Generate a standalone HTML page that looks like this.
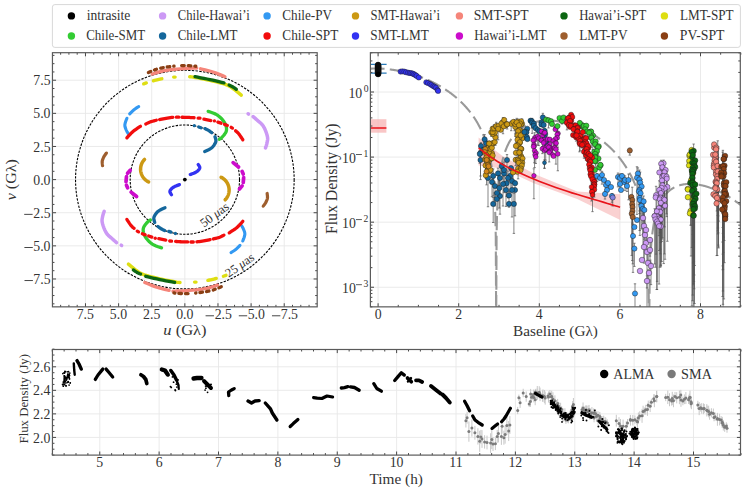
<!DOCTYPE html><html><head><meta charset="utf-8"><style>html,body{margin:0;padding:0;background:#fff;width:746px;height:492px;overflow:hidden}svg{display:block}text{font-family:"Liberation Serif",serif}</style></head><body><svg width="746" height="492" viewBox="0 0 746 492" font-family='"Liberation Serif", serif' fill="#333"><rect width="746" height="492" fill="#fff"/><path d="M284.23 52.7V306.85M251.1 52.7V306.85M217.97 52.7V306.85M184.85 52.7V306.85M151.72 52.7V306.85M118.6 52.7V306.85M85.47 52.7V306.85M52.45 278.98H317.2M52.45 245.85H317.2M52.45 212.72H317.2M52.45 179.6H317.2M52.45 146.47H317.2M52.45 113.35H317.2M52.45 80.22H317.2" stroke="#e8e8e8" stroke-width="0.9" fill="none"/><path d="M378.1 52.7V306.85M458.7 52.7V306.85M539.3 52.7V306.85M619.9 52.7V306.85M700.5 52.7V306.85M370.4 287.24H740.3M370.4 222.16H740.3M370.4 157.08H740.3M370.4 92H740.3" stroke="#e8e8e8" stroke-width="0.9" fill="none"/><path d="M99.75 349.5V455.1M159.12 349.5V455.1M218.5 349.5V455.1M277.88 349.5V455.1M337.25 349.5V455.1M396.62 349.5V455.1M456 349.5V455.1M515.38 349.5V455.1M574.75 349.5V455.1M634.12 349.5V455.1M693.5 349.5V455.1M52.45 437.42H740.5M52.45 413.88H740.5M52.45 390.34H740.5M52.45 366.8H740.5" stroke="#e8e8e8" stroke-width="0.9" fill="none"/><defs><clipPath id="clipL"><rect x="52.45" y="52.7" width="264.75" height="254.15"/></clipPath></defs><g clip-path="url(#clipL)"><circle cx="184.85" cy="179.6" r="109.31" fill="none" stroke="#000" stroke-width="1.1" stroke-dasharray="2.4 1.3"/><circle cx="184.85" cy="179.6" r="54.66" fill="none" stroke="#000" stroke-width="1.1" stroke-dasharray="2.4 1.3"/><circle cx="184.85" cy="179.6" r="1.9" fill="#000"/><polyline points="208.16,111.34 209.53,111.79 211.54,112.46 213.66,113.25 215.68,114.13 217.4,115.1 218.88,116.2 220.3,117.44 221.62,118.78 222.81,120.17 223.85,121.56 224.7,122.9 225.38,124.21 225.91,125.54 226.29,126.87 226.5,128.18 226.54,129.46 226.4,130.7 226,131.93 225.34,133.17 224.51,134.38 223.6,135.51 222.7,136.53 221.9,137.4 221.15,138.1 220.35,138.67 219.57,139.12 219.28,139.26" fill="none" stroke="#33cc33" stroke-width="3.3" stroke-linecap="round" stroke-linejoin="round"/><polyline points="161.54,247.86 160.17,247.41 158.16,246.74 156.04,245.95 154.02,245.07 152.3,244.1 150.82,243 149.4,241.76 148.08,240.42 146.89,239.03 145.85,237.64 145,236.3 144.32,234.99 143.79,233.66 143.41,232.33 143.2,231.02 143.16,229.74 143.3,228.5 143.7,227.27 144.36,226.03 145.19,224.82 146.1,223.69 147,222.67 147.8,221.8 148.55,221.1 149.35,220.53 150.13,220.08 150.42,219.94" fill="none" stroke="#33cc33" stroke-width="3.3" stroke-linecap="round" stroke-linejoin="round"/><polyline points="248.07,113.75 248.53,114.05" fill="none" stroke="#cc99f5" stroke-width="3.5" stroke-linecap="round" stroke-linejoin="round"/><polyline points="121.63,245.45 121.17,245.15" fill="none" stroke="#cc99f5" stroke-width="3.5" stroke-linecap="round" stroke-linejoin="round"/><polyline points="253.14,116.63 254,117.36 254.99,118.2 256,119.09 257,120 258.02,120.9 259.13,121.82 260.27,122.79 261.4,123.84 262.46,125 263.4,126.3 264.26,127.82 265.07,129.55 265.82,131.39 266.48,133.23 267.02,134.97 267.4,136.5 267.61,137.8 267.66,138.94 267.58,139.98 267.42,140.96 267.22,141.95 267,143 266.72,144.17 266.35,145.44 265.93,146.71 265.51,147.89 265.48,147.95" fill="none" stroke="#cc99f5" stroke-width="3.5" stroke-linecap="round" stroke-linejoin="round"/><polyline points="116.56,242.57 115.7,241.84 114.71,241 113.7,240.11 112.7,239.2 111.67,238.3 110.57,237.38 109.42,236.41 108.3,235.36 107.24,234.2 106.3,232.9 105.44,231.38 104.63,229.65 103.88,227.81 103.22,225.97 102.68,224.23 102.3,222.7 102.09,221.4 102.04,220.26 102.12,219.22 102.28,218.24 102.48,217.25 102.7,216.2 102.98,215.03 103.35,213.76 103.77,212.49 104.19,211.31 104.22,211.25" fill="none" stroke="#cc99f5" stroke-width="3.5" stroke-linecap="round" stroke-linejoin="round"/><circle cx="194.3" cy="125.7" r="1.65" fill="#14679c"/><circle cx="175.4" cy="233.5" r="1.65" fill="#14679c"/><polyline points="198.76,127.03 200.94,127.77" fill="none" stroke="#14679c" stroke-width="3.3" stroke-linecap="round" stroke-linejoin="round"/><polyline points="170.94,232.17 168.76,231.43" fill="none" stroke="#14679c" stroke-width="3.3" stroke-linecap="round" stroke-linejoin="round"/><polyline points="204.99,128.6 205.72,128.94 206.69,129.41 207.64,129.9 208.5,130.4 209.33,130.95 210.2,131.59 211.06,132.26 211.71,132.77" fill="none" stroke="#14679c" stroke-width="3.3" stroke-linecap="round" stroke-linejoin="round"/><polyline points="164.71,230.6 163.98,230.26 163.01,229.79 162.06,229.3 161.2,228.8 160.37,228.25 159.5,227.61 158.64,226.94 157.99,226.43" fill="none" stroke="#14679c" stroke-width="3.3" stroke-linecap="round" stroke-linejoin="round"/><polyline points="214.95,136.75 215.33,137.81 215.67,138.95 215.89,140.08 215.9,141.1 215.68,142.06 215.3,143.03 214.79,143.98 214.21,144.9 213.6,145.74 213,146.5 212.42,147.14 211.81,147.69 211.18,148.17 210.51,148.61 209.78,149.05 209,149.5 208.07,150 206.99,150.52 205.85,151.04 204.77,151.51 204.71,151.54" fill="none" stroke="#14679c" stroke-width="3.3" stroke-linecap="round" stroke-linejoin="round"/><polyline points="154.75,222.45 154.37,221.39 154.03,220.25 153.81,219.12 153.8,218.1 154.02,217.14 154.4,216.17 154.91,215.22 155.49,214.3 156.1,213.46 156.7,212.7 157.28,212.06 157.89,211.51 158.52,211.03 159.19,210.59 159.92,210.15 160.7,209.7 161.63,209.2 162.71,208.68 163.85,208.16 164.93,207.69 164.99,207.66" fill="none" stroke="#14679c" stroke-width="3.3" stroke-linecap="round" stroke-linejoin="round"/><polyline points="138.68,106.61 138.42,106.76 137.34,107.42 136.18,108.15 135.03,108.92 134,109.7 133,110.56 131.96,111.56 130.93,112.59 129.98,113.57 129.68,113.89" fill="none" stroke="#3399f2" stroke-width="3.1" stroke-linecap="round" stroke-linejoin="round"/><polyline points="231.02,252.59 231.28,252.44 232.36,251.78 233.52,251.05 234.67,250.28 235.7,249.5 236.7,248.64 237.74,247.64 238.77,246.61 239.72,245.63 240.02,245.31" fill="none" stroke="#3399f2" stroke-width="3.1" stroke-linecap="round" stroke-linejoin="round"/><polyline points="126.94,118.24 126.69,118.86 126.13,120.28 125.59,121.77 125.15,123.19 124.9,124.4 124.85,125.39 124.93,126.29 125.12,127.11 125.38,127.89 125.68,128.68 126,129.5 126.39,130.41 126.88,131.39 127.42,132.37 127.93,133.26" fill="none" stroke="#3399f2" stroke-width="3.1" stroke-linecap="round" stroke-linejoin="round"/><polyline points="242.76,240.96 243.01,240.34 243.57,238.92 244.11,237.43 244.55,236.01 244.8,234.8 244.85,233.81 244.77,232.91 244.58,232.09 244.32,231.31 244.02,230.52 243.7,229.7 243.31,228.79 242.82,227.81 242.28,226.83 241.77,225.94" fill="none" stroke="#3399f2" stroke-width="3.1" stroke-linecap="round" stroke-linejoin="round"/><polyline points="126.88,137.86 126.92,137.81 127.91,136.71 129.08,135.41 130.37,134.03 131.7,132.68 133,131.5 134.39,130.4 135.96,129.29 137.57,128.21 139.09,127.23 140.38,126.4 140.46,126.35" fill="none" stroke="#f20d0d" stroke-width="3.3" stroke-linecap="round" stroke-linejoin="round"/><polyline points="242.82,221.34 242.78,221.39 241.79,222.49 240.62,223.79 239.33,225.17 238,226.52 236.7,227.7 235.31,228.8 233.74,229.91 232.12,230.99 230.61,231.97 229.32,232.8 229.24,232.85" fill="none" stroke="#f20d0d" stroke-width="3.3" stroke-linecap="round" stroke-linejoin="round"/><polyline points="145.78,124.03 146.14,123.83 146.99,123.38 147.95,122.89 148.96,122.42 150,122 151.17,121.61 152.54,121.22 153.97,120.84 155.33,120.5 156.33,120.25" fill="none" stroke="#f20d0d" stroke-width="3.3" stroke-linecap="round" stroke-linejoin="round"/><polyline points="223.92,235.17 223.56,235.37 222.71,235.82 221.75,236.31 220.74,236.78 219.7,237.2 218.53,237.59 217.16,237.98 215.73,238.36 214.37,238.7 213.37,238.95" fill="none" stroke="#f20d0d" stroke-width="3.3" stroke-linecap="round" stroke-linejoin="round"/><polyline points="159.58,119.51 160.5,119.33 161.81,119.07 163.23,118.8 164.66,118.53 166,118.3 167.37,118.09 168.86,117.87 170.36,117.66 171.76,117.47 172.81,117.33" fill="none" stroke="#f20d0d" stroke-width="3.3" stroke-linecap="round" stroke-linejoin="round"/><polyline points="210.12,239.69 209.2,239.87 207.89,240.13 206.47,240.4 205.04,240.67 203.7,240.9 202.33,241.11 200.84,241.33 199.34,241.54 197.94,241.73 196.89,241.87" fill="none" stroke="#f20d0d" stroke-width="3.3" stroke-linecap="round" stroke-linejoin="round"/><polyline points="176.4,117.2 178.8,117.2" fill="none" stroke="#f20d0d" stroke-width="3.3" stroke-linecap="round" stroke-linejoin="round"/><polyline points="193.3,242 190.9,242" fill="none" stroke="#f20d0d" stroke-width="3.3" stroke-linecap="round" stroke-linejoin="round"/><polyline points="182,117.23 182.81,117.24 184.06,117.28 185.4,117.31 186.75,117.35 188,117.4 189.26,117.46 190.62,117.53 191.99,117.61 193.26,117.69 194.1,117.74" fill="none" stroke="#f20d0d" stroke-width="3.3" stroke-linecap="round" stroke-linejoin="round"/><polyline points="187.7,241.97 186.89,241.96 185.64,241.92 184.3,241.89 182.95,241.85 181.7,241.8 180.44,241.74 179.08,241.67 177.71,241.59 176.44,241.51 175.6,241.46" fill="none" stroke="#f20d0d" stroke-width="3.3" stroke-linecap="round" stroke-linejoin="round"/><polyline points="198.1,118.08 200,118.22" fill="none" stroke="#f20d0d" stroke-width="3.3" stroke-linecap="round" stroke-linejoin="round"/><polyline points="171.6,241.12 169.7,240.98" fill="none" stroke="#f20d0d" stroke-width="3.3" stroke-linecap="round" stroke-linejoin="round"/><polyline points="203.88,119.19 210.92,120.51" fill="none" stroke="#f20d0d" stroke-width="3.3" stroke-linecap="round" stroke-linejoin="round"/><polyline points="165.82,240.01 158.78,238.69" fill="none" stroke="#f20d0d" stroke-width="3.3" stroke-linecap="round" stroke-linejoin="round"/><circle cx="214.45" cy="120.95" r="1.65" fill="#f20d0d"/><circle cx="155.25" cy="238.25" r="1.65" fill="#f20d0d"/><polyline points="217.85,122.12 221.05,123.18" fill="none" stroke="#f20d0d" stroke-width="3.3" stroke-linecap="round" stroke-linejoin="round"/><polyline points="151.85,237.08 148.65,236.02" fill="none" stroke="#f20d0d" stroke-width="3.3" stroke-linecap="round" stroke-linejoin="round"/><polyline points="224.53,124.36 227.37,125.44" fill="none" stroke="#f20d0d" stroke-width="3.3" stroke-linecap="round" stroke-linejoin="round"/><polyline points="145.17,234.84 142.33,233.76" fill="none" stroke="#f20d0d" stroke-width="3.3" stroke-linecap="round" stroke-linejoin="round"/><polyline points="231.16,127.31 232.44,128.09" fill="none" stroke="#f20d0d" stroke-width="3.3" stroke-linecap="round" stroke-linejoin="round"/><polyline points="138.54,231.89 137.26,231.11" fill="none" stroke="#f20d0d" stroke-width="3.3" stroke-linecap="round" stroke-linejoin="round"/><polyline points="235.59,130.82 235.71,130.91 236.34,131.41 237.04,132 237.77,132.69 238.5,133.5 239.3,134.55 240.23,135.85 241.18,137.26 242.09,138.62 242.84,139.77" fill="none" stroke="#f20d0d" stroke-width="3.3" stroke-linecap="round" stroke-linejoin="round"/><polyline points="134.11,228.38 133.99,228.29 133.36,227.79 132.66,227.2 131.93,226.51 131.2,225.7 130.4,224.65 129.47,223.35 128.52,221.94 127.61,220.58 126.86,219.43" fill="none" stroke="#f20d0d" stroke-width="3.3" stroke-linecap="round" stroke-linejoin="round"/><polyline points="144.53,159.4 144.3,159.63 144,159.96 143.74,160.28 143.48,160.61 143.23,160.95 142.99,161.29 142.76,161.64 142.55,162 142.34,162.36 142.14,162.73 141.96,163.11 141.78,163.49 141.62,163.88 141.47,164.27 141.33,164.66 141.21,165.06 141.09,165.47 140.99,165.87 140.89,166.28 140.81,166.69 140.75,167.1 140.69,167.52 140.65,167.94 140.62,168.36 140.6,168.78 140.59,169.19 140.6,169.61 140.62,170.03 140.65,170.45 140.7,170.87 140.75,171.28 140.82,171.69 140.9,172.1 140.99,172.51 141.1,172.92 141.21,173.32 141.34,173.72 141.48,174.12 141.63,174.51 141.8,174.89 141.97,175.27 142.16,175.65 142.36,176.02 142.56,176.38 142.78,176.74 143.01,177.09 143.25,177.44 143.5,177.77 143.76,178.1 144.02,178.43 144.3,178.74 144.59,179.04 144.89,179.34 145.19,179.63 145.5,179.91 145.82,180.18 146.15,180.44 146.49,180.68 146.83,180.93 147.18,181.16 147.54,181.37 147.9,181.58 148.3,181.79 148.59,181.92" fill="none" stroke="#cc9914" stroke-width="3.5" stroke-linecap="round" stroke-linejoin="round"/><polyline points="225.17,199.8 225.4,199.57 225.7,199.24 225.96,198.92 226.22,198.59 226.47,198.25 226.71,197.91 226.94,197.56 227.15,197.2 227.36,196.84 227.56,196.47 227.74,196.09 227.92,195.71 228.08,195.32 228.23,194.93 228.37,194.54 228.49,194.14 228.61,193.73 228.71,193.33 228.81,192.92 228.89,192.51 228.95,192.1 229.01,191.68 229.05,191.26 229.08,190.84 229.1,190.42 229.11,190.01 229.1,189.59 229.08,189.17 229.05,188.75 229,188.33 228.95,187.92 228.88,187.51 228.8,187.1 228.71,186.69 228.6,186.28 228.49,185.88 228.36,185.48 228.22,185.08 228.07,184.69 227.9,184.31 227.73,183.93 227.54,183.55 227.34,183.18 227.14,182.82 226.92,182.46 226.69,182.11 226.45,181.76 226.2,181.43 225.94,181.1 225.68,180.77 225.4,180.46 225.11,180.16 224.81,179.86 224.51,179.57 224.2,179.29 223.88,179.02 223.55,178.76 223.21,178.52 222.87,178.27 222.52,178.04 222.16,177.83 221.8,177.62 221.4,177.41 221.11,177.28" fill="none" stroke="#cc9914" stroke-width="3.5" stroke-linecap="round" stroke-linejoin="round"/><polyline points="198.19,164.52 198.72,165.24 199.3,166.13 199.7,167 199.8,167.8 199.6,168.54 199.2,169.27 198.63,169.99 197.92,170.7 197.1,171.37 196.2,172 195.09,172.62 193.71,173.23 192.22,173.81 190.79,174.34 190.25,174.53" fill="none" stroke="#3333f2" stroke-width="3.3" stroke-linecap="round" stroke-linejoin="round"/><polyline points="171.51,194.68 170.97,193.96 170.4,193.07 170,192.2 169.9,191.4 170.1,190.66 170.5,189.93 171.07,189.21 171.78,188.5 172.6,187.83 173.5,187.2 174.61,186.58 175.99,185.97 177.47,185.39 178.91,184.86 179.45,184.67" fill="none" stroke="#3333f2" stroke-width="3.3" stroke-linecap="round" stroke-linejoin="round"/><polyline points="152.18,74.11 154.2,73.46 156.67,72.67 159.4,71.86 162.22,71.1 165,70.5 167.82,70.04 170.83,69.66 173.94,69.33 177.06,69.06 180.11,68.82 183,68.6 185.9,68.42 188.9,68.28 191.82,68.18 194.5,68.11 196.75,68.05" fill="none" stroke="#f5857a" stroke-width="3.3" stroke-linecap="round" stroke-linejoin="round"/><polyline points="217.52,285.09 215.5,285.74 213.03,286.53 210.3,287.34 207.47,288.1 204.7,288.7 201.88,289.16 198.87,289.54 195.76,289.87 192.64,290.14 189.59,290.38 186.7,290.6 183.8,290.78 180.8,290.92 177.87,291.02 175.2,291.09 172.95,291.15" fill="none" stroke="#f5857a" stroke-width="3.3" stroke-linecap="round" stroke-linejoin="round"/><polyline points="200.6,68.79 202.65,69.27 205.16,69.87 207.85,70.54 210.53,71.26 213,72 215.44,72.85 218.04,73.84 220.62,74.88 223.02,75.86 224.97,76.68" fill="none" stroke="#f5857a" stroke-width="3.3" stroke-linecap="round" stroke-linejoin="round"/><polyline points="169.1,290.41 167.05,289.93 164.54,289.33 161.85,288.66 159.17,287.94 156.7,287.2 154.26,286.35 151.66,285.36 149.07,284.32 146.68,283.34 144.73,282.52" fill="none" stroke="#f5857a" stroke-width="3.3" stroke-linecap="round" stroke-linejoin="round"/><polyline points="130.24,170.2 127.56,173.3" fill="none" stroke="#cc0ccc" stroke-width="3.7" stroke-linecap="round" stroke-linejoin="round"/><polyline points="239.46,189 242.14,185.9" fill="none" stroke="#cc0ccc" stroke-width="3.7" stroke-linecap="round" stroke-linejoin="round"/><polyline points="126.47,176.7 126.03,181.6" fill="none" stroke="#cc0ccc" stroke-width="3.7" stroke-linecap="round" stroke-linejoin="round"/><polyline points="243.23,182.5 243.67,177.6" fill="none" stroke="#cc0ccc" stroke-width="3.7" stroke-linecap="round" stroke-linejoin="round"/><polyline points="126.46,185.17 127.64,187.83" fill="none" stroke="#cc0ccc" stroke-width="3.7" stroke-linecap="round" stroke-linejoin="round"/><polyline points="243.24,174.03 242.06,171.37" fill="none" stroke="#cc0ccc" stroke-width="3.7" stroke-linecap="round" stroke-linejoin="round"/><polyline points="131.11,192.15 136.59,196.55" fill="none" stroke="#cc0ccc" stroke-width="3.7" stroke-linecap="round" stroke-linejoin="round"/><polyline points="238.59,167.05 233.11,162.65" fill="none" stroke="#cc0ccc" stroke-width="3.7" stroke-linecap="round" stroke-linejoin="round"/><polyline points="143.71,83.85 146.29,82.95" fill="none" stroke="#dede12" stroke-width="3.4" stroke-linecap="round" stroke-linejoin="round"/><polyline points="225.99,275.35 223.41,276.25" fill="none" stroke="#dede12" stroke-width="3.4" stroke-linecap="round" stroke-linejoin="round"/><polyline points="153.44,80.76 154.56,80.47 155.76,80.16 156.94,79.86 158,79.6 159.02,79.38 160.09,79.16 161.14,78.95 161.83,78.82" fill="none" stroke="#dede12" stroke-width="3.4" stroke-linecap="round" stroke-linejoin="round"/><polyline points="216.26,278.44 215.14,278.73 213.94,279.04 212.76,279.34 211.7,279.6 210.68,279.83 209.61,280.04 208.56,280.25 207.87,280.38" fill="none" stroke="#dede12" stroke-width="3.4" stroke-linecap="round" stroke-linejoin="round"/><polyline points="173.7,77.1 175.1,77.1" fill="none" stroke="#dede12" stroke-width="3.4" stroke-linecap="round" stroke-linejoin="round"/><polyline points="196,282.1 194.6,282.1" fill="none" stroke="#dede12" stroke-width="3.4" stroke-linecap="round" stroke-linejoin="round"/><polyline points="189.7,76.75 190.34,76.77 191.51,76.87 193.1,77.1 195.25,77.47 197.91,77.95 200.91,78.52 204.04,79.14 207.13,79.77 210,80.4 212.74,81.03 215.53,81.68 218.28,82.35 220.9,83.03 223.3,83.72 225.4,84.4 227.09,85.04 228.44,85.63 229.56,86.22 230.61,86.86 231.71,87.61 233,88.5 234.6,89.66 236.41,91.09 238.28,92.61 240.04,94.07 241.29,95.12" fill="none" stroke="#dede12" stroke-width="3.4" stroke-linecap="round" stroke-linejoin="round"/><polyline points="180,282.45 179.36,282.43 178.19,282.33 176.6,282.1 174.45,281.73 171.79,281.25 168.79,280.68 165.66,280.06 162.57,279.43 159.7,278.8 156.96,278.17 154.17,277.52 151.42,276.85 148.8,276.17 146.4,275.48 144.3,274.8 142.61,274.16 141.26,273.57 140.14,272.98 139.09,272.34 137.99,271.59 136.7,270.7 135.1,269.54 133.29,268.11 131.42,266.59 129.66,265.13 128.41,264.08" fill="none" stroke="#dede12" stroke-width="3.4" stroke-linecap="round" stroke-linejoin="round"/><polyline points="195.02,76.71 195.22,76.74 197.74,77.21 200.73,77.77 203.93,78.38 207.1,79 210,79.6 212.84,80.23 215.85,80.93 218.84,81.65 221.59,82.32 223.91,82.89 224,82.91" fill="none" stroke="#0c6612" stroke-width="3.3" stroke-linecap="round" stroke-linejoin="round"/><polyline points="174.68,282.49 174.48,282.46 171.96,281.99 168.97,281.43 165.77,280.82 162.6,280.2 159.7,279.6 156.86,278.97 153.85,278.27 150.86,277.55 148.11,276.88 145.79,276.31 145.7,276.29" fill="none" stroke="#0c6612" stroke-width="3.3" stroke-linecap="round" stroke-linejoin="round"/><polyline points="229.1,85.08 230.01,85.49 231.05,85.99 232.08,86.5 233,87 233.88,87.55 234.79,88.17 235.69,88.81 236.37,89.32" fill="none" stroke="#0c6612" stroke-width="3.3" stroke-linecap="round" stroke-linejoin="round"/><polyline points="140.6,274.12 139.69,273.71 138.65,273.21 137.62,272.7 136.7,272.2 135.82,271.65 134.91,271.03 134.01,270.39 133.33,269.88" fill="none" stroke="#0c6612" stroke-width="3.3" stroke-linecap="round" stroke-linejoin="round"/><polyline points="106.44,153.08 106.08,153.55 105.53,154.3 105.01,155 104.6,155.6 104.29,156.07 104.05,156.46 103.84,156.81 103.66,157.16 103.49,157.54 103.3,158 103.09,158.52 102.86,159.07 102.63,159.65 102.43,160.28 102.28,160.96 102.2,161.7 102.21,162.59 102.3,163.63 102.43,164.73 102.57,165.72" fill="none" stroke="#9e5e2e" stroke-width="3.2" stroke-linecap="round" stroke-linejoin="round"/><polyline points="263.26,206.12 263.62,205.65 264.17,204.9 264.69,204.2 265.1,203.6 265.41,203.13 265.65,202.74 265.86,202.39 266.04,202.04 266.21,201.66 266.4,201.2 266.61,200.68 266.84,200.13 267.07,199.55 267.27,198.92 267.42,198.24 267.5,197.5 267.49,196.61 267.4,195.57 267.27,194.47 267.13,193.48" fill="none" stroke="#9e5e2e" stroke-width="3.2" stroke-linecap="round" stroke-linejoin="round"/><polyline points="148.4,72.5 149.08,72.19 150.04,71.74 151.04,71.3 152,70.9 153.02,70.5 154.16,70.08 155.32,69.66 156.41,69.27 156.45,69.25" fill="none" stroke="#8a3f14" stroke-width="3.3" stroke-linecap="round" stroke-linejoin="round" stroke-dasharray="2.6 4.0"/><polyline points="221.3,286.7 220.62,287.01 219.66,287.46 218.66,287.9 217.7,288.3 216.68,288.7 215.54,289.12 214.38,289.54 213.29,289.93 213.25,289.95" fill="none" stroke="#8a3f14" stroke-width="3.3" stroke-linecap="round" stroke-linejoin="round" stroke-dasharray="2.6 4.0"/><polyline points="160.72,68.17 161.12,68.09 162.51,67.81 164.01,67.52 165.55,67.24 167,67 168.5,66.79 170.16,66.59 171.84,66.41 173.41,66.24 174.06,66.17" fill="none" stroke="#8a3f14" stroke-width="3.3" stroke-linecap="round" stroke-linejoin="round" stroke-dasharray="2.6 4.0"/><polyline points="208.98,291.03 208.58,291.11 207.19,291.39 205.69,291.68 204.15,291.96 202.7,292.2 201.2,292.41 199.54,292.61 197.86,292.79 196.29,292.96 195.64,293.03" fill="none" stroke="#8a3f14" stroke-width="3.3" stroke-linecap="round" stroke-linejoin="round" stroke-dasharray="2.6 4.0"/><polyline points="181.65,65.6 182.36,65.6 183.97,65.61 185.71,65.62 187.43,65.65 189,65.7 190.53,65.79 192.16,65.91 193.76,66.06 195.24,66.2 195.76,66.25" fill="none" stroke="#8a3f14" stroke-width="3.3" stroke-linecap="round" stroke-linejoin="round" stroke-dasharray="2.6 4.0"/><polyline points="188.05,293.6 187.34,293.6 185.72,293.59 183.99,293.58 182.27,293.55 180.7,293.5 179.17,293.41 177.54,293.29 175.94,293.14 174.46,293 173.94,292.95" fill="none" stroke="#8a3f14" stroke-width="3.3" stroke-linecap="round" stroke-linejoin="round" stroke-dasharray="2.6 4.0"/></g><text transform="translate(217 218) rotate(-37)" font-size="12.5" text-anchor="middle">50 <tspan font-style="italic">μ</tspan>as</text><text transform="translate(242 268.5) rotate(-35)" font-size="12.5" text-anchor="middle">25 <tspan font-style="italic">μ</tspan>as</text><defs><clipPath id="clipR"><rect x="370.4" y="52.7" width="369.9" height="254.15"/></clipPath></defs><g clip-path="url(#clipR)"><rect x="370.4" y="119.2" width="16" height="13.5" fill="#f7b3b3" opacity="0.75"/><line x1="370.4" y1="128" x2="386.4" y2="128" stroke="#e8141b" stroke-width="1.6"/><polygon points="478.6,137.5 502.2,155.7 534.3,174 577.2,191.5 620.3,194.3 620.3,220.1 577.2,199 534.3,183.6 502.2,168.6 478.6,165.4" fill="#f7b3b3" opacity="0.6"/><polyline points="370.04,68.69 370.44,68.66 370.85,68.64 371.25,68.62 371.65,68.6 372.06,68.58 372.46,68.56 372.86,68.55 373.26,68.53 373.67,68.52 374.07,68.51 374.47,68.5 374.88,68.49 375.28,68.48 375.68,68.47 376.09,68.46 376.49,68.46 376.89,68.45 377.29,68.45 377.7,68.45 378.1,68.45 378.5,68.46 378.91,68.48 379.31,68.5 379.71,68.52 380.12,68.54 380.52,68.56 380.92,68.58 381.32,68.61 381.73,68.63 382.13,68.66 382.53,68.69 382.94,68.72 383.34,68.75 383.74,68.78 384.15,68.81 384.55,68.85 384.95,68.88 385.35,68.92 385.76,68.96 386.16,68.99 386.56,69.03 386.97,69.08 387.37,69.12 387.77,69.16 388.18,69.21 388.58,69.25 388.98,69.3 389.38,69.35 389.79,69.4 390.19,69.45 390.59,69.5 391,69.56 391.4,69.61 391.8,69.67 392.21,69.72 392.61,69.78 393.01,69.84 393.41,69.9 393.82,69.96 394.22,70.03 394.62,70.09 395.03,70.16 395.43,70.22 395.83,70.29 396.24,70.36 396.64,70.43 397.04,70.5 397.44,70.58 397.85,70.65 398.25,70.73 398.65,70.8 399.06,70.88 399.46,70.96 399.86,71.04 400.27,71.12 400.67,71.21 401.07,71.29 401.47,71.38 401.88,71.46 402.28,71.55 402.68,71.64 403.09,71.73 403.49,71.82 403.89,71.92 404.3,72.01 404.7,72.11 405.1,72.2 405.5,72.3 405.91,72.4 406.31,72.5 406.71,72.61 407.12,72.71 407.52,72.81 407.92,72.92 408.33,73.03 408.73,73.14 409.13,73.25 409.53,73.36 409.94,73.47 410.34,73.59 410.74,73.7 411.15,73.82 411.55,73.94 411.95,74.06 412.36,74.18 412.76,74.3 413.16,74.42 413.56,74.55 413.97,74.68 414.37,74.8 414.77,74.93 415.18,75.06 415.58,75.2 415.98,75.33 416.39,75.46 416.79,75.6 417.19,75.74 417.59,75.88 418,76.02 418.4,76.16 418.8,76.3 419.21,76.45 419.61,76.6 420.01,76.74 420.42,76.89 420.82,77.04 421.22,77.2 421.62,77.35 422.03,77.51 422.43,77.66 422.83,77.82 423.24,77.98 423.64,78.14 424.04,78.31 424.45,78.47 424.85,78.64 425.25,78.81 425.65,78.98 426.06,79.15 426.46,79.32 426.86,79.49 427.27,79.67 427.67,79.85 428.07,80.03 428.48,80.21 428.88,80.39 429.28,80.57 429.68,80.76 430.09,80.95 430.49,81.14 430.89,81.33 431.3,81.52 431.7,81.72 432.1,81.91 432.51,82.11 432.91,82.31 433.31,82.51 433.71,82.72 434.12,82.92 434.52,83.13 434.92,83.34 435.33,83.55 435.73,83.76 436.13,83.98 436.54,84.19 436.94,84.41 437.34,84.63 437.74,84.86 438.15,85.08 438.55,85.31 438.95,85.54 439.36,85.77 439.76,86 440.16,86.23 440.57,86.47 440.97,86.71 441.37,86.95 441.77,87.2 442.18,87.44 442.58,87.69 442.98,87.94 443.39,88.19 443.79,88.45 444.19,88.7 444.6,88.96 445,89.22 445.4,89.49 445.8,89.76 446.21,90.02 446.61,90.3 447.01,90.57 447.42,90.85 447.82,91.13 448.22,91.41 448.63,91.69 449.03,91.98 449.43,92.27 449.83,92.56 450.24,92.86 450.64,93.15 451.04,93.45 451.45,93.76 451.85,94.06 452.25,94.37 452.66,94.69 453.06,95 453.46,95.32 453.86,95.64 454.27,95.97 454.67,96.3 455.07,96.63 455.48,96.96 455.88,97.3 456.28,97.64 456.69,97.99 457.09,98.34 457.49,98.69 457.89,99.05 458.3,99.41 458.7,99.77 459.1,100.14 459.51,100.51 459.91,100.89 460.31,101.27 460.72,101.65 461.12,102.04 461.52,102.43 461.92,102.83 462.33,103.23 462.73,103.64 463.13,104.05 463.54,104.46 463.94,104.88 464.34,105.31 464.74,105.74 465.15,106.18 465.55,106.62 465.95,107.07 466.36,107.52 466.76,107.98 467.16,108.44 467.57,108.91 467.97,109.39 468.37,109.87 468.77,110.36 469.18,110.86 469.58,111.36 469.98,111.87 470.39,112.39 470.79,112.92 471.19,113.45 471.6,113.99 472,114.54 472.4,115.1 472.8,115.67 473.21,116.24 473.61,116.83 474.01,117.42 474.42,118.03 474.82,118.64 475.22,119.27 475.63,119.9 476.03,120.55 476.43,121.21 476.83,121.88 477.24,122.57 477.64,123.27 478.04,123.98 478.45,124.71 478.85,125.45 479.25,126.21 479.66,126.99 480.06,127.78 480.46,128.59 480.86,129.42 481.27,130.27 481.67,131.14 482.07,132.04 482.48,132.96 482.88,133.9 483.28,134.87 483.69,135.87 484.09,136.89 484.49,137.95 484.89,139.05 485.3,140.18 485.7,141.35 486.1,142.56 486.51,143.82 486.91,145.13 487.31,146.5 487.72,147.92 488.12,149.41 488.52,150.96 488.92,152.6 489.33,154.33 489.73,156.15 490.13,158.09 490.54,160.15 490.94,162.36 491.34,164.74 491.75,167.32 492.15,170.13 492.55,173.23 492.95,176.68 493.36,180.58 493.76,185.06 494.16,190.35 494.57,196.8 494.97,205.1 495.37,216.77 495.78,236.78 496.18,330 496.58,235.82 496.98,216.66 497.39,205.42 497.79,197.47 498.19,191.32 498.6,186.31 499,182.1 499.4,178.46 499.81,175.27 500.21,172.42 500.61,169.87 501.01,167.54 501.42,165.41 501.82,163.45 502.22,161.64 502.63,159.95 503.03,158.37 503.43,156.89 503.84,155.49 504.24,154.18 504.64,152.94 505.04,151.76 505.45,150.64 505.85,149.58 506.25,148.56 506.66,147.59 507.06,146.66 507.46,145.78 507.87,144.93 508.27,144.11 508.67,143.33 509.07,142.57 509.48,141.84 509.88,141.14 510.28,140.47 510.69,139.82 511.09,139.19 511.49,138.58 511.9,138 512.3,137.43 512.7,136.88 513.1,136.35 513.51,135.83 513.91,135.34 514.31,134.85 514.72,134.38 515.12,133.93 515.52,133.49 515.93,133.06 516.33,132.64 516.73,132.24 517.13,131.85 517.54,131.46 517.94,131.09 518.34,130.73 518.75,130.38 519.15,130.04 519.55,129.71 519.96,129.39 520.36,129.08 520.76,128.77 521.16,128.48 521.57,128.19 521.97,127.91 522.37,127.64 522.78,127.37 523.18,127.12 523.58,126.86 523.99,126.62 524.39,126.38 524.79,126.15 525.19,125.93 525.6,125.71 526,125.5 526.4,125.29 526.81,125.09 527.21,124.9 527.61,124.71 528.02,124.52 528.42,124.35 528.82,124.17 529.22,124 529.63,123.84 530.03,123.68 530.43,123.53 530.84,123.38 531.24,123.24 531.64,123.1 532.05,122.96 532.45,122.83 532.85,122.7 533.25,122.58 533.66,122.46 534.06,122.35 534.46,122.24 534.87,122.13 535.27,122.03 535.67,121.93 536.08,121.84 536.48,121.75 536.88,121.66 537.28,121.57 537.69,121.49 538.09,121.42 538.49,121.34 538.9,121.27 539.3,121.21 539.7,121.14 540.11,121.09 540.51,121.03 540.91,120.97 541.31,120.92 541.72,120.88 542.12,120.83 542.52,120.79 542.93,120.75 543.33,120.72 543.73,120.69 544.14,120.66 544.54,120.63 544.94,120.61 545.34,120.59 545.75,120.57 546.15,120.55 546.55,120.54 546.96,120.53 547.36,120.53 547.76,120.52 548.17,120.52 548.57,120.52 548.97,120.52 549.37,120.53 549.78,120.54 550.18,120.55 550.58,120.56 550.99,120.58 551.39,120.6 551.79,120.62 552.2,120.64 552.6,120.67 553,120.7 553.4,120.73 553.81,120.76 554.21,120.8 554.61,120.84 555.02,120.88 555.42,120.92 555.82,120.97 556.23,121.01 556.63,121.06 557.03,121.12 557.43,121.17 557.84,121.23 558.24,121.28 558.64,121.35 559.05,121.41 559.45,121.47 559.85,121.54 560.26,121.61 560.66,121.68 561.06,121.76 561.46,121.83 561.87,121.91 562.27,121.99 562.67,122.08 563.08,122.16 563.48,122.25 563.88,122.34 564.29,122.43 564.69,122.52 565.09,122.62 565.49,122.72 565.9,122.82 566.3,122.92 566.7,123.02 567.11,123.13 567.51,123.24 567.91,123.35 568.32,123.46 568.72,123.58 569.12,123.69 569.52,123.81 569.93,123.93 570.33,124.06 570.73,124.18 571.14,124.31 571.54,124.44 571.94,124.57 572.35,124.7 572.75,124.84 573.15,124.98 573.55,125.12 573.96,125.26 574.36,125.4 574.76,125.55 575.17,125.7 575.57,125.85 575.97,126 576.38,126.15 576.78,126.31 577.18,126.47 577.58,126.63 577.99,126.79 578.39,126.96 578.79,127.12 579.2,127.29 579.6,127.46 580,127.64 580.41,127.81 580.81,127.99 581.21,128.17 581.61,128.35 582.02,128.54 582.42,128.72 582.82,128.91 583.23,129.1 583.63,129.3 584.03,129.49 584.44,129.69 584.84,129.89 585.24,130.09 585.64,130.29 586.05,130.5 586.45,130.71 586.85,130.92 587.26,131.13 587.66,131.35 588.06,131.57 588.47,131.79 588.87,132.01 589.27,132.23 589.67,132.46 590.08,132.69 590.48,132.92 590.88,133.16 591.29,133.39 591.69,133.63 592.09,133.87 592.5,134.12 592.9,134.36 593.3,134.61 593.7,134.86 594.11,135.12 594.51,135.37 594.91,135.63 595.32,135.89 595.72,136.16 596.12,136.43 596.53,136.7 596.93,136.97 597.33,137.24 597.73,137.52 598.14,137.8 598.54,138.08 598.94,138.37 599.35,138.66 599.75,138.95 600.15,139.25 600.56,139.54 600.96,139.84 601.36,140.15 601.76,140.45 602.17,140.76 602.57,141.08 602.97,141.39 603.38,141.71 603.78,142.03 604.18,142.36 604.59,142.69 604.99,143.02 605.39,143.35 605.79,143.69 606.2,144.03 606.6,144.38 607,144.73 607.41,145.08 607.81,145.43 608.21,145.79 608.62,146.16 609.02,146.52 609.42,146.89 609.82,147.27 610.23,147.65 610.63,148.03 611.03,148.42 611.44,148.81 611.84,149.2 612.24,149.62 612.65,150.03 613.05,150.46 613.45,150.89 613.85,151.32 614.26,151.75 614.66,152.19 615.06,152.64 615.47,153.09 615.87,153.55 616.27,154.01 616.68,154.48 617.08,154.95 617.48,155.42 617.88,155.91 618.29,156.39 618.69,156.89 619.09,157.39 619.5,157.89 619.9,158.4 620.3,158.92 620.71,159.45 621.11,159.98 621.51,160.51 621.91,161.06 622.32,161.61 622.72,162.17 623.12,162.74 623.53,163.31 623.93,163.89 624.33,164.48 624.74,165.08 625.14,165.69 625.54,166.3 625.94,166.93 626.35,167.56 626.75,168.21 627.15,168.86 627.56,169.53 627.96,170.2 628.36,170.89 628.77,171.59 629.17,172.3 629.57,173.02 629.97,173.75 630.38,174.5 630.78,175.27 631.18,176.04 631.59,176.83 631.99,177.64 632.39,178.47 632.8,179.31 633.2,180.17 633.6,181.05 634,181.95 634.41,182.87 634.81,183.81 635.21,184.77 635.62,185.76 636.02,186.78 636.42,187.82 636.83,188.9 637.23,190 637.63,191.14 638.03,192.31 638.44,193.52 638.84,194.77 639.24,196.07 639.65,197.41 640.05,198.81 640.45,200.26 640.86,201.78 641.26,203.36 641.66,205.02 642.06,206.76 642.47,208.6 642.87,210.54 643.27,212.6 643.68,214.79 644.08,217.14 644.48,219.67 644.89,222.42 645.29,225.42 645.69,228.74 646.09,232.46 646.5,236.68 646.9,241.57 647.3,247.41 647.71,254.68 648.11,264.35 648.51,278.9 648.92,309.81 649.32,310.96 649.72,279.79 650.12,265.48 650.53,256.14 650.93,249.21 651.33,243.73 651.74,239.2 652.14,235.34 652.54,232 652.95,229.05 653.35,226.42 653.75,224.04 654.15,221.88 654.56,219.91 654.96,218.09 655.36,216.4 655.77,214.84 656.17,213.38 656.57,212.01 656.98,210.73 657.38,209.52 657.78,208.38 658.18,207.3 658.59,206.28 658.99,205.31 659.39,204.39 659.8,203.51 660.2,202.68 660.6,201.88 661.01,201.12 661.41,200.39 661.81,199.69 662.21,199.03 662.62,198.39 663.02,197.77 663.42,197.18 663.83,196.62 664.23,196.07 664.63,195.55 665.04,195.05 665.44,194.57 665.84,194.1 666.24,193.65 666.65,193.22 667.05,192.8 667.45,192.4 667.86,192.02 668.26,191.64 668.66,191.29 669.07,190.94 669.47,190.61 669.87,190.28 670.27,189.97 670.68,189.67 671.08,189.39 671.48,189.11 671.89,188.84 672.29,188.58 672.69,188.33 673.1,188.09 673.5,187.86 673.9,187.64 674.3,187.43 674.71,187.22 675.11,187.03 675.51,186.84 675.92,186.65 676.32,186.48 676.72,186.31 677.13,186.15 677.53,186 677.93,185.85 678.33,185.71 678.74,185.57 679.14,185.44 679.54,185.32 679.95,185.2 680.35,185.09 680.75,184.99 681.16,184.89 681.56,184.79 681.96,184.7 682.36,184.62 682.77,184.54 683.17,184.46 683.57,184.4 683.98,184.33 684.38,184.27 684.78,184.22 685.19,184.17 685.59,184.12 685.99,184.08 686.39,184.04 686.8,184.01 687.2,183.98 687.6,183.95 688.01,183.93 688.41,183.92 688.81,183.9 689.22,183.89 689.62,183.89 690.02,183.89 690.42,183.89 690.83,183.89 691.23,183.9 691.63,183.92 692.04,183.93 692.44,183.95 692.84,183.98 693.25,184 693.65,184.03 694.05,184.07 694.45,184.1 694.86,184.14 695.26,184.19 695.66,184.23 696.07,184.28 696.47,184.34 696.87,184.39 697.28,184.45 697.68,184.51 698.08,184.58 698.48,184.64 698.89,184.71 699.29,184.79 699.69,184.86 700.1,184.94 700.5,185.02 700.9,185.11 701.31,185.19 701.71,185.28 702.11,185.38 702.51,185.47 702.92,185.57 703.32,185.67 703.72,185.77 704.13,185.88 704.53,185.99 704.93,186.1 705.34,186.21 705.74,186.33 706.14,186.45 706.54,186.57 706.95,186.69 707.35,186.82 707.75,186.95 708.16,187.08 708.56,187.21 708.96,187.35 709.37,187.48 709.77,187.62 710.17,187.77 710.57,187.91 710.98,188.06 711.38,188.21 711.78,188.36 712.19,188.52 712.59,188.67 712.99,188.83 713.4,188.99 713.8,189.16 714.2,189.32 714.6,189.49 715.01,189.66 715.41,189.83 715.81,190.01 716.22,190.19 716.62,190.37 717.02,190.55 717.43,190.73 717.83,190.92 718.23,191.11 718.63,191.3 719.04,191.49 719.44,191.68 719.84,191.88 720.25,192.08 720.65,192.28 721.05,192.48 721.46,192.69 721.86,192.9 722.26,193.11 722.66,193.32 723.07,193.53 723.47,193.75 723.87,193.97 724.28,194.19 724.68,194.41 725.08,194.64 725.49,194.86 725.89,195.09 726.29,195.32 726.69,195.56 727.1,195.79 727.5,196.03 727.9,196.27 728.31,196.51 728.71,196.76 729.11,197 729.52,197.25 729.92,197.5 730.32,197.76 730.72,198.01 731.13,198.27 731.53,198.53 731.93,198.79 732.34,199.05 732.74,199.32 733.14,199.59 733.55,199.86 733.95,200.13 734.35,200.4 734.75,200.68 735.16,200.96 735.56,201.24 735.96,201.52 736.37,201.81 736.77,202.1 737.17,202.39 737.58,202.68 737.98,202.97 738.38,203.27 738.78,203.57 739.19,203.87 739.59,204.17 739.99,204.48 740.4,204.79 740.8,205.1 741.2,205.41 741.61,205.73 742.01,206.05 742.41,206.37 742.81,206.69" fill="none" stroke="#999" stroke-width="2.1" stroke-dasharray="14.5 5.3"/><line x1="370.4" y1="64.4" x2="386.6" y2="64.4" stroke="#2b7bb9" stroke-width="1.3"/><line x1="370.4" y1="73.2" x2="386.6" y2="73.2" stroke="#2b7bb9" stroke-width="1.3"/><path d="M481 142.63V155.62M479.8 142.63h2.4M479.8 155.62h2.4M486 140.29V150.74M484.8 140.29h2.4M484.8 150.74h2.4M492 176.83V196.78M490.8 176.83h2.4M490.8 196.78h2.4M500 189.64V214.18M498.8 189.64h2.4M498.8 214.18h2.4M506 184.26V206.41M504.8 184.26h2.4M504.8 206.41h2.4M512 178.14V189.18M510.8 178.14h2.4M510.8 189.18h2.4M515 180.95V215.84M513.8 180.95h2.4M513.8 215.84h2.4M495 182.02V197.36M493.8 182.02h2.4M493.8 197.36h2.4M488 167.94V206.75M486.8 167.94h2.4M486.8 206.75h2.4M507 154.57V175.52M505.8 154.57h2.4M505.8 175.52h2.4M480.5 143.69V179.6M479.3 143.69h2.4M479.3 179.6h2.4M479.8 150.59V163.36M478.6 150.59h2.4M478.6 163.36h2.4M484.6 134.61V152.7M483.4 134.61h2.4M483.4 152.7h2.4M493.2 168.91V195.86M492 168.91h2.4M492 195.86h2.4M498 168.17V188.34M496.8 168.17h2.4M496.8 188.34h2.4M501.7 163.47V173.61M500.5 163.47h2.4M500.5 173.61h2.4M504.1 169.57V184.34M502.9 169.57h2.4M502.9 184.34h2.4M510.2 170.21V192.16M509 170.21h2.4M509 192.16h2.4M499.3 180.98V208.05M498.1 180.98h2.4M498.1 208.05h2.4M506.6 178.58V196.39M505.4 178.58h2.4M505.4 196.39h2.4M509 191.25V207.26M507.8 191.25h2.4M507.8 207.26h2.4M493.2 197.39V222.5M492 197.39h2.4M492 222.5h2.4M513.9 193.57V233.42M512.7 193.57h2.4M512.7 233.42h2.4M480.5 154.39V176.03M479.3 154.39h2.4M479.3 176.03h2.4M500 171.79V195.74M498.8 171.79h2.4M498.8 195.74h2.4M503 176.29V206.04M501.8 176.29h2.4M501.8 206.04h2.4M512 180.55V217.01M510.8 180.55h2.4M510.8 217.01h2.4M504 162.06V192.69M502.8 162.06h2.4M502.8 192.69h2.4M508 171.03V197.92M506.8 171.03h2.4M506.8 197.92h2.4M485.69 173.99V178.24M484.49 173.99h2.4M484.49 178.24h2.4M487.61 164.1V174.27M486.41 164.1h2.4M486.41 174.27h2.4M485.52 162.4V173.13M484.32 162.4h2.4M484.32 173.13h2.4M485.07 156.04V167.3M483.87 156.04h2.4M483.87 167.3h2.4M490.01 156.28V163.97M488.81 156.28h2.4M488.81 163.97h2.4M495.32 134.15V145.4M494.12 134.15h2.4M494.12 145.4h2.4M491.28 130.67V136.4M490.08 130.67h2.4M490.08 136.4h2.4M492.64 126.56V133.79M491.44 126.56h2.4M491.44 133.79h2.4M494.08 124.66V137.29M492.88 124.66h2.4M492.88 137.29h2.4M496.25 122.31V135.53M495.05 122.31h2.4M495.05 135.53h2.4M498.09 124.47V139.79M496.89 124.47h2.4M496.89 139.79h2.4M503.03 117.54V133.74M501.83 117.54h2.4M501.83 133.74h2.4M501.45 120.47V130.81M500.25 120.47h2.4M500.25 130.81h2.4M511.2 121.07V130.71M510 121.07h2.4M510 130.71h2.4M507.13 122.34V129.01M505.93 122.34h2.4M505.93 129.01h2.4M515.27 123.08V136.37M514.07 123.08h2.4M514.07 136.37h2.4M514.53 119.56V130.74M513.33 119.56h2.4M513.33 130.74h2.4M517.33 121.36V129.73M516.13 121.36h2.4M516.13 129.73h2.4M522.04 118.98V135.59M520.84 118.98h2.4M520.84 135.59h2.4M519.91 121.28V128.83M518.71 121.28h2.4M518.71 128.83h2.4M516.75 118.34V132.35M515.55 118.34h2.4M515.55 132.35h2.4M518.91 123.6V129.43M517.71 123.6h2.4M517.71 129.43h2.4M519.48 128.29V134.37M518.28 128.29h2.4M518.28 134.37h2.4M518.82 136.76V141.68M517.62 136.76h2.4M517.62 141.68h2.4M519.89 138.06V154.08M518.69 138.06h2.4M518.69 154.08h2.4M520.06 143.83V158.82M518.86 143.83h2.4M518.86 158.82h2.4M517.27 141V156.07M516.07 141h2.4M516.07 156.07h2.4M515.91 142.75V153.92M514.71 142.75h2.4M514.71 153.92h2.4M520.74 147.02V152.85M519.54 147.02h2.4M519.54 152.85h2.4M519.93 151.17V156.75M518.73 151.17h2.4M518.73 156.75h2.4M519.3 151.11V155.94M518.1 151.11h2.4M518.1 155.94h2.4M515.61 157.51V165.64M514.41 157.51h2.4M514.41 165.64h2.4M520.35 154V167.77M519.15 154h2.4M519.15 167.77h2.4M522.55 155.57V166.07M521.35 155.57h2.4M521.35 166.07h2.4M522.27 160.25V168.82M521.07 160.25h2.4M521.07 168.82h2.4M517.67 157.76V165.12M516.47 157.76h2.4M516.47 165.12h2.4M518.42 157.24V170.68M517.22 157.24h2.4M517.22 170.68h2.4M518.75 159.88V170.06M517.55 159.88h2.4M517.55 170.06h2.4M518.1 164.34V178.86M516.9 164.34h2.4M516.9 178.86h2.4M513.07 169.33V179.92M511.87 169.33h2.4M511.87 179.92h2.4M484.8 146.43V166.32M483.6 146.43h2.4M483.6 166.32h2.4M486.4 149.16V169.38M485.2 149.16h2.4M485.2 169.38h2.4M486.44 152.78V168.83M485.24 152.78h2.4M485.24 168.83h2.4M486.67 154.39V173.7M485.47 154.39h2.4M485.47 173.7h2.4M486.52 166.13V184.86M485.32 166.13h2.4M485.32 184.86h2.4M530.54 119.01V124.96M529.34 119.01h2.4M529.34 124.96h2.4M531.8 118.44V128.08M530.6 118.44h2.4M530.6 128.08h2.4M532.19 118.4V133.36M530.99 118.4h2.4M530.99 133.36h2.4M542.87 113.3V127.83M541.67 113.3h2.4M541.67 127.83h2.4M544.21 129.36V143.22M543.01 129.36h2.4M543.01 143.22h2.4M545.21 132.29V138.72M544.01 132.29h2.4M544.01 138.72h2.4M544.75 134.41V148.18M543.55 134.41h2.4M543.55 148.18h2.4M546.44 138.37V152.25M545.24 138.37h2.4M545.24 152.25h2.4M524.5 128.87V139.83M523.3 128.87h2.4M523.3 139.83h2.4M534.69 132.68V151.14M533.49 132.68h2.4M533.49 151.14h2.4M534.67 135.04V151.56M533.47 135.04h2.4M533.47 151.56h2.4M533.91 141.97V150.74M532.71 141.97h2.4M532.71 150.74h2.4M534.27 139.44V162.8M533.07 139.44h2.4M533.07 162.8h2.4M534.56 144.18V167.54M533.36 144.18h2.4M533.36 167.54h2.4M535.79 154.11V163.49M534.59 154.11h2.4M534.59 163.49h2.4M537.66 132.89V145.19M536.46 132.89h2.4M536.46 145.19h2.4M538.69 135.19V145.48M537.49 135.19h2.4M537.49 145.48h2.4M542.61 130.46V147.23M541.41 130.46h2.4M541.41 147.23h2.4M542.39 146.82V153.64M541.19 146.82h2.4M541.19 153.64h2.4M544.44 143.5V168.07M543.24 143.5h2.4M543.24 168.07h2.4M545.7 144.67V160.14M544.5 144.67h2.4M544.5 160.14h2.4M544.1 129.98V140.9M542.9 129.98h2.4M542.9 140.9h2.4M544.78 128.83V142.27M543.58 128.83h2.4M543.58 142.27h2.4M550.16 145.99V152.23M548.96 145.99h2.4M548.96 152.23h2.4M549.21 148.69V161.96M548.01 148.69h2.4M548.01 161.96h2.4M558.06 131.33V139.06M556.86 131.33h2.4M556.86 139.06h2.4M557.17 130V145.84M555.97 130h2.4M555.97 145.84h2.4M555.91 143.21V164.14M554.71 143.21h2.4M554.71 164.14h2.4M557.8 147.15V170.78M556.6 147.15h2.4M556.6 170.78h2.4M533.9 168.79V198.74M532.7 168.79h2.4M532.7 198.74h2.4M544.5 159.82V168.46M543.3 159.82h2.4M543.3 168.46h2.4M548.5 118V127.95M547.3 118h2.4M547.3 127.95h2.4M562 120.09V124.02M560.8 120.09h2.4M560.8 124.02h2.4M563.5 115.86V122.96M562.3 115.86h2.4M562.3 122.96h2.4M582.46 122.78V135.45M581.26 122.78h2.4M581.26 135.45h2.4M579.81 121.3V128.45M578.61 121.3h2.4M578.61 128.45h2.4M585.21 127.47V135.68M584.01 127.47h2.4M584.01 135.68h2.4M587.27 129.87V137.09M586.07 129.87h2.4M586.07 137.09h2.4M589.15 130.95V138.59M587.95 130.95h2.4M587.95 138.59h2.4M593.74 140.96V145.17M592.54 140.96h2.4M592.54 145.17h2.4M591.35 135.02V147.29M590.15 135.02h2.4M590.15 147.29h2.4M592.82 138.96V149.66M591.62 138.96h2.4M591.62 149.66h2.4M595.14 141.39V154M593.94 141.39h2.4M593.94 154h2.4M598.11 144.83V155.25M596.91 144.83h2.4M596.91 155.25h2.4M595.19 153.43V157.36M593.99 153.43h2.4M593.99 157.36h2.4M595.63 160.19V166.22M594.43 160.19h2.4M594.43 166.22h2.4M600.38 163.04V170.85M599.18 163.04h2.4M599.18 170.85h2.4M571.13 119.3V125.44M569.93 119.3h2.4M569.93 125.44h2.4M572.24 114.92V123.94M571.04 114.92h2.4M571.04 123.94h2.4M568.4 115.45V126.98M567.2 115.45h2.4M567.2 126.98h2.4M566.92 120.5V129.86M565.72 120.5h2.4M565.72 129.86h2.4M577.7 125.41V134.94M576.5 125.41h2.4M576.5 134.94h2.4M577.53 125.72V136.57M576.33 125.72h2.4M576.33 136.57h2.4M577.34 129.34V137.55M576.14 129.34h2.4M576.14 137.55h2.4M576.12 136.06V141.13M574.92 136.06h2.4M574.92 141.13h2.4M580.66 134.02V141.94M579.46 134.02h2.4M579.46 141.94h2.4M578.49 136.27V145.96M577.29 136.27h2.4M577.29 145.96h2.4M582.2 137.49V148.07M581 137.49h2.4M581 148.07h2.4M584.64 137.32V145.81M583.44 137.32h2.4M583.44 145.81h2.4M579.47 140.13V151.83M578.27 140.13h2.4M578.27 151.83h2.4M580.07 137.94V150.77M578.87 137.94h2.4M578.87 150.77h2.4M586.56 140.86V151.93M585.36 140.86h2.4M585.36 151.93h2.4M588.32 146.08V153.17M587.12 146.08h2.4M587.12 153.17h2.4M585.43 146.35V158.41M584.23 146.35h2.4M584.23 158.41h2.4M587.97 143.55V154.88M586.77 143.55h2.4M586.77 154.88h2.4M584.04 149.75V158.22M582.84 149.75h2.4M582.84 158.22h2.4M586.04 153.72V160.01M584.84 153.72h2.4M584.84 160.01h2.4M592.1 156.34V161.9M590.9 156.34h2.4M590.9 161.9h2.4M588.66 151.03V163.45M587.46 151.03h2.4M587.46 163.45h2.4M589.75 158.05V169.09M588.55 158.05h2.4M588.55 169.09h2.4M589.98 160.38V169.11M588.78 160.38h2.4M588.78 169.11h2.4M591.84 170.89V183.83M590.64 170.89h2.4M590.64 183.83h2.4M594.01 177.56V190.48M592.81 177.56h2.4M592.81 190.48h2.4M594.03 183.98V194.64M592.83 183.98h2.4M592.83 194.64h2.4M592.66 187.33V198.69M591.46 187.33h2.4M591.46 198.69h2.4M594.19 187.35V197.07M592.99 187.35h2.4M592.99 197.07h2.4M592.5 190V211.65M591.3 190h2.4M591.3 211.65h2.4M591.5 182.8V201.01M590.3 182.8h2.4M590.3 201.01h2.4M597 173.8V181.49M595.8 173.8h2.4M595.8 181.49h2.4M602 171.35V184.13M600.8 171.35h2.4M600.8 184.13h2.4M606 182.49V191.27M604.8 182.49h2.4M604.8 191.27h2.4M608 181.39V187.03M606.8 181.39h2.4M606.8 187.03h2.4M605 191.97V199.06M603.8 191.97h2.4M603.8 199.06h2.4M612 193.5V202.24M610.8 193.5h2.4M610.8 202.24h2.4M618 173.04V186.89M616.8 173.04h2.4M616.8 186.89h2.4M620 173.9V188.24M618.8 173.9h2.4M618.8 188.24h2.4M622 173.86V181.35M620.8 173.86h2.4M620.8 181.35h2.4M627 183.8V191.49M625.8 183.8h2.4M625.8 191.49h2.4M625 175.85V190.38M623.8 175.85h2.4M623.8 190.38h2.4M637.88 167.86V192.57M636.68 167.86h2.4M636.68 192.57h2.4M636.95 166.74V214.43M635.75 166.74h2.4M635.75 214.43h2.4M639.4 170.06V210.97M638.2 170.06h2.4M638.2 210.97h2.4M640.17 172.06V217.99M638.97 172.06h2.4M638.97 217.99h2.4M641.64 179.33V210.48M640.44 179.33h2.4M640.44 210.48h2.4M639.45 182.9V213.55M638.25 182.9h2.4M638.25 213.55h2.4M638.99 187.53V204.64M637.79 187.53h2.4M637.79 204.64h2.4M640.58 189.91V204.43M639.38 189.91h2.4M639.38 204.43h2.4M639.69 188.3V230.53M638.49 188.3h2.4M638.49 230.53h2.4M639.91 189.44V235.41M638.71 189.44h2.4M638.71 235.41h2.4M643.64 196.02V219.39M642.44 196.02h2.4M642.44 219.39h2.4M641.35 198.99V229M640.15 198.99h2.4M640.15 229h2.4M642.85 201.16V234.56M641.65 201.16h2.4M641.65 234.56h2.4M644.34 201.24V239.27M643.14 201.24h2.4M643.14 239.27h2.4M633 225.08V272.4M631.8 225.08h2.4M631.8 272.4h2.4M634.4 243.26V266.41M633.2 243.26h2.4M633.2 266.41h2.4M635 283.81V325.82M633.8 283.81h2.4M633.8 325.82h2.4M628.5 174.06V199.81M627.3 174.06h2.4M627.3 199.81h2.4M612.7 194.96V205.98M611.5 194.96h2.4M611.5 205.98h2.4M629.8 148.18V155.13M628.6 148.18h2.4M628.6 155.13h2.4M632.32 196.6V211.35M631.12 196.6h2.4M631.12 211.35h2.4M632.22 187.21V260.59M631.02 187.21h2.4M631.02 260.59h2.4M632.53 201.97V224.19M631.33 201.97h2.4M631.33 224.19h2.4M632.47 207.38V223.09M631.27 207.38h2.4M631.27 223.09h2.4M631.74 201.22V255.43M630.54 201.22h2.4M630.54 255.43h2.4M632.76 202.94V263.83M631.56 202.94h2.4M631.56 263.83h2.4M643 213.84V245.71M641.8 213.84h2.4M641.8 245.71h2.4M644 220.82V260.53M642.8 220.82h2.4M642.8 260.53h2.4M647 246.59V288.03M645.8 246.59h2.4M645.8 288.03h2.4M650 237.57V256.17M648.8 237.57h2.4M648.8 256.17h2.4M646 228.35V241.03M644.8 228.35h2.4M644.8 241.03h2.4M647 275.79V315.75M645.8 275.79h2.4M645.8 315.75h2.4M651 263.21V284.62M649.8 263.21h2.4M649.8 284.62h2.4M650 248.06V262.94M648.8 248.06h2.4M648.8 262.94h2.4M644 244.58V263.15M642.8 244.58h2.4M642.8 263.15h2.4M663.59 160.09V184.55M662.39 160.09h2.4M662.39 184.55h2.4M661.16 160.27V187.01M659.96 160.27h2.4M659.96 187.01h2.4M662.35 164.69V184.38M661.15 164.69h2.4M661.15 184.38h2.4M664.42 166.71V209.14M663.22 166.71h2.4M663.22 209.14h2.4M662.39 167.14V237.67M661.19 167.14h2.4M661.19 237.67h2.4M662.3 173.9V201.19M661.1 173.9h2.4M661.1 201.19h2.4M664 173.27V193.37M662.8 173.27h2.4M662.8 193.37h2.4M666.55 171.06V213.83M665.35 171.06h2.4M665.35 213.83h2.4M666.76 173.02V216.64M665.56 173.02h2.4M665.56 216.64h2.4M662 171.68V239M660.8 171.68h2.4M660.8 239h2.4M667.35 178.84V241.25M666.15 178.84h2.4M666.15 241.25h2.4M662.51 182.34V205.26M661.31 182.34h2.4M661.31 205.26h2.4M664.62 182.81V226.89M663.42 182.81h2.4M663.42 226.89h2.4M661.64 176.86V261.46M660.44 176.86h2.4M660.44 261.46h2.4M661.66 183.8V241.5M660.46 183.8h2.4M660.46 241.5h2.4M660.09 187.39V232.79M658.89 187.39h2.4M658.89 232.79h2.4M659.22 180.83V250.47M658.02 180.83h2.4M658.02 250.47h2.4M656.08 186.31V254.16M654.88 186.31h2.4M654.88 254.16h2.4M660.31 190.69V253.83M659.11 190.69h2.4M659.11 253.83h2.4M660.59 192.83V229.53M659.39 192.83h2.4M659.39 229.53h2.4M659.87 196.8V216.18M658.67 196.8h2.4M658.67 216.18h2.4M663.73 189.09V263.57M662.53 189.09h2.4M662.53 263.57h2.4M664.44 191.76V253.95M663.24 191.76h2.4M663.24 253.95h2.4M660.8 196.9V242.5M659.6 196.9h2.4M659.6 242.5h2.4M665.04 197.73V259.27M663.84 197.73h2.4M663.84 259.27h2.4M660.77 200.95V266.81M659.57 200.95h2.4M659.57 266.81h2.4M659.88 203.01V267.19M658.68 203.01h2.4M658.68 267.19h2.4M660.36 206.44V249.23M659.16 206.44h2.4M659.16 249.23h2.4M656.84 199.57V289.53M655.64 199.57h2.4M655.64 289.53h2.4M654.67 208.74V263.98M653.47 208.74h2.4M653.47 263.98h2.4M657.07 206.93V281.37M655.87 206.93h2.4M655.87 281.37h2.4M658.95 216.08V235.71M657.75 216.08h2.4M657.75 235.71h2.4M655.39 212.22V267.28M654.19 212.22h2.4M654.19 267.28h2.4M660.84 212.61V265.34M659.64 212.61h2.4M659.64 265.34h2.4M656.98 211.21V289.44M655.78 211.21h2.4M655.78 289.44h2.4M660.84 220.59V265.13M659.64 220.59h2.4M659.64 265.13h2.4M659.09 217.44V284.04M657.89 217.44h2.4M657.89 284.04h2.4M691.64 149.9V201.04M690.44 149.9h2.4M690.44 201.04h2.4M691.06 151.48V256.02M689.86 151.48h2.4M689.86 256.02h2.4M690.76 166.05V225.28M689.56 166.05h2.4M689.56 225.28h2.4M690.01 169.49V209.89M688.81 169.49h2.4M688.81 209.89h2.4M690.91 178.87V225.12M689.71 178.87h2.4M689.71 225.12h2.4M691.91 183.02V247.44M690.71 183.02h2.4M690.71 247.44h2.4M692.56 186.81V300.75M691.36 186.81h2.4M691.36 300.75h2.4M692.72 191.11V295.07M691.52 191.11h2.4M691.52 295.07h2.4M691.9 201.58V305.88M690.7 201.58h2.4M690.7 305.88h2.4M692.86 211.29V234.43M691.66 211.29h2.4M691.66 234.43h2.4M693.64 144.04V219.43M692.44 144.04h2.4M692.44 219.43h2.4M694.69 149.99V265.53M693.49 149.99h2.4M693.49 265.53h2.4M693.11 156.9V230.64M691.91 156.9h2.4M691.91 230.64h2.4M694.2 153.58V288.8M693 153.58h2.4M693 288.8h2.4M693.92 171.47V281.5M692.72 171.47h2.4M692.72 281.5h2.4M693.17 177.16V239.11M691.97 177.16h2.4M691.97 239.11h2.4M694.52 178.08V303.52M693.32 178.08h2.4M693.32 303.52h2.4M693.86 187.66V261.56M692.66 187.66h2.4M692.66 261.56h2.4M694.26 188.36V275M693.06 188.36h2.4M693.06 275h2.4M693.17 184.58V284.77M691.97 184.58h2.4M691.97 284.77h2.4M694.14 187.53V311.75M692.94 187.53h2.4M692.94 311.75h2.4M693.8 196.96V242.36M692.6 196.96h2.4M692.6 242.36h2.4M693.28 198.62V283.45M692.08 198.62h2.4M692.08 283.45h2.4M693.13 204.01V263.03M691.93 204.01h2.4M691.93 263.03h2.4M693.32 205.02V316.71M692.12 205.02h2.4M692.12 316.71h2.4M717.74 140.8V215.53M716.54 140.8h2.4M716.54 215.53h2.4M716.93 147.32V169.45M715.73 147.32h2.4M715.73 169.45h2.4M718.26 148.69V215.86M717.06 148.69h2.4M717.06 215.86h2.4M718.25 146.71V232.87M717.05 146.71h2.4M717.05 232.87h2.4M718.24 157.63V245.17M717.04 157.63h2.4M717.04 245.17h2.4M717.63 163.36V191.91M716.43 163.36h2.4M716.43 191.91h2.4M718.54 167.18V246.95M717.34 167.18h2.4M717.34 246.95h2.4M717.93 165.27V234.01M716.73 165.27h2.4M716.73 234.01h2.4M716.91 173.08V210.98M715.71 173.08h2.4M715.71 210.98h2.4M718.24 180.1V208.85M717.04 180.1h2.4M717.04 208.85h2.4M718.45 181.35V247.97M717.25 181.35h2.4M717.25 247.97h2.4M716.75 188.18V255.56M715.55 188.18h2.4M715.55 255.56h2.4M717.98 192.1V228.01M716.78 192.1h2.4M716.78 228.01h2.4M717.27 190.01V255.48M716.07 190.01h2.4M716.07 255.48h2.4M718.69 195.74V221.17M717.49 195.74h2.4M717.49 221.17h2.4M717.82 200.72V230.89M716.62 200.72h2.4M716.62 230.89h2.4M722.92 150.32V211.82M721.72 150.32h2.4M721.72 211.82h2.4M722.7 152.13V227.49M721.5 152.13h2.4M721.5 227.49h2.4M723.93 154.83V200.43M722.73 154.83h2.4M722.73 200.43h2.4M722.77 158V254.11M721.57 158h2.4M721.57 254.11h2.4M722.83 155.23V269.86M721.63 155.23h2.4M721.63 269.86h2.4M722.53 169.7V242.06M721.33 169.7h2.4M721.33 242.06h2.4M724.28 177.59V240.49M723.08 177.59h2.4M723.08 240.49h2.4M722.64 177.63V265.91M721.44 177.63h2.4M721.44 265.91h2.4M724.01 178.79V216.78M722.81 178.79h2.4M722.81 216.78h2.4M722.94 181.42V291.04M721.74 181.42h2.4M721.74 291.04h2.4M722.95 186.67V233.37M721.75 186.67h2.4M721.75 233.37h2.4M723.48 189.37V237.14M722.28 189.37h2.4M722.28 237.14h2.4M722.57 184V296.48M721.37 184h2.4M721.37 296.48h2.4M723.9 187.17V298.93M722.7 187.17h2.4M722.7 298.93h2.4M722.99 194.3V269.32M721.79 194.3h2.4M721.79 269.32h2.4M723.17 201.74V252.48M721.97 201.74h2.4M721.97 252.48h2.4M724.45 204.19V262.66M723.25 204.19h2.4M723.25 262.66h2.4M723 207.4V304.33M721.8 207.4h2.4M721.8 304.33h2.4M723.12 209.53V313.54M721.92 209.53h2.4M721.92 313.54h2.4" stroke="#555" stroke-width="0.7" fill="none"/><circle cx="378.1" cy="65" r="2.9" fill="#000" stroke="#1a1a1a" stroke-width="0.45"/><circle cx="378.1" cy="65.5" r="2.9" fill="#000" stroke="#1a1a1a" stroke-width="0.45"/><circle cx="378.1" cy="66" r="2.9" fill="#000" stroke="#1a1a1a" stroke-width="0.45"/><circle cx="378.1" cy="66.5" r="2.9" fill="#000" stroke="#1a1a1a" stroke-width="0.45"/><circle cx="378.1" cy="67" r="2.9" fill="#000" stroke="#1a1a1a" stroke-width="0.45"/><circle cx="378.1" cy="67.5" r="2.9" fill="#000" stroke="#1a1a1a" stroke-width="0.45"/><circle cx="378.1" cy="68" r="2.9" fill="#000" stroke="#1a1a1a" stroke-width="0.45"/><circle cx="378.1" cy="68.5" r="2.9" fill="#000" stroke="#1a1a1a" stroke-width="0.45"/><circle cx="378.1" cy="69" r="2.9" fill="#000" stroke="#1a1a1a" stroke-width="0.45"/><circle cx="378.1" cy="69.5" r="2.9" fill="#000" stroke="#1a1a1a" stroke-width="0.45"/><circle cx="378.1" cy="70" r="2.9" fill="#000" stroke="#1a1a1a" stroke-width="0.45"/><circle cx="378.1" cy="70.5" r="2.9" fill="#000" stroke="#1a1a1a" stroke-width="0.45"/><circle cx="378.1" cy="71" r="2.9" fill="#000" stroke="#1a1a1a" stroke-width="0.45"/><circle cx="378.1" cy="71.5" r="2.9" fill="#000" stroke="#1a1a1a" stroke-width="0.45"/><circle cx="378.1" cy="72" r="2.9" fill="#000" stroke="#1a1a1a" stroke-width="0.45"/><circle cx="378.1" cy="72.5" r="2.9" fill="#000" stroke="#1a1a1a" stroke-width="0.45"/><circle cx="378.1" cy="73" r="2.9" fill="#000" stroke="#1a1a1a" stroke-width="0.45"/><circle cx="378.1" cy="73.5" r="2.9" fill="#000" stroke="#1a1a1a" stroke-width="0.45"/><circle cx="378.1" cy="74" r="2.9" fill="#000" stroke="#1a1a1a" stroke-width="0.45"/><circle cx="400.6" cy="71.6" r="2.61" fill="#3333f2" stroke="#1a1a1a" stroke-width="0.45"/><circle cx="402.4" cy="71.4" r="2.61" fill="#3333f2" stroke="#1a1a1a" stroke-width="0.45"/><circle cx="404.3" cy="71.6" r="2.61" fill="#3333f2" stroke="#1a1a1a" stroke-width="0.45"/><circle cx="406" cy="72.2" r="2.61" fill="#3333f2" stroke="#1a1a1a" stroke-width="0.45"/><circle cx="408.1" cy="72.7" r="2.61" fill="#3333f2" stroke="#1a1a1a" stroke-width="0.45"/><circle cx="409.8" cy="73" r="2.61" fill="#3333f2" stroke="#1a1a1a" stroke-width="0.45"/><circle cx="411.3" cy="73.2" r="2.61" fill="#3333f2" stroke="#1a1a1a" stroke-width="0.45"/><circle cx="412.8" cy="73.6" r="2.61" fill="#3333f2" stroke="#1a1a1a" stroke-width="0.45"/><circle cx="414" cy="74.3" r="2.61" fill="#3333f2" stroke="#1a1a1a" stroke-width="0.45"/><circle cx="415.4" cy="75" r="2.61" fill="#3333f2" stroke="#1a1a1a" stroke-width="0.45"/><circle cx="416.6" cy="75.9" r="2.61" fill="#3333f2" stroke="#1a1a1a" stroke-width="0.45"/><circle cx="418.8" cy="77.5" r="2.61" fill="#3333f2" stroke="#1a1a1a" stroke-width="0.45"/><circle cx="426.3" cy="82.3" r="2.61" fill="#3333f2" stroke="#1a1a1a" stroke-width="0.45"/><circle cx="428" cy="83" r="2.61" fill="#3333f2" stroke="#1a1a1a" stroke-width="0.45"/><circle cx="430.1" cy="84" r="2.61" fill="#3333f2" stroke="#1a1a1a" stroke-width="0.45"/><circle cx="431.5" cy="85" r="2.61" fill="#3333f2" stroke="#1a1a1a" stroke-width="0.45"/><circle cx="433.3" cy="86.1" r="2.61" fill="#3333f2" stroke="#1a1a1a" stroke-width="0.45"/><circle cx="434.6" cy="86.8" r="2.61" fill="#3333f2" stroke="#1a1a1a" stroke-width="0.45"/><circle cx="436" cy="87.7" r="2.61" fill="#3333f2" stroke="#1a1a1a" stroke-width="0.45"/><circle cx="437.6" cy="89.9" r="2.61" fill="#3333f2" stroke="#1a1a1a" stroke-width="0.45"/><circle cx="438.1" cy="90.9" r="2.61" fill="#3333f2" stroke="#1a1a1a" stroke-width="0.45"/><circle cx="481" cy="146" r="2.61" fill="#14679c" stroke="#1a1a1a" stroke-width="0.45"/><circle cx="486" cy="143" r="2.61" fill="#14679c" stroke="#1a1a1a" stroke-width="0.45"/><circle cx="492" cy="182" r="2.61" fill="#14679c" stroke="#1a1a1a" stroke-width="0.45"/><circle cx="500" cy="196" r="2.61" fill="#14679c" stroke="#1a1a1a" stroke-width="0.45"/><circle cx="506" cy="190" r="2.61" fill="#14679c" stroke="#1a1a1a" stroke-width="0.45"/><circle cx="512" cy="181" r="2.61" fill="#14679c" stroke="#1a1a1a" stroke-width="0.45"/><circle cx="515" cy="190" r="2.61" fill="#14679c" stroke="#1a1a1a" stroke-width="0.45"/><circle cx="495" cy="186" r="2.61" fill="#14679c" stroke="#1a1a1a" stroke-width="0.45"/><circle cx="488" cy="178" r="2.61" fill="#14679c" stroke="#1a1a1a" stroke-width="0.45"/><circle cx="507" cy="160" r="2.61" fill="#14679c" stroke="#1a1a1a" stroke-width="0.45"/><circle cx="511" cy="168" r="2.61" fill="#14679c" stroke="#1a1a1a" stroke-width="0.45"/><circle cx="480.5" cy="153" r="2.61" fill="#14679c" stroke="#1a1a1a" stroke-width="0.45"/><circle cx="479.8" cy="153.9" r="2.61" fill="#14679c" stroke="#1a1a1a" stroke-width="0.45"/><circle cx="484.6" cy="139.3" r="2.61" fill="#14679c" stroke="#1a1a1a" stroke-width="0.45"/><circle cx="490.7" cy="158.8" r="2.61" fill="#14679c" stroke="#1a1a1a" stroke-width="0.45"/><circle cx="493.2" cy="175.9" r="2.61" fill="#14679c" stroke="#1a1a1a" stroke-width="0.45"/><circle cx="498" cy="173.4" r="2.61" fill="#14679c" stroke="#1a1a1a" stroke-width="0.45"/><circle cx="501.7" cy="166.1" r="2.61" fill="#14679c" stroke="#1a1a1a" stroke-width="0.45"/><circle cx="504.1" cy="173.4" r="2.61" fill="#14679c" stroke="#1a1a1a" stroke-width="0.45"/><circle cx="510.2" cy="175.9" r="2.61" fill="#14679c" stroke="#1a1a1a" stroke-width="0.45"/><circle cx="499.3" cy="188" r="2.61" fill="#14679c" stroke="#1a1a1a" stroke-width="0.45"/><circle cx="506.6" cy="183.2" r="2.61" fill="#14679c" stroke="#1a1a1a" stroke-width="0.45"/><circle cx="515.1" cy="183.2" r="2.61" fill="#14679c" stroke="#1a1a1a" stroke-width="0.45"/><circle cx="509" cy="195.4" r="2.61" fill="#14679c" stroke="#1a1a1a" stroke-width="0.45"/><circle cx="493.2" cy="203.9" r="2.61" fill="#14679c" stroke="#1a1a1a" stroke-width="0.45"/><circle cx="496.8" cy="199" r="2.61" fill="#14679c" stroke="#1a1a1a" stroke-width="0.45"/><circle cx="509" cy="203.9" r="2.61" fill="#14679c" stroke="#1a1a1a" stroke-width="0.45"/><circle cx="513.9" cy="203.9" r="2.61" fill="#14679c" stroke="#1a1a1a" stroke-width="0.45"/><circle cx="480.5" cy="160" r="2.61" fill="#14679c" stroke="#1a1a1a" stroke-width="0.45"/><circle cx="483" cy="150" r="2.61" fill="#14679c" stroke="#1a1a1a" stroke-width="0.45"/><circle cx="500" cy="178" r="2.61" fill="#14679c" stroke="#1a1a1a" stroke-width="0.45"/><circle cx="503" cy="184" r="2.61" fill="#14679c" stroke="#1a1a1a" stroke-width="0.45"/><circle cx="497" cy="193" r="2.61" fill="#14679c" stroke="#1a1a1a" stroke-width="0.45"/><circle cx="512" cy="190" r="2.61" fill="#14679c" stroke="#1a1a1a" stroke-width="0.45"/><circle cx="504" cy="170" r="2.61" fill="#14679c" stroke="#1a1a1a" stroke-width="0.45"/><circle cx="508" cy="178" r="2.61" fill="#14679c" stroke="#1a1a1a" stroke-width="0.45"/><circle cx="485.69" cy="175.2" r="2.61" fill="#cc9914" stroke="#1a1a1a" stroke-width="0.45"/><circle cx="489.42" cy="171.27" r="2.61" fill="#cc9914" stroke="#1a1a1a" stroke-width="0.45"/><circle cx="487.61" cy="167" r="2.61" fill="#cc9914" stroke="#1a1a1a" stroke-width="0.45"/><circle cx="488.09" cy="169.93" r="2.61" fill="#cc9914" stroke="#1a1a1a" stroke-width="0.45"/><circle cx="490.41" cy="169.9" r="2.61" fill="#cc9914" stroke="#1a1a1a" stroke-width="0.45"/><circle cx="485.52" cy="165.47" r="2.61" fill="#cc9914" stroke="#1a1a1a" stroke-width="0.45"/><circle cx="488.53" cy="161.56" r="2.61" fill="#cc9914" stroke="#1a1a1a" stroke-width="0.45"/><circle cx="487.29" cy="161.33" r="2.61" fill="#cc9914" stroke="#1a1a1a" stroke-width="0.45"/><circle cx="485.07" cy="159.25" r="2.61" fill="#cc9914" stroke="#1a1a1a" stroke-width="0.45"/><circle cx="490.01" cy="158.48" r="2.61" fill="#cc9914" stroke="#1a1a1a" stroke-width="0.45"/><circle cx="486.51" cy="159.07" r="2.61" fill="#cc9914" stroke="#1a1a1a" stroke-width="0.45"/><circle cx="491.26" cy="155.55" r="2.61" fill="#cc9914" stroke="#1a1a1a" stroke-width="0.45"/><circle cx="488.47" cy="157.64" r="2.61" fill="#cc9914" stroke="#1a1a1a" stroke-width="0.45"/><circle cx="491.85" cy="158.3" r="2.61" fill="#cc9914" stroke="#1a1a1a" stroke-width="0.45"/><circle cx="491.96" cy="153.12" r="2.61" fill="#cc9914" stroke="#1a1a1a" stroke-width="0.45"/><circle cx="488.99" cy="152.41" r="2.61" fill="#cc9914" stroke="#1a1a1a" stroke-width="0.45"/><circle cx="492.63" cy="155.44" r="2.61" fill="#cc9914" stroke="#1a1a1a" stroke-width="0.45"/><circle cx="487.61" cy="148.53" r="2.61" fill="#cc9914" stroke="#1a1a1a" stroke-width="0.45"/><circle cx="488.46" cy="147.66" r="2.61" fill="#cc9914" stroke="#1a1a1a" stroke-width="0.45"/><circle cx="490.54" cy="148.94" r="2.61" fill="#cc9914" stroke="#1a1a1a" stroke-width="0.45"/><circle cx="489.2" cy="143.44" r="2.61" fill="#cc9914" stroke="#1a1a1a" stroke-width="0.45"/><circle cx="490.59" cy="144.79" r="2.61" fill="#cc9914" stroke="#1a1a1a" stroke-width="0.45"/><circle cx="491.92" cy="147.71" r="2.61" fill="#cc9914" stroke="#1a1a1a" stroke-width="0.45"/><circle cx="493.07" cy="143.27" r="2.61" fill="#cc9914" stroke="#1a1a1a" stroke-width="0.45"/><circle cx="492.81" cy="143.14" r="2.61" fill="#cc9914" stroke="#1a1a1a" stroke-width="0.45"/><circle cx="489.14" cy="143.5" r="2.61" fill="#cc9914" stroke="#1a1a1a" stroke-width="0.45"/><circle cx="494.78" cy="142.08" r="2.61" fill="#cc9914" stroke="#1a1a1a" stroke-width="0.45"/><circle cx="495.32" cy="137.36" r="2.61" fill="#cc9914" stroke="#1a1a1a" stroke-width="0.45"/><circle cx="492.85" cy="134.04" r="2.61" fill="#cc9914" stroke="#1a1a1a" stroke-width="0.45"/><circle cx="494.96" cy="132.49" r="2.61" fill="#cc9914" stroke="#1a1a1a" stroke-width="0.45"/><circle cx="491.28" cy="132.3" r="2.61" fill="#cc9914" stroke="#1a1a1a" stroke-width="0.45"/><circle cx="492.7" cy="132.16" r="2.61" fill="#cc9914" stroke="#1a1a1a" stroke-width="0.45"/><circle cx="492.64" cy="128.63" r="2.61" fill="#cc9914" stroke="#1a1a1a" stroke-width="0.45"/><circle cx="494.08" cy="128.27" r="2.61" fill="#cc9914" stroke="#1a1a1a" stroke-width="0.45"/><circle cx="496.34" cy="126.63" r="2.61" fill="#cc9914" stroke="#1a1a1a" stroke-width="0.45"/><circle cx="500.75" cy="129.78" r="2.61" fill="#cc9914" stroke="#1a1a1a" stroke-width="0.45"/><circle cx="496.25" cy="126.09" r="2.61" fill="#cc9914" stroke="#1a1a1a" stroke-width="0.45"/><circle cx="498.54" cy="125.95" r="2.61" fill="#cc9914" stroke="#1a1a1a" stroke-width="0.45"/><circle cx="498.09" cy="128.85" r="2.61" fill="#cc9914" stroke="#1a1a1a" stroke-width="0.45"/><circle cx="505.53" cy="125.5" r="2.61" fill="#cc9914" stroke="#1a1a1a" stroke-width="0.45"/><circle cx="503.03" cy="122.17" r="2.61" fill="#cc9914" stroke="#1a1a1a" stroke-width="0.45"/><circle cx="501.45" cy="123.43" r="2.61" fill="#cc9914" stroke="#1a1a1a" stroke-width="0.45"/><circle cx="503.79" cy="126.33" r="2.61" fill="#cc9914" stroke="#1a1a1a" stroke-width="0.45"/><circle cx="504.22" cy="119.98" r="2.61" fill="#cc9914" stroke="#1a1a1a" stroke-width="0.45"/><circle cx="511.2" cy="123.83" r="2.61" fill="#cc9914" stroke="#1a1a1a" stroke-width="0.45"/><circle cx="506.7" cy="124.15" r="2.61" fill="#cc9914" stroke="#1a1a1a" stroke-width="0.45"/><circle cx="507.13" cy="124.25" r="2.61" fill="#cc9914" stroke="#1a1a1a" stroke-width="0.45"/><circle cx="515.27" cy="126.88" r="2.61" fill="#cc9914" stroke="#1a1a1a" stroke-width="0.45"/><circle cx="514.53" cy="122.75" r="2.61" fill="#cc9914" stroke="#1a1a1a" stroke-width="0.45"/><circle cx="513.36" cy="121.89" r="2.61" fill="#cc9914" stroke="#1a1a1a" stroke-width="0.45"/><circle cx="517.33" cy="123.75" r="2.61" fill="#cc9914" stroke="#1a1a1a" stroke-width="0.45"/><circle cx="518.44" cy="121.51" r="2.61" fill="#cc9914" stroke="#1a1a1a" stroke-width="0.45"/><circle cx="515.49" cy="124.21" r="2.61" fill="#cc9914" stroke="#1a1a1a" stroke-width="0.45"/><circle cx="522.04" cy="123.73" r="2.61" fill="#cc9914" stroke="#1a1a1a" stroke-width="0.45"/><circle cx="521.27" cy="124.25" r="2.61" fill="#cc9914" stroke="#1a1a1a" stroke-width="0.45"/><circle cx="521.15" cy="121.25" r="2.61" fill="#cc9914" stroke="#1a1a1a" stroke-width="0.45"/><circle cx="519.91" cy="123.44" r="2.61" fill="#cc9914" stroke="#1a1a1a" stroke-width="0.45"/><circle cx="516.75" cy="122.34" r="2.61" fill="#cc9914" stroke="#1a1a1a" stroke-width="0.45"/><circle cx="518.91" cy="125.27" r="2.61" fill="#cc9914" stroke="#1a1a1a" stroke-width="0.45"/><circle cx="522.24" cy="131.55" r="2.61" fill="#cc9914" stroke="#1a1a1a" stroke-width="0.45"/><circle cx="520.81" cy="132.67" r="2.61" fill="#cc9914" stroke="#1a1a1a" stroke-width="0.45"/><circle cx="524.34" cy="134.06" r="2.61" fill="#cc9914" stroke="#1a1a1a" stroke-width="0.45"/><circle cx="519.48" cy="130.02" r="2.61" fill="#cc9914" stroke="#1a1a1a" stroke-width="0.45"/><circle cx="518.11" cy="131.11" r="2.61" fill="#cc9914" stroke="#1a1a1a" stroke-width="0.45"/><circle cx="517.58" cy="135.44" r="2.61" fill="#cc9914" stroke="#1a1a1a" stroke-width="0.45"/><circle cx="522.22" cy="138.26" r="2.61" fill="#cc9914" stroke="#1a1a1a" stroke-width="0.45"/><circle cx="518.82" cy="138.17" r="2.61" fill="#cc9914" stroke="#1a1a1a" stroke-width="0.45"/><circle cx="520.75" cy="135.33" r="2.61" fill="#cc9914" stroke="#1a1a1a" stroke-width="0.45"/><circle cx="519.38" cy="142.53" r="2.61" fill="#cc9914" stroke="#1a1a1a" stroke-width="0.45"/><circle cx="519.89" cy="142.64" r="2.61" fill="#cc9914" stroke="#1a1a1a" stroke-width="0.45"/><circle cx="517.48" cy="139.79" r="2.61" fill="#cc9914" stroke="#1a1a1a" stroke-width="0.45"/><circle cx="519.85" cy="142.2" r="2.61" fill="#cc9914" stroke="#1a1a1a" stroke-width="0.45"/><circle cx="520.06" cy="148.11" r="2.61" fill="#cc9914" stroke="#1a1a1a" stroke-width="0.45"/><circle cx="517.27" cy="145.31" r="2.61" fill="#cc9914" stroke="#1a1a1a" stroke-width="0.45"/><circle cx="521.37" cy="148.94" r="2.61" fill="#cc9914" stroke="#1a1a1a" stroke-width="0.45"/><circle cx="515.91" cy="145.94" r="2.61" fill="#cc9914" stroke="#1a1a1a" stroke-width="0.45"/><circle cx="515.9" cy="152.85" r="2.61" fill="#cc9914" stroke="#1a1a1a" stroke-width="0.45"/><circle cx="520.74" cy="148.69" r="2.61" fill="#cc9914" stroke="#1a1a1a" stroke-width="0.45"/><circle cx="521.02" cy="156" r="2.61" fill="#cc9914" stroke="#1a1a1a" stroke-width="0.45"/><circle cx="519.93" cy="152.77" r="2.61" fill="#cc9914" stroke="#1a1a1a" stroke-width="0.45"/><circle cx="519.3" cy="152.49" r="2.61" fill="#cc9914" stroke="#1a1a1a" stroke-width="0.45"/><circle cx="515.61" cy="159.84" r="2.61" fill="#cc9914" stroke="#1a1a1a" stroke-width="0.45"/><circle cx="520.35" cy="157.94" r="2.61" fill="#cc9914" stroke="#1a1a1a" stroke-width="0.45"/><circle cx="522.55" cy="158.57" r="2.61" fill="#cc9914" stroke="#1a1a1a" stroke-width="0.45"/><circle cx="522.27" cy="162.7" r="2.61" fill="#cc9914" stroke="#1a1a1a" stroke-width="0.45"/><circle cx="517.67" cy="159.86" r="2.61" fill="#cc9914" stroke="#1a1a1a" stroke-width="0.45"/><circle cx="518.42" cy="161.08" r="2.61" fill="#cc9914" stroke="#1a1a1a" stroke-width="0.45"/><circle cx="520.43" cy="162.48" r="2.61" fill="#cc9914" stroke="#1a1a1a" stroke-width="0.45"/><circle cx="518.75" cy="162.79" r="2.61" fill="#cc9914" stroke="#1a1a1a" stroke-width="0.45"/><circle cx="521.82" cy="165.61" r="2.61" fill="#cc9914" stroke="#1a1a1a" stroke-width="0.45"/><circle cx="518.1" cy="168.49" r="2.61" fill="#cc9914" stroke="#1a1a1a" stroke-width="0.45"/><circle cx="520.85" cy="168.54" r="2.61" fill="#cc9914" stroke="#1a1a1a" stroke-width="0.45"/><circle cx="520.48" cy="170.35" r="2.61" fill="#cc9914" stroke="#1a1a1a" stroke-width="0.45"/><circle cx="517.23" cy="171.73" r="2.61" fill="#cc9914" stroke="#1a1a1a" stroke-width="0.45"/><circle cx="513.07" cy="172.36" r="2.61" fill="#cc9914" stroke="#1a1a1a" stroke-width="0.45"/><circle cx="485.32" cy="149.15" r="2.52" fill="#d2861a" stroke="#1a1a1a" stroke-width="0.45"/><circle cx="484.8" cy="152.11" r="2.52" fill="#d2861a" stroke="#1a1a1a" stroke-width="0.45"/><circle cx="486.4" cy="154.93" r="2.52" fill="#d2861a" stroke="#1a1a1a" stroke-width="0.45"/><circle cx="486.44" cy="157.36" r="2.52" fill="#d2861a" stroke="#1a1a1a" stroke-width="0.45"/><circle cx="486.67" cy="159.91" r="2.52" fill="#d2861a" stroke="#1a1a1a" stroke-width="0.45"/><circle cx="488" cy="164.95" r="2.52" fill="#d2861a" stroke="#1a1a1a" stroke-width="0.45"/><circle cx="488.58" cy="166.36" r="2.52" fill="#d2861a" stroke="#1a1a1a" stroke-width="0.45"/><circle cx="486.52" cy="171.48" r="2.52" fill="#d2861a" stroke="#1a1a1a" stroke-width="0.45"/><circle cx="527.23" cy="128.75" r="2.61" fill="#14679c" stroke="#1a1a1a" stroke-width="0.45"/><circle cx="526.41" cy="132.2" r="2.61" fill="#14679c" stroke="#1a1a1a" stroke-width="0.45"/><circle cx="526.86" cy="137.22" r="2.61" fill="#14679c" stroke="#1a1a1a" stroke-width="0.45"/><circle cx="530.54" cy="120.71" r="2.61" fill="#14679c" stroke="#1a1a1a" stroke-width="0.45"/><circle cx="531.8" cy="121.19" r="2.61" fill="#14679c" stroke="#1a1a1a" stroke-width="0.45"/><circle cx="532.19" cy="122.68" r="2.61" fill="#14679c" stroke="#1a1a1a" stroke-width="0.45"/><circle cx="533.93" cy="123.69" r="2.61" fill="#14679c" stroke="#1a1a1a" stroke-width="0.45"/><circle cx="533.79" cy="125.85" r="2.61" fill="#14679c" stroke="#1a1a1a" stroke-width="0.45"/><circle cx="535.72" cy="128.13" r="2.61" fill="#14679c" stroke="#1a1a1a" stroke-width="0.45"/><circle cx="537.95" cy="130" r="2.61" fill="#14679c" stroke="#1a1a1a" stroke-width="0.45"/><circle cx="539.58" cy="131.14" r="2.61" fill="#14679c" stroke="#1a1a1a" stroke-width="0.45"/><circle cx="542.87" cy="117.45" r="2.61" fill="#14679c" stroke="#1a1a1a" stroke-width="0.45"/><circle cx="541.48" cy="122.5" r="2.61" fill="#14679c" stroke="#1a1a1a" stroke-width="0.45"/><circle cx="541.46" cy="124.46" r="2.61" fill="#14679c" stroke="#1a1a1a" stroke-width="0.45"/><circle cx="543.67" cy="124.94" r="2.61" fill="#14679c" stroke="#1a1a1a" stroke-width="0.45"/><circle cx="544.66" cy="130.94" r="2.61" fill="#14679c" stroke="#1a1a1a" stroke-width="0.45"/><circle cx="544.21" cy="133.32" r="2.61" fill="#14679c" stroke="#1a1a1a" stroke-width="0.45"/><circle cx="545.21" cy="134.12" r="2.61" fill="#14679c" stroke="#1a1a1a" stroke-width="0.45"/><circle cx="544.75" cy="138.35" r="2.61" fill="#14679c" stroke="#1a1a1a" stroke-width="0.45"/><circle cx="546.44" cy="142.34" r="2.61" fill="#14679c" stroke="#1a1a1a" stroke-width="0.45"/><circle cx="546.99" cy="144.45" r="2.61" fill="#14679c" stroke="#1a1a1a" stroke-width="0.45"/><circle cx="527.4" cy="139.1" r="2.61" fill="#14679c" stroke="#1a1a1a" stroke-width="0.45"/><circle cx="524.5" cy="132" r="2.61" fill="#14679c" stroke="#1a1a1a" stroke-width="0.45"/><circle cx="534.69" cy="137.95" r="2.34" fill="#cc0ccc" stroke="#1a1a1a" stroke-width="0.45"/><circle cx="534.67" cy="139.76" r="2.34" fill="#cc0ccc" stroke="#1a1a1a" stroke-width="0.45"/><circle cx="533.15" cy="140.37" r="2.34" fill="#cc0ccc" stroke="#1a1a1a" stroke-width="0.45"/><circle cx="533.91" cy="144.48" r="2.34" fill="#cc0ccc" stroke="#1a1a1a" stroke-width="0.45"/><circle cx="534.27" cy="146.12" r="2.34" fill="#cc0ccc" stroke="#1a1a1a" stroke-width="0.45"/><circle cx="533.54" cy="146.69" r="2.34" fill="#cc0ccc" stroke="#1a1a1a" stroke-width="0.45"/><circle cx="534.56" cy="150.85" r="2.34" fill="#cc0ccc" stroke="#1a1a1a" stroke-width="0.45"/><circle cx="536.11" cy="153.06" r="2.34" fill="#cc0ccc" stroke="#1a1a1a" stroke-width="0.45"/><circle cx="535.03" cy="154.75" r="2.34" fill="#cc0ccc" stroke="#1a1a1a" stroke-width="0.45"/><circle cx="535.79" cy="156.79" r="2.34" fill="#cc0ccc" stroke="#1a1a1a" stroke-width="0.45"/><circle cx="537.66" cy="136.41" r="2.34" fill="#cc0ccc" stroke="#1a1a1a" stroke-width="0.45"/><circle cx="538.69" cy="138.13" r="2.34" fill="#cc0ccc" stroke="#1a1a1a" stroke-width="0.45"/><circle cx="542.61" cy="135.25" r="2.34" fill="#cc0ccc" stroke="#1a1a1a" stroke-width="0.45"/><circle cx="541.18" cy="140.13" r="2.34" fill="#cc0ccc" stroke="#1a1a1a" stroke-width="0.45"/><circle cx="544.08" cy="139.86" r="2.34" fill="#cc0ccc" stroke="#1a1a1a" stroke-width="0.45"/><circle cx="541.4" cy="140.26" r="2.34" fill="#cc0ccc" stroke="#1a1a1a" stroke-width="0.45"/><circle cx="544.78" cy="141.72" r="2.34" fill="#cc0ccc" stroke="#1a1a1a" stroke-width="0.45"/><circle cx="543.57" cy="142.87" r="2.34" fill="#cc0ccc" stroke="#1a1a1a" stroke-width="0.45"/><circle cx="543.72" cy="147.9" r="2.34" fill="#cc0ccc" stroke="#1a1a1a" stroke-width="0.45"/><circle cx="542.39" cy="148.77" r="2.34" fill="#cc0ccc" stroke="#1a1a1a" stroke-width="0.45"/><circle cx="544.44" cy="150.52" r="2.34" fill="#cc0ccc" stroke="#1a1a1a" stroke-width="0.45"/><circle cx="545.7" cy="149.09" r="2.34" fill="#cc0ccc" stroke="#1a1a1a" stroke-width="0.45"/><circle cx="542.82" cy="132.21" r="2.34" fill="#cc0ccc" stroke="#1a1a1a" stroke-width="0.45"/><circle cx="541.45" cy="131.26" r="2.34" fill="#cc0ccc" stroke="#1a1a1a" stroke-width="0.45"/><circle cx="544.1" cy="133.1" r="2.34" fill="#cc0ccc" stroke="#1a1a1a" stroke-width="0.45"/><circle cx="544.78" cy="132.67" r="2.34" fill="#cc0ccc" stroke="#1a1a1a" stroke-width="0.45"/><circle cx="547.52" cy="139.06" r="2.34" fill="#cc0ccc" stroke="#1a1a1a" stroke-width="0.45"/><circle cx="549.8" cy="139.4" r="2.34" fill="#cc0ccc" stroke="#1a1a1a" stroke-width="0.45"/><circle cx="549.73" cy="144.34" r="2.34" fill="#cc0ccc" stroke="#1a1a1a" stroke-width="0.45"/><circle cx="547.49" cy="146.28" r="2.34" fill="#cc0ccc" stroke="#1a1a1a" stroke-width="0.45"/><circle cx="550.16" cy="147.77" r="2.34" fill="#cc0ccc" stroke="#1a1a1a" stroke-width="0.45"/><circle cx="548.75" cy="147.25" r="2.34" fill="#cc0ccc" stroke="#1a1a1a" stroke-width="0.45"/><circle cx="549.45" cy="151.35" r="2.34" fill="#cc0ccc" stroke="#1a1a1a" stroke-width="0.45"/><circle cx="550.59" cy="150.38" r="2.34" fill="#cc0ccc" stroke="#1a1a1a" stroke-width="0.45"/><circle cx="550.34" cy="151.6" r="2.34" fill="#cc0ccc" stroke="#1a1a1a" stroke-width="0.45"/><circle cx="549.21" cy="152.48" r="2.34" fill="#cc0ccc" stroke="#1a1a1a" stroke-width="0.45"/><circle cx="552.75" cy="154.79" r="2.34" fill="#cc0ccc" stroke="#1a1a1a" stroke-width="0.45"/><circle cx="553.55" cy="156.21" r="2.34" fill="#cc0ccc" stroke="#1a1a1a" stroke-width="0.45"/><circle cx="555.91" cy="128.04" r="2.34" fill="#cc0ccc" stroke="#1a1a1a" stroke-width="0.45"/><circle cx="555.3" cy="129.49" r="2.34" fill="#cc0ccc" stroke="#1a1a1a" stroke-width="0.45"/><circle cx="558.06" cy="133.54" r="2.34" fill="#cc0ccc" stroke="#1a1a1a" stroke-width="0.45"/><circle cx="557.17" cy="134.52" r="2.34" fill="#cc0ccc" stroke="#1a1a1a" stroke-width="0.45"/><circle cx="557.27" cy="137.76" r="2.34" fill="#cc0ccc" stroke="#1a1a1a" stroke-width="0.45"/><circle cx="555.5" cy="138.88" r="2.34" fill="#cc0ccc" stroke="#1a1a1a" stroke-width="0.45"/><circle cx="553.2" cy="140.93" r="2.34" fill="#cc0ccc" stroke="#1a1a1a" stroke-width="0.45"/><circle cx="555.11" cy="143.01" r="2.34" fill="#cc0ccc" stroke="#1a1a1a" stroke-width="0.45"/><circle cx="556.19" cy="143.14" r="2.34" fill="#cc0ccc" stroke="#1a1a1a" stroke-width="0.45"/><circle cx="554.12" cy="147.71" r="2.34" fill="#cc0ccc" stroke="#1a1a1a" stroke-width="0.45"/><circle cx="554.74" cy="147.89" r="2.34" fill="#cc0ccc" stroke="#1a1a1a" stroke-width="0.45"/><circle cx="555.91" cy="149.19" r="2.34" fill="#cc0ccc" stroke="#1a1a1a" stroke-width="0.45"/><circle cx="557.8" cy="153.91" r="2.34" fill="#cc0ccc" stroke="#1a1a1a" stroke-width="0.45"/><circle cx="533.9" cy="175.7" r="2.25" fill="#cc0ccc" stroke="#1a1a1a" stroke-width="0.45"/><circle cx="544.5" cy="162.7" r="1.98" fill="#14679c" stroke="#1a1a1a" stroke-width="0.45"/><circle cx="546.1" cy="119.6" r="2.61" fill="#33cc33" stroke="#1a1a1a" stroke-width="0.45"/><circle cx="548.5" cy="120.3" r="2.61" fill="#33cc33" stroke="#1a1a1a" stroke-width="0.45"/><circle cx="551" cy="121.2" r="2.61" fill="#33cc33" stroke="#1a1a1a" stroke-width="0.45"/><circle cx="552" cy="124" r="2.61" fill="#33cc33" stroke="#1a1a1a" stroke-width="0.45"/><circle cx="559.5" cy="118" r="2.61" fill="#33cc33" stroke="#1a1a1a" stroke-width="0.45"/><circle cx="562" cy="121" r="2.61" fill="#33cc33" stroke="#1a1a1a" stroke-width="0.45"/><circle cx="563.5" cy="117.5" r="2.61" fill="#33cc33" stroke="#1a1a1a" stroke-width="0.45"/><circle cx="557.5" cy="126.1" r="2.61" fill="#33cc33" stroke="#1a1a1a" stroke-width="0.45"/><circle cx="582.46" cy="125.7" r="2.61" fill="#33cc33" stroke="#1a1a1a" stroke-width="0.45"/><circle cx="579.81" cy="122.95" r="2.61" fill="#33cc33" stroke="#1a1a1a" stroke-width="0.45"/><circle cx="583.72" cy="127.04" r="2.61" fill="#33cc33" stroke="#1a1a1a" stroke-width="0.45"/><circle cx="583.78" cy="125.91" r="2.61" fill="#33cc33" stroke="#1a1a1a" stroke-width="0.45"/><circle cx="586.29" cy="125.65" r="2.61" fill="#33cc33" stroke="#1a1a1a" stroke-width="0.45"/><circle cx="585.21" cy="129.37" r="2.61" fill="#33cc33" stroke="#1a1a1a" stroke-width="0.45"/><circle cx="590.83" cy="131.49" r="2.61" fill="#33cc33" stroke="#1a1a1a" stroke-width="0.45"/><circle cx="591.12" cy="131.64" r="2.61" fill="#33cc33" stroke="#1a1a1a" stroke-width="0.45"/><circle cx="587.27" cy="131.54" r="2.61" fill="#33cc33" stroke="#1a1a1a" stroke-width="0.45"/><circle cx="593.04" cy="135.55" r="2.61" fill="#33cc33" stroke="#1a1a1a" stroke-width="0.45"/><circle cx="589.15" cy="132.72" r="2.61" fill="#33cc33" stroke="#1a1a1a" stroke-width="0.45"/><circle cx="591.18" cy="137.9" r="2.61" fill="#33cc33" stroke="#1a1a1a" stroke-width="0.45"/><circle cx="591.32" cy="136.66" r="2.61" fill="#33cc33" stroke="#1a1a1a" stroke-width="0.45"/><circle cx="593.74" cy="141.93" r="2.61" fill="#33cc33" stroke="#1a1a1a" stroke-width="0.45"/><circle cx="591.35" cy="137.85" r="2.61" fill="#33cc33" stroke="#1a1a1a" stroke-width="0.45"/><circle cx="592.82" cy="141.43" r="2.61" fill="#33cc33" stroke="#1a1a1a" stroke-width="0.45"/><circle cx="595.63" cy="141.48" r="2.61" fill="#33cc33" stroke="#1a1a1a" stroke-width="0.45"/><circle cx="596.81" cy="146.11" r="2.61" fill="#33cc33" stroke="#1a1a1a" stroke-width="0.45"/><circle cx="595.14" cy="144.3" r="2.61" fill="#33cc33" stroke="#1a1a1a" stroke-width="0.45"/><circle cx="598.78" cy="146.33" r="2.61" fill="#33cc33" stroke="#1a1a1a" stroke-width="0.45"/><circle cx="598.11" cy="147.23" r="2.61" fill="#33cc33" stroke="#1a1a1a" stroke-width="0.45"/><circle cx="594.3" cy="151.8" r="2.61" fill="#33cc33" stroke="#1a1a1a" stroke-width="0.45"/><circle cx="595.19" cy="154.34" r="2.61" fill="#33cc33" stroke="#1a1a1a" stroke-width="0.45"/><circle cx="596.97" cy="151.14" r="2.61" fill="#33cc33" stroke="#1a1a1a" stroke-width="0.45"/><circle cx="595.22" cy="153.95" r="2.61" fill="#33cc33" stroke="#1a1a1a" stroke-width="0.45"/><circle cx="598.48" cy="158.57" r="2.61" fill="#33cc33" stroke="#1a1a1a" stroke-width="0.45"/><circle cx="595" cy="156.67" r="2.61" fill="#33cc33" stroke="#1a1a1a" stroke-width="0.45"/><circle cx="595.63" cy="161.59" r="2.61" fill="#33cc33" stroke="#1a1a1a" stroke-width="0.45"/><circle cx="595.29" cy="157.48" r="2.61" fill="#33cc33" stroke="#1a1a1a" stroke-width="0.45"/><circle cx="594.88" cy="160.96" r="2.61" fill="#33cc33" stroke="#1a1a1a" stroke-width="0.45"/><circle cx="600.62" cy="165.33" r="2.61" fill="#33cc33" stroke="#1a1a1a" stroke-width="0.45"/><circle cx="599.22" cy="167.43" r="2.61" fill="#33cc33" stroke="#1a1a1a" stroke-width="0.45"/><circle cx="600.38" cy="164.84" r="2.61" fill="#33cc33" stroke="#1a1a1a" stroke-width="0.45"/><circle cx="594.92" cy="169.9" r="2.61" fill="#33cc33" stroke="#1a1a1a" stroke-width="0.45"/><circle cx="571.1" cy="114.77" r="2.61" fill="#f20d0d" stroke="#1a1a1a" stroke-width="0.45"/><circle cx="570.46" cy="119.83" r="2.61" fill="#f20d0d" stroke="#1a1a1a" stroke-width="0.45"/><circle cx="571.13" cy="120.71" r="2.61" fill="#f20d0d" stroke="#1a1a1a" stroke-width="0.45"/><circle cx="569.68" cy="117.77" r="2.61" fill="#f20d0d" stroke="#1a1a1a" stroke-width="0.45"/><circle cx="567.58" cy="118.65" r="2.61" fill="#f20d0d" stroke="#1a1a1a" stroke-width="0.45"/><circle cx="572.24" cy="117" r="2.61" fill="#f20d0d" stroke="#1a1a1a" stroke-width="0.45"/><circle cx="567.46" cy="123.01" r="2.61" fill="#f20d0d" stroke="#1a1a1a" stroke-width="0.45"/><circle cx="568.4" cy="118.11" r="2.61" fill="#f20d0d" stroke="#1a1a1a" stroke-width="0.45"/><circle cx="566.92" cy="122.66" r="2.61" fill="#f20d0d" stroke="#1a1a1a" stroke-width="0.45"/><circle cx="569.9" cy="126.78" r="2.61" fill="#f20d0d" stroke="#1a1a1a" stroke-width="0.45"/><circle cx="575.27" cy="127.55" r="2.61" fill="#f20d0d" stroke="#1a1a1a" stroke-width="0.45"/><circle cx="570.06" cy="121.02" r="2.61" fill="#f20d0d" stroke="#1a1a1a" stroke-width="0.45"/><circle cx="568.89" cy="125.03" r="2.61" fill="#f20d0d" stroke="#1a1a1a" stroke-width="0.45"/><circle cx="574.76" cy="125.32" r="2.61" fill="#f20d0d" stroke="#1a1a1a" stroke-width="0.45"/><circle cx="570.83" cy="125.78" r="2.61" fill="#f20d0d" stroke="#1a1a1a" stroke-width="0.45"/><circle cx="574.66" cy="128.54" r="2.61" fill="#f20d0d" stroke="#1a1a1a" stroke-width="0.45"/><circle cx="576.16" cy="130.63" r="2.61" fill="#f20d0d" stroke="#1a1a1a" stroke-width="0.45"/><circle cx="575.76" cy="125.53" r="2.61" fill="#f20d0d" stroke="#1a1a1a" stroke-width="0.45"/><circle cx="577.7" cy="127.61" r="2.61" fill="#f20d0d" stroke="#1a1a1a" stroke-width="0.45"/><circle cx="575.58" cy="128.94" r="2.61" fill="#f20d0d" stroke="#1a1a1a" stroke-width="0.45"/><circle cx="577.53" cy="128.22" r="2.61" fill="#f20d0d" stroke="#1a1a1a" stroke-width="0.45"/><circle cx="573.53" cy="129.26" r="2.61" fill="#f20d0d" stroke="#1a1a1a" stroke-width="0.45"/><circle cx="573.1" cy="135.03" r="2.61" fill="#f20d0d" stroke="#1a1a1a" stroke-width="0.45"/><circle cx="577.34" cy="131.23" r="2.61" fill="#f20d0d" stroke="#1a1a1a" stroke-width="0.45"/><circle cx="576.12" cy="137.23" r="2.61" fill="#f20d0d" stroke="#1a1a1a" stroke-width="0.45"/><circle cx="577.54" cy="131.81" r="2.61" fill="#f20d0d" stroke="#1a1a1a" stroke-width="0.45"/><circle cx="580.66" cy="135.85" r="2.61" fill="#f20d0d" stroke="#1a1a1a" stroke-width="0.45"/><circle cx="582.72" cy="132.1" r="2.61" fill="#f20d0d" stroke="#1a1a1a" stroke-width="0.45"/><circle cx="578.49" cy="138.5" r="2.61" fill="#f20d0d" stroke="#1a1a1a" stroke-width="0.45"/><circle cx="582.2" cy="139.93" r="2.61" fill="#f20d0d" stroke="#1a1a1a" stroke-width="0.45"/><circle cx="575.41" cy="135.63" r="2.61" fill="#f20d0d" stroke="#1a1a1a" stroke-width="0.45"/><circle cx="576.54" cy="135.46" r="2.61" fill="#f20d0d" stroke="#1a1a1a" stroke-width="0.45"/><circle cx="584.64" cy="139.28" r="2.61" fill="#f20d0d" stroke="#1a1a1a" stroke-width="0.45"/><circle cx="584.67" cy="138.26" r="2.61" fill="#f20d0d" stroke="#1a1a1a" stroke-width="0.45"/><circle cx="584.51" cy="139.54" r="2.61" fill="#f20d0d" stroke="#1a1a1a" stroke-width="0.45"/><circle cx="579.47" cy="142.83" r="2.61" fill="#f20d0d" stroke="#1a1a1a" stroke-width="0.45"/><circle cx="586.06" cy="138.12" r="2.61" fill="#f20d0d" stroke="#1a1a1a" stroke-width="0.45"/><circle cx="583.33" cy="142.9" r="2.61" fill="#f20d0d" stroke="#1a1a1a" stroke-width="0.45"/><circle cx="580.34" cy="141.55" r="2.61" fill="#f20d0d" stroke="#1a1a1a" stroke-width="0.45"/><circle cx="580.07" cy="140.9" r="2.61" fill="#f20d0d" stroke="#1a1a1a" stroke-width="0.45"/><circle cx="581.5" cy="144.73" r="2.61" fill="#f20d0d" stroke="#1a1a1a" stroke-width="0.45"/><circle cx="585.49" cy="142.23" r="2.61" fill="#f20d0d" stroke="#1a1a1a" stroke-width="0.45"/><circle cx="580.14" cy="143.88" r="2.61" fill="#f20d0d" stroke="#1a1a1a" stroke-width="0.45"/><circle cx="586.56" cy="143.41" r="2.61" fill="#f20d0d" stroke="#1a1a1a" stroke-width="0.45"/><circle cx="583.62" cy="144.26" r="2.61" fill="#f20d0d" stroke="#1a1a1a" stroke-width="0.45"/><circle cx="588.32" cy="147.72" r="2.61" fill="#f20d0d" stroke="#1a1a1a" stroke-width="0.45"/><circle cx="582.09" cy="144.85" r="2.61" fill="#f20d0d" stroke="#1a1a1a" stroke-width="0.45"/><circle cx="585.43" cy="149.14" r="2.61" fill="#f20d0d" stroke="#1a1a1a" stroke-width="0.45"/><circle cx="587.97" cy="146.17" r="2.61" fill="#f20d0d" stroke="#1a1a1a" stroke-width="0.45"/><circle cx="584.04" cy="151.7" r="2.61" fill="#f20d0d" stroke="#1a1a1a" stroke-width="0.45"/><circle cx="586.61" cy="149.11" r="2.61" fill="#f20d0d" stroke="#1a1a1a" stroke-width="0.45"/><circle cx="586.04" cy="155.17" r="2.61" fill="#f20d0d" stroke="#1a1a1a" stroke-width="0.45"/><circle cx="586.43" cy="152.78" r="2.61" fill="#f20d0d" stroke="#1a1a1a" stroke-width="0.45"/><circle cx="587.19" cy="152.28" r="2.61" fill="#f20d0d" stroke="#1a1a1a" stroke-width="0.45"/><circle cx="592.1" cy="157.62" r="2.61" fill="#f20d0d" stroke="#1a1a1a" stroke-width="0.45"/><circle cx="588.66" cy="153.9" r="2.61" fill="#f20d0d" stroke="#1a1a1a" stroke-width="0.45"/><circle cx="590.26" cy="155.53" r="2.61" fill="#f20d0d" stroke="#1a1a1a" stroke-width="0.45"/><circle cx="587.95" cy="159.23" r="2.61" fill="#f20d0d" stroke="#1a1a1a" stroke-width="0.45"/><circle cx="589.75" cy="160.6" r="2.61" fill="#f20d0d" stroke="#1a1a1a" stroke-width="0.45"/><circle cx="589.98" cy="162.39" r="2.61" fill="#f20d0d" stroke="#1a1a1a" stroke-width="0.45"/><circle cx="590.47" cy="161.84" r="2.61" fill="#f20d0d" stroke="#1a1a1a" stroke-width="0.45"/><circle cx="589.16" cy="164.62" r="2.61" fill="#f20d0d" stroke="#1a1a1a" stroke-width="0.45"/><circle cx="591.62" cy="167.32" r="2.61" fill="#f20d0d" stroke="#1a1a1a" stroke-width="0.45"/><circle cx="589.79" cy="168.08" r="2.61" fill="#f20d0d" stroke="#1a1a1a" stroke-width="0.45"/><circle cx="590.97" cy="169.36" r="2.61" fill="#f20d0d" stroke="#1a1a1a" stroke-width="0.45"/><circle cx="590.32" cy="170.32" r="2.61" fill="#f20d0d" stroke="#1a1a1a" stroke-width="0.45"/><circle cx="591.84" cy="173.88" r="2.61" fill="#f20d0d" stroke="#1a1a1a" stroke-width="0.45"/><circle cx="590.51" cy="174.2" r="2.61" fill="#f20d0d" stroke="#1a1a1a" stroke-width="0.45"/><circle cx="593.18" cy="177.26" r="2.61" fill="#f20d0d" stroke="#1a1a1a" stroke-width="0.45"/><circle cx="591.16" cy="176.37" r="2.61" fill="#f20d0d" stroke="#1a1a1a" stroke-width="0.45"/><circle cx="594.01" cy="180.54" r="2.61" fill="#f20d0d" stroke="#1a1a1a" stroke-width="0.45"/><circle cx="592.51" cy="179.41" r="2.61" fill="#f20d0d" stroke="#1a1a1a" stroke-width="0.45"/><circle cx="594.27" cy="182.04" r="2.61" fill="#f20d0d" stroke="#1a1a1a" stroke-width="0.45"/><circle cx="594.36" cy="184.36" r="2.61" fill="#f20d0d" stroke="#1a1a1a" stroke-width="0.45"/><circle cx="594.17" cy="184.62" r="2.61" fill="#f20d0d" stroke="#1a1a1a" stroke-width="0.45"/><circle cx="594.03" cy="186.44" r="2.61" fill="#f20d0d" stroke="#1a1a1a" stroke-width="0.45"/><circle cx="592.66" cy="189.95" r="2.61" fill="#f20d0d" stroke="#1a1a1a" stroke-width="0.45"/><circle cx="594.19" cy="189.59" r="2.61" fill="#f20d0d" stroke="#1a1a1a" stroke-width="0.45"/><circle cx="591.99" cy="191.88" r="2.61" fill="#f20d0d" stroke="#1a1a1a" stroke-width="0.45"/><circle cx="592.5" cy="195" r="2.34" fill="#f20d0d" stroke="#1a1a1a" stroke-width="0.45"/><circle cx="591.5" cy="187" r="2.34" fill="#f20d0d" stroke="#1a1a1a" stroke-width="0.45"/><circle cx="597" cy="176" r="2.61" fill="#3399f2" stroke="#1a1a1a" stroke-width="0.45"/><circle cx="600" cy="178" r="2.61" fill="#3399f2" stroke="#1a1a1a" stroke-width="0.45"/><circle cx="602" cy="175" r="2.61" fill="#3399f2" stroke="#1a1a1a" stroke-width="0.45"/><circle cx="604" cy="180" r="2.61" fill="#3399f2" stroke="#1a1a1a" stroke-width="0.45"/><circle cx="606" cy="185" r="2.61" fill="#3399f2" stroke="#1a1a1a" stroke-width="0.45"/><circle cx="607" cy="190" r="2.61" fill="#3399f2" stroke="#1a1a1a" stroke-width="0.45"/><circle cx="608" cy="183" r="2.61" fill="#3399f2" stroke="#1a1a1a" stroke-width="0.45"/><circle cx="605" cy="194" r="2.61" fill="#3399f2" stroke="#1a1a1a" stroke-width="0.45"/><circle cx="612" cy="196" r="2.61" fill="#3399f2" stroke="#1a1a1a" stroke-width="0.45"/><circle cx="618" cy="177" r="2.61" fill="#3399f2" stroke="#1a1a1a" stroke-width="0.45"/><circle cx="620" cy="178" r="2.61" fill="#3399f2" stroke="#1a1a1a" stroke-width="0.45"/><circle cx="622" cy="176" r="2.61" fill="#3399f2" stroke="#1a1a1a" stroke-width="0.45"/><circle cx="624" cy="182" r="2.61" fill="#3399f2" stroke="#1a1a1a" stroke-width="0.45"/><circle cx="627" cy="186" r="2.61" fill="#3399f2" stroke="#1a1a1a" stroke-width="0.45"/><circle cx="625" cy="180" r="2.61" fill="#3399f2" stroke="#1a1a1a" stroke-width="0.45"/><circle cx="611" cy="187" r="2.61" fill="#3399f2" stroke="#1a1a1a" stroke-width="0.45"/><circle cx="620" cy="184" r="2.61" fill="#3399f2" stroke="#1a1a1a" stroke-width="0.45"/><circle cx="637.88" cy="173.56" r="2.61" fill="#3399f2" stroke="#1a1a1a" stroke-width="0.45"/><circle cx="636.95" cy="177.75" r="2.61" fill="#3399f2" stroke="#1a1a1a" stroke-width="0.45"/><circle cx="639.4" cy="179.5" r="2.61" fill="#3399f2" stroke="#1a1a1a" stroke-width="0.45"/><circle cx="640.17" cy="182.66" r="2.61" fill="#3399f2" stroke="#1a1a1a" stroke-width="0.45"/><circle cx="641.64" cy="186.52" r="2.61" fill="#3399f2" stroke="#1a1a1a" stroke-width="0.45"/><circle cx="639.45" cy="189.98" r="2.61" fill="#3399f2" stroke="#1a1a1a" stroke-width="0.45"/><circle cx="638.99" cy="191.48" r="2.61" fill="#3399f2" stroke="#1a1a1a" stroke-width="0.45"/><circle cx="640.58" cy="193.26" r="2.61" fill="#3399f2" stroke="#1a1a1a" stroke-width="0.45"/><circle cx="639.69" cy="198.04" r="2.61" fill="#3399f2" stroke="#1a1a1a" stroke-width="0.45"/><circle cx="639.91" cy="200.05" r="2.61" fill="#3399f2" stroke="#1a1a1a" stroke-width="0.45"/><circle cx="643.64" cy="201.41" r="2.61" fill="#3399f2" stroke="#1a1a1a" stroke-width="0.45"/><circle cx="641.35" cy="205.92" r="2.61" fill="#3399f2" stroke="#1a1a1a" stroke-width="0.45"/><circle cx="642.85" cy="208.87" r="2.61" fill="#3399f2" stroke="#1a1a1a" stroke-width="0.45"/><circle cx="644.34" cy="210.01" r="2.61" fill="#3399f2" stroke="#1a1a1a" stroke-width="0.45"/><circle cx="634.4" cy="227" r="2.61" fill="#3399f2" stroke="#1a1a1a" stroke-width="0.45"/><circle cx="633" cy="236" r="2.61" fill="#3399f2" stroke="#1a1a1a" stroke-width="0.45"/><circle cx="634.4" cy="248.6" r="2.61" fill="#3399f2" stroke="#1a1a1a" stroke-width="0.45"/><circle cx="635" cy="293.5" r="2.61" fill="#3399f2" stroke="#1a1a1a" stroke-width="0.45"/><circle cx="637" cy="220" r="2.61" fill="#3399f2" stroke="#1a1a1a" stroke-width="0.45"/><circle cx="628.5" cy="180" r="2.61" fill="#3399f2" stroke="#1a1a1a" stroke-width="0.45"/><circle cx="621" cy="190" r="2.61" fill="#3399f2" stroke="#1a1a1a" stroke-width="0.45"/><circle cx="612.7" cy="197.5" r="2.61" fill="#8080dd" stroke="#1a1a1a" stroke-width="0.45"/><circle cx="629.8" cy="150.5" r="2.61" fill="#9e5e2e" stroke="#1a1a1a" stroke-width="0.45"/><circle cx="631.38" cy="196.89" r="2.61" fill="#9e5e2e" stroke="#1a1a1a" stroke-width="0.45"/><circle cx="632.32" cy="200.01" r="2.61" fill="#9e5e2e" stroke="#1a1a1a" stroke-width="0.45"/><circle cx="632.22" cy="204.14" r="2.61" fill="#9e5e2e" stroke="#1a1a1a" stroke-width="0.45"/><circle cx="632.53" cy="207.1" r="2.61" fill="#9e5e2e" stroke="#1a1a1a" stroke-width="0.45"/><circle cx="632.47" cy="211.01" r="2.61" fill="#9e5e2e" stroke="#1a1a1a" stroke-width="0.45"/><circle cx="631.74" cy="213.73" r="2.61" fill="#9e5e2e" stroke="#1a1a1a" stroke-width="0.45"/><circle cx="632.76" cy="216.99" r="2.61" fill="#9e5e2e" stroke="#1a1a1a" stroke-width="0.45"/><circle cx="643" cy="218" r="2.79" fill="#cc99f5" stroke="#1a1a1a" stroke-width="0.45"/><circle cx="644" cy="226" r="2.79" fill="#cc99f5" stroke="#1a1a1a" stroke-width="0.45"/><circle cx="645" cy="235" r="2.79" fill="#cc99f5" stroke="#1a1a1a" stroke-width="0.45"/><circle cx="646" cy="243" r="2.79" fill="#cc99f5" stroke="#1a1a1a" stroke-width="0.45"/><circle cx="647" cy="252" r="2.79" fill="#cc99f5" stroke="#1a1a1a" stroke-width="0.45"/><circle cx="648" cy="263" r="2.79" fill="#cc99f5" stroke="#1a1a1a" stroke-width="0.45"/><circle cx="649" cy="273" r="2.79" fill="#cc99f5" stroke="#1a1a1a" stroke-width="0.45"/><circle cx="650" cy="240" r="2.79" fill="#cc99f5" stroke="#1a1a1a" stroke-width="0.45"/><circle cx="646" cy="230" r="2.79" fill="#cc99f5" stroke="#1a1a1a" stroke-width="0.45"/><circle cx="642" cy="260" r="2.79" fill="#cc99f5" stroke="#1a1a1a" stroke-width="0.45"/><circle cx="640" cy="271" r="2.79" fill="#cc99f5" stroke="#1a1a1a" stroke-width="0.45"/><circle cx="647" cy="281" r="2.79" fill="#cc99f5" stroke="#1a1a1a" stroke-width="0.45"/><circle cx="651" cy="266" r="2.79" fill="#cc99f5" stroke="#1a1a1a" stroke-width="0.45"/><circle cx="650" cy="250" r="2.79" fill="#cc99f5" stroke="#1a1a1a" stroke-width="0.45"/><circle cx="644" cy="247" r="2.79" fill="#cc99f5" stroke="#1a1a1a" stroke-width="0.45"/><circle cx="663.59" cy="163.28" r="2.61" fill="#cc99f5" stroke="#1a1a1a" stroke-width="0.45"/><circle cx="661.16" cy="163.76" r="2.61" fill="#cc99f5" stroke="#1a1a1a" stroke-width="0.45"/><circle cx="662.32" cy="168.24" r="2.61" fill="#cc99f5" stroke="#1a1a1a" stroke-width="0.45"/><circle cx="662.35" cy="167.26" r="2.61" fill="#cc99f5" stroke="#1a1a1a" stroke-width="0.45"/><circle cx="665.65" cy="169.97" r="2.61" fill="#cc99f5" stroke="#1a1a1a" stroke-width="0.45"/><circle cx="664.42" cy="172.25" r="2.61" fill="#cc99f5" stroke="#1a1a1a" stroke-width="0.45"/><circle cx="659.32" cy="172.48" r="2.61" fill="#cc99f5" stroke="#1a1a1a" stroke-width="0.45"/><circle cx="662.39" cy="176.34" r="2.61" fill="#cc99f5" stroke="#1a1a1a" stroke-width="0.45"/><circle cx="662.3" cy="177.46" r="2.61" fill="#cc99f5" stroke="#1a1a1a" stroke-width="0.45"/><circle cx="664" cy="175.89" r="2.61" fill="#cc99f5" stroke="#1a1a1a" stroke-width="0.45"/><circle cx="666.55" cy="176.64" r="2.61" fill="#cc99f5" stroke="#1a1a1a" stroke-width="0.45"/><circle cx="666.76" cy="178.7" r="2.61" fill="#cc99f5" stroke="#1a1a1a" stroke-width="0.45"/><circle cx="662" cy="180.46" r="2.61" fill="#cc99f5" stroke="#1a1a1a" stroke-width="0.45"/><circle cx="667.35" cy="186.98" r="2.61" fill="#cc99f5" stroke="#1a1a1a" stroke-width="0.45"/><circle cx="662.51" cy="185.33" r="2.61" fill="#cc99f5" stroke="#1a1a1a" stroke-width="0.45"/><circle cx="664.62" cy="188.56" r="2.61" fill="#cc99f5" stroke="#1a1a1a" stroke-width="0.45"/><circle cx="661.64" cy="187.9" r="2.61" fill="#cc99f5" stroke="#1a1a1a" stroke-width="0.45"/><circle cx="661.66" cy="191.33" r="2.61" fill="#cc99f5" stroke="#1a1a1a" stroke-width="0.45"/><circle cx="660.09" cy="193.31" r="2.61" fill="#cc99f5" stroke="#1a1a1a" stroke-width="0.45"/><circle cx="659.22" cy="189.92" r="2.61" fill="#cc99f5" stroke="#1a1a1a" stroke-width="0.45"/><circle cx="660.87" cy="193" r="2.61" fill="#cc99f5" stroke="#1a1a1a" stroke-width="0.45"/><circle cx="656.08" cy="195.16" r="2.61" fill="#cc99f5" stroke="#1a1a1a" stroke-width="0.45"/><circle cx="655.64" cy="197.48" r="2.61" fill="#cc99f5" stroke="#1a1a1a" stroke-width="0.45"/><circle cx="660.31" cy="198.93" r="2.61" fill="#cc99f5" stroke="#1a1a1a" stroke-width="0.45"/><circle cx="660.59" cy="197.62" r="2.61" fill="#cc99f5" stroke="#1a1a1a" stroke-width="0.45"/><circle cx="659.87" cy="199.33" r="2.61" fill="#cc99f5" stroke="#1a1a1a" stroke-width="0.45"/><circle cx="663.73" cy="198.81" r="2.61" fill="#cc99f5" stroke="#1a1a1a" stroke-width="0.45"/><circle cx="664.44" cy="199.87" r="2.61" fill="#cc99f5" stroke="#1a1a1a" stroke-width="0.45"/><circle cx="660.8" cy="202.85" r="2.61" fill="#cc99f5" stroke="#1a1a1a" stroke-width="0.45"/><circle cx="665.04" cy="205.76" r="2.61" fill="#cc99f5" stroke="#1a1a1a" stroke-width="0.45"/><circle cx="660.77" cy="209.54" r="2.61" fill="#cc99f5" stroke="#1a1a1a" stroke-width="0.45"/><circle cx="658.9" cy="208.17" r="2.61" fill="#cc99f5" stroke="#1a1a1a" stroke-width="0.45"/><circle cx="659.88" cy="211.38" r="2.61" fill="#cc99f5" stroke="#1a1a1a" stroke-width="0.45"/><circle cx="660.36" cy="212.02" r="2.61" fill="#cc99f5" stroke="#1a1a1a" stroke-width="0.45"/><circle cx="656.84" cy="211.31" r="2.61" fill="#cc99f5" stroke="#1a1a1a" stroke-width="0.45"/><circle cx="654.67" cy="215.94" r="2.61" fill="#cc99f5" stroke="#1a1a1a" stroke-width="0.45"/><circle cx="657.07" cy="216.64" r="2.61" fill="#cc99f5" stroke="#1a1a1a" stroke-width="0.45"/><circle cx="654.5" cy="216.22" r="2.61" fill="#cc99f5" stroke="#1a1a1a" stroke-width="0.45"/><circle cx="658.95" cy="218.64" r="2.61" fill="#cc99f5" stroke="#1a1a1a" stroke-width="0.45"/><circle cx="655.39" cy="219.41" r="2.61" fill="#cc99f5" stroke="#1a1a1a" stroke-width="0.45"/><circle cx="660.84" cy="219.49" r="2.61" fill="#cc99f5" stroke="#1a1a1a" stroke-width="0.45"/><circle cx="656.98" cy="221.42" r="2.61" fill="#cc99f5" stroke="#1a1a1a" stroke-width="0.45"/><circle cx="660.84" cy="226.4" r="2.61" fill="#cc99f5" stroke="#1a1a1a" stroke-width="0.45"/><circle cx="657.91" cy="223.52" r="2.61" fill="#cc99f5" stroke="#1a1a1a" stroke-width="0.45"/><circle cx="659.09" cy="226.13" r="2.61" fill="#cc99f5" stroke="#1a1a1a" stroke-width="0.45"/><circle cx="691.63" cy="149.98" r="2.7" fill="#dede12" stroke="#1a1a1a" stroke-width="0.45"/><circle cx="689.39" cy="155.71" r="2.7" fill="#dede12" stroke="#1a1a1a" stroke-width="0.45"/><circle cx="689.77" cy="154.55" r="2.7" fill="#dede12" stroke="#1a1a1a" stroke-width="0.45"/><circle cx="689.25" cy="160.98" r="2.7" fill="#dede12" stroke="#1a1a1a" stroke-width="0.45"/><circle cx="689.05" cy="165.42" r="2.7" fill="#dede12" stroke="#1a1a1a" stroke-width="0.45"/><circle cx="692.32" cy="171.43" r="2.7" fill="#dede12" stroke="#1a1a1a" stroke-width="0.45"/><circle cx="693.12" cy="173.16" r="2.7" fill="#dede12" stroke="#1a1a1a" stroke-width="0.45"/><circle cx="691.07" cy="180.2" r="2.7" fill="#dede12" stroke="#1a1a1a" stroke-width="0.45"/><circle cx="693.12" cy="183.07" r="2.7" fill="#dede12" stroke="#1a1a1a" stroke-width="0.45"/><circle cx="687.71" cy="188.88" r="2.7" fill="#dede12" stroke="#1a1a1a" stroke-width="0.45"/><circle cx="687.86" cy="189.53" r="2.7" fill="#dede12" stroke="#1a1a1a" stroke-width="0.45"/><circle cx="687.91" cy="197.16" r="2.7" fill="#dede12" stroke="#1a1a1a" stroke-width="0.45"/><circle cx="692.86" cy="200.56" r="2.7" fill="#dede12" stroke="#1a1a1a" stroke-width="0.45"/><circle cx="692.51" cy="204.38" r="2.7" fill="#dede12" stroke="#1a1a1a" stroke-width="0.45"/><circle cx="690.56" cy="211.06" r="2.7" fill="#dede12" stroke="#1a1a1a" stroke-width="0.45"/><circle cx="689.9" cy="213.39" r="2.7" fill="#dede12" stroke="#1a1a1a" stroke-width="0.45"/><circle cx="693.68" cy="150.89" r="2.7" fill="#0c6612" stroke="#1a1a1a" stroke-width="0.45"/><circle cx="691.58" cy="151.84" r="2.7" fill="#0c6612" stroke="#1a1a1a" stroke-width="0.45"/><circle cx="692.23" cy="157.23" r="2.7" fill="#0c6612" stroke="#1a1a1a" stroke-width="0.45"/><circle cx="692.8" cy="155.07" r="2.7" fill="#0c6612" stroke="#1a1a1a" stroke-width="0.45"/><circle cx="695.15" cy="160.49" r="2.7" fill="#0c6612" stroke="#1a1a1a" stroke-width="0.45"/><circle cx="692.32" cy="162.68" r="2.7" fill="#0c6612" stroke="#1a1a1a" stroke-width="0.45"/><circle cx="694.2" cy="163.61" r="2.7" fill="#0c6612" stroke="#1a1a1a" stroke-width="0.45"/><circle cx="694.56" cy="165.87" r="2.7" fill="#0c6612" stroke="#1a1a1a" stroke-width="0.45"/><circle cx="695.14" cy="167.12" r="2.7" fill="#0c6612" stroke="#1a1a1a" stroke-width="0.45"/><circle cx="692.57" cy="167.83" r="2.7" fill="#0c6612" stroke="#1a1a1a" stroke-width="0.45"/><circle cx="693.69" cy="169.7" r="2.7" fill="#0c6612" stroke="#1a1a1a" stroke-width="0.45"/><circle cx="693.11" cy="172.12" r="2.7" fill="#0c6612" stroke="#1a1a1a" stroke-width="0.45"/><circle cx="693.37" cy="169.99" r="2.7" fill="#0c6612" stroke="#1a1a1a" stroke-width="0.45"/><circle cx="691.87" cy="170.82" r="2.7" fill="#0c6612" stroke="#1a1a1a" stroke-width="0.45"/><circle cx="692.7" cy="171.91" r="2.7" fill="#0c6612" stroke="#1a1a1a" stroke-width="0.45"/><circle cx="692.38" cy="174" r="2.7" fill="#0c6612" stroke="#1a1a1a" stroke-width="0.45"/><circle cx="692.27" cy="177.7" r="2.7" fill="#0c6612" stroke="#1a1a1a" stroke-width="0.45"/><circle cx="692.25" cy="181.47" r="2.7" fill="#0c6612" stroke="#1a1a1a" stroke-width="0.45"/><circle cx="690.2" cy="182.9" r="2.7" fill="#0c6612" stroke="#1a1a1a" stroke-width="0.45"/><circle cx="692.36" cy="182.8" r="2.7" fill="#0c6612" stroke="#1a1a1a" stroke-width="0.45"/><circle cx="693.46" cy="186.02" r="2.7" fill="#0c6612" stroke="#1a1a1a" stroke-width="0.45"/><circle cx="692.61" cy="185.05" r="2.7" fill="#0c6612" stroke="#1a1a1a" stroke-width="0.45"/><circle cx="695.26" cy="184.56" r="2.7" fill="#0c6612" stroke="#1a1a1a" stroke-width="0.45"/><circle cx="694.28" cy="189.48" r="2.7" fill="#0c6612" stroke="#1a1a1a" stroke-width="0.45"/><circle cx="692.16" cy="190.88" r="2.7" fill="#0c6612" stroke="#1a1a1a" stroke-width="0.45"/><circle cx="695.09" cy="194.37" r="2.7" fill="#0c6612" stroke="#1a1a1a" stroke-width="0.45"/><circle cx="693.99" cy="196.24" r="2.7" fill="#0c6612" stroke="#1a1a1a" stroke-width="0.45"/><circle cx="695.02" cy="194.81" r="2.7" fill="#0c6612" stroke="#1a1a1a" stroke-width="0.45"/><circle cx="696.44" cy="193.69" r="2.7" fill="#0c6612" stroke="#1a1a1a" stroke-width="0.45"/><circle cx="695.56" cy="198.82" r="2.7" fill="#0c6612" stroke="#1a1a1a" stroke-width="0.45"/><circle cx="693.88" cy="201.83" r="2.7" fill="#0c6612" stroke="#1a1a1a" stroke-width="0.45"/><circle cx="693.83" cy="201.09" r="2.7" fill="#0c6612" stroke="#1a1a1a" stroke-width="0.45"/><circle cx="694.31" cy="204.45" r="2.7" fill="#0c6612" stroke="#1a1a1a" stroke-width="0.45"/><circle cx="692.89" cy="204.02" r="2.7" fill="#0c6612" stroke="#1a1a1a" stroke-width="0.45"/><circle cx="693.57" cy="206.31" r="2.7" fill="#0c6612" stroke="#1a1a1a" stroke-width="0.45"/><circle cx="695.03" cy="206.33" r="2.7" fill="#0c6612" stroke="#1a1a1a" stroke-width="0.45"/><circle cx="694.87" cy="208.58" r="2.7" fill="#0c6612" stroke="#1a1a1a" stroke-width="0.45"/><circle cx="693.42" cy="209.37" r="2.7" fill="#0c6612" stroke="#1a1a1a" stroke-width="0.45"/><circle cx="693.27" cy="215.17" r="2.7" fill="#0c6612" stroke="#1a1a1a" stroke-width="0.45"/><circle cx="693.7" cy="215.66" r="2.7" fill="#0c6612" stroke="#1a1a1a" stroke-width="0.45"/><circle cx="714.23" cy="147.59" r="2.7" fill="#f5857a" stroke="#1a1a1a" stroke-width="0.45"/><circle cx="714.14" cy="144.42" r="2.7" fill="#f5857a" stroke="#1a1a1a" stroke-width="0.45"/><circle cx="716.25" cy="147.71" r="2.7" fill="#f5857a" stroke="#1a1a1a" stroke-width="0.45"/><circle cx="716.06" cy="149.33" r="2.7" fill="#f5857a" stroke="#1a1a1a" stroke-width="0.45"/><circle cx="713.08" cy="154.79" r="2.7" fill="#f5857a" stroke="#1a1a1a" stroke-width="0.45"/><circle cx="715.48" cy="157.23" r="2.7" fill="#f5857a" stroke="#1a1a1a" stroke-width="0.45"/><circle cx="715.3" cy="154.55" r="2.7" fill="#f5857a" stroke="#1a1a1a" stroke-width="0.45"/><circle cx="714.64" cy="160.24" r="2.7" fill="#f5857a" stroke="#1a1a1a" stroke-width="0.45"/><circle cx="714.08" cy="163.5" r="2.7" fill="#f5857a" stroke="#1a1a1a" stroke-width="0.45"/><circle cx="713.76" cy="165.58" r="2.7" fill="#f5857a" stroke="#1a1a1a" stroke-width="0.45"/><circle cx="716.12" cy="161.76" r="2.7" fill="#f5857a" stroke="#1a1a1a" stroke-width="0.45"/><circle cx="713.82" cy="167.49" r="2.7" fill="#f5857a" stroke="#1a1a1a" stroke-width="0.45"/><circle cx="717.53" cy="165.96" r="2.7" fill="#f5857a" stroke="#1a1a1a" stroke-width="0.45"/><circle cx="716.01" cy="171.75" r="2.7" fill="#f5857a" stroke="#1a1a1a" stroke-width="0.45"/><circle cx="715.94" cy="174.44" r="2.7" fill="#f5857a" stroke="#1a1a1a" stroke-width="0.45"/><circle cx="717.72" cy="171.52" r="2.7" fill="#f5857a" stroke="#1a1a1a" stroke-width="0.45"/><circle cx="717.26" cy="176.52" r="2.7" fill="#f5857a" stroke="#1a1a1a" stroke-width="0.45"/><circle cx="717.16" cy="179.06" r="2.7" fill="#f5857a" stroke="#1a1a1a" stroke-width="0.45"/><circle cx="715.6" cy="181.7" r="2.7" fill="#f5857a" stroke="#1a1a1a" stroke-width="0.45"/><circle cx="716.08" cy="182.71" r="2.7" fill="#f5857a" stroke="#1a1a1a" stroke-width="0.45"/><circle cx="716.77" cy="183.27" r="2.7" fill="#f5857a" stroke="#1a1a1a" stroke-width="0.45"/><circle cx="715.41" cy="187.4" r="2.7" fill="#f5857a" stroke="#1a1a1a" stroke-width="0.45"/><circle cx="717.26" cy="189.32" r="2.7" fill="#f5857a" stroke="#1a1a1a" stroke-width="0.45"/><circle cx="715.36" cy="188.28" r="2.7" fill="#f5857a" stroke="#1a1a1a" stroke-width="0.45"/><circle cx="713.48" cy="194.31" r="2.7" fill="#f5857a" stroke="#1a1a1a" stroke-width="0.45"/><circle cx="716.37" cy="195.36" r="2.7" fill="#f5857a" stroke="#1a1a1a" stroke-width="0.45"/><circle cx="715.21" cy="195.97" r="2.7" fill="#f5857a" stroke="#1a1a1a" stroke-width="0.45"/><circle cx="718.11" cy="199.25" r="2.7" fill="#f5857a" stroke="#1a1a1a" stroke-width="0.45"/><circle cx="716.92" cy="198.05" r="2.7" fill="#f5857a" stroke="#1a1a1a" stroke-width="0.45"/><circle cx="716.55" cy="203.46" r="2.7" fill="#f5857a" stroke="#1a1a1a" stroke-width="0.45"/><circle cx="725.04" cy="155.91" r="2.7" fill="#8a3f14" stroke="#1a1a1a" stroke-width="0.45"/><circle cx="724.07" cy="158.98" r="2.7" fill="#8a3f14" stroke="#1a1a1a" stroke-width="0.45"/><circle cx="723.54" cy="158.97" r="2.7" fill="#8a3f14" stroke="#1a1a1a" stroke-width="0.45"/><circle cx="721.38" cy="166.73" r="2.7" fill="#8a3f14" stroke="#1a1a1a" stroke-width="0.45"/><circle cx="724.49" cy="165.65" r="2.7" fill="#8a3f14" stroke="#1a1a1a" stroke-width="0.45"/><circle cx="723.08" cy="166.24" r="2.7" fill="#8a3f14" stroke="#1a1a1a" stroke-width="0.45"/><circle cx="723.72" cy="169.17" r="2.7" fill="#8a3f14" stroke="#1a1a1a" stroke-width="0.45"/><circle cx="724.17" cy="173.16" r="2.7" fill="#8a3f14" stroke="#1a1a1a" stroke-width="0.45"/><circle cx="723.44" cy="176.28" r="2.7" fill="#8a3f14" stroke="#1a1a1a" stroke-width="0.45"/><circle cx="721.13" cy="172.65" r="2.7" fill="#8a3f14" stroke="#1a1a1a" stroke-width="0.45"/><circle cx="721.42" cy="175.39" r="2.7" fill="#8a3f14" stroke="#1a1a1a" stroke-width="0.45"/><circle cx="721.45" cy="176.5" r="2.7" fill="#8a3f14" stroke="#1a1a1a" stroke-width="0.45"/><circle cx="723.85" cy="183.31" r="2.7" fill="#8a3f14" stroke="#1a1a1a" stroke-width="0.45"/><circle cx="723.96" cy="185.65" r="2.7" fill="#8a3f14" stroke="#1a1a1a" stroke-width="0.45"/><circle cx="726.27" cy="182.24" r="2.7" fill="#8a3f14" stroke="#1a1a1a" stroke-width="0.45"/><circle cx="725.52" cy="186.13" r="2.7" fill="#8a3f14" stroke="#1a1a1a" stroke-width="0.45"/><circle cx="724.11" cy="191.39" r="2.7" fill="#8a3f14" stroke="#1a1a1a" stroke-width="0.45"/><circle cx="724.92" cy="190.91" r="2.7" fill="#8a3f14" stroke="#1a1a1a" stroke-width="0.45"/><circle cx="726.07" cy="195.18" r="2.7" fill="#8a3f14" stroke="#1a1a1a" stroke-width="0.45"/><circle cx="725.81" cy="193.71" r="2.7" fill="#8a3f14" stroke="#1a1a1a" stroke-width="0.45"/><circle cx="724.54" cy="194.23" r="2.7" fill="#8a3f14" stroke="#1a1a1a" stroke-width="0.45"/><circle cx="726.23" cy="201.13" r="2.7" fill="#8a3f14" stroke="#1a1a1a" stroke-width="0.45"/><circle cx="722.87" cy="197.33" r="2.7" fill="#8a3f14" stroke="#1a1a1a" stroke-width="0.45"/><circle cx="722.62" cy="201.12" r="2.7" fill="#8a3f14" stroke="#1a1a1a" stroke-width="0.45"/><circle cx="724.83" cy="206.35" r="2.7" fill="#8a3f14" stroke="#1a1a1a" stroke-width="0.45"/><circle cx="724.48" cy="203.13" r="2.7" fill="#8a3f14" stroke="#1a1a1a" stroke-width="0.45"/><circle cx="724.56" cy="209.04" r="2.7" fill="#8a3f14" stroke="#1a1a1a" stroke-width="0.45"/><circle cx="724.29" cy="212.62" r="2.7" fill="#8a3f14" stroke="#1a1a1a" stroke-width="0.45"/><circle cx="722.21" cy="209.51" r="2.7" fill="#8a3f14" stroke="#1a1a1a" stroke-width="0.45"/><circle cx="725.3" cy="216.21" r="2.7" fill="#8a3f14" stroke="#1a1a1a" stroke-width="0.45"/><circle cx="725.28" cy="214.3" r="2.7" fill="#8a3f14" stroke="#1a1a1a" stroke-width="0.45"/><circle cx="725.22" cy="218.98" r="2.7" fill="#8a3f14" stroke="#1a1a1a" stroke-width="0.45"/><polyline points="478.6,148.2 481.07,149.96 484.4,152.41 488.39,155.31 492.83,158.42 497.5,161.49 502.2,164.3 507.06,166.9 512.27,169.5 517.71,172.07 523.28,174.58 528.85,177 534.3,179.3 539.66,181.48 545.03,183.55 550.39,185.53 555.76,187.44 561.13,189.29 566.5,191.1 571.99,192.88 577.63,194.61 583.28,196.29 588.77,197.89 593.96,199.4 598.7,200.8 603.14,202.13 607.43,203.41 611.41,204.61 614.95,205.66 617.9,206.54 620.1,207.2" fill="none" stroke="#e8141b" stroke-width="1.6"/></g><defs><clipPath id="clipB"><rect x="52.45" y="349.5" width="688.05" height="105.6"/></clipPath></defs><g clip-path="url(#clipB)"><path d="M465.9 414.1V427.5M467.1 411.69V423.71M468.9 421.44V441.76M471.9 419.37V436.63M474.9 425.87V439.73M477.9 428.22V444.58M479.7 430.74V451.86M480.9 429.91V444.09M482 430.14V447.86M484.6 435.21V448.59M487 435.6V449.4M490.6 433.25V452.95M491.8 429.94V449.06M493 437.02V450.98M495.4 437.3V450.1M497.2 429.96V442.84M498.4 424.36V442.44M501.4 427.92V444.88M502.1 418.83V433.57M503.9 430.67V444.73M505.1 425.54V443.66M506.9 416.06V435.14M508.7 420.94V441.06M509.9 416.09V433.91M517.7 406.89V414.11M518.9 394.6V401M520.1 397.5V407.9M523.2 388.78V397.22M526.2 391.44V401.76M529.2 400.73V407.07M530.4 396.07V406.93M531.6 393.19V401.21M535.2 394.17V405.23M537 388.61V399.79M530.61 388.9V399.14M532.52 393.19V399.75M533.7 389.49V398.95M533.85 392.38V402.42M535.38 388.86V395.03M536.63 390.63V397.74M537.28 386V399.76M539.24 386.22V398.43M540.04 387.63V401.12M542.46 390.55V401.62M542.98 389.42V401.9M544.39 390.06V403.14M545.19 391.57V404.64M547.93 392.98V399.25M548.53 391.45V402.59M549.88 390.04V398.17M551.69 390.71V402.13M551.35 392.63V400.81M552.37 397.7V408.04M552.94 392.27V405.67M554.92 395.32V406.29M554.74 400.78V408.78M556.55 400.31V410.47M557.67 398.86V408.33M558.85 402.24V415.85M558.45 401.88V410.18M560.06 405.61V414.05M560.61 402.76V413.94M561.7 406.14V413.1M562.88 410.48V421.24M563.05 408.18V421.83M564.9 408.26V418.37M565.91 415.83V423.97M566.1 412.58V422.31M567.9 412.66V422.93M568.33 416.19V423.37M570.08 411.14V418.14M570.36 410.17V417.22M571.81 413.12V421.47M572.82 410.87V420.12M573.01 409.43V417.74M571.97 405.84V413.79M573.59 407.93V414.63M572.63 401.05V411.42M573.42 398.02V410.74M581.98 406.47V413.23M583.06 402.48V413.7M584.17 407.09V413.11M584.92 406.17V416.76M585.8 405.35V414.86M586.45 405.53V414.52M587.9 405.56V417.34M589.02 404.96V414.39M589.66 410.98V419.48M590.49 408.5V419.2M591.91 407.06V418.29M593.65 408.49V418.14M594.24 408.94V417.22M594.06 413.59V422.3M595.59 409.3V418.05M596.45 411.36V421.7M597.95 411.26V419.02M598.07 416.65V425M599.83 411.92V421.25M600.19 414.06V422.36M601.82 416.06V423.99M603.18 416.12V426.85M603.73 415.67V426.77M605.18 417.08V426.08M605.83 417.63V426.29M607.29 419.42V426.53M616.31 414.77V426.6M619 417.17V429.92M620.47 418.98V432.91M623.1 419.57V432.79M626.24 421.19V431.14M627.53 419V427.09M630.35 414.95V423.98M630.53 415.04V425.62M632.81 414.97V425.5M634.92 415.5V423.82M636.96 417.11V425.38M637.55 416.12V427.53M638.4 412.5V423.72M639.78 411.22V420.69M642.05 408.88V422.83M643.08 405.7V417.15M644.22 407.31V414.6M645.73 404.8V414.68M647.46 403.32V415.83M648.24 400.59V409.74M650.16 400.25V412.08M651.41 398.75V405.78M653.78 394.23V403.37M654.36 394.29V407.19M656.55 391.01V402.12M656.79 390.62V402.3M665.69 393.85V401.16M667.81 390.57V404.09M669.5 393.25V406.23M671.61 396.4V405.6M672.27 391.81V405.1M673.47 394.5V407.21M675.01 391.94V401.07M676.73 392.17V403.39M679.39 390.47V404.19M680.83 389.87V400.34M680.98 393.17V406.82M682.9 396.56V405.26M684.36 394.41V404.14M685.87 392.05V404.08M688.55 395.44V403.99M689.31 393.59V402.75M689.99 390.66V403.79M691.03 396.62V407.01M691.38 396.64V409.19M691.07 399.42V408.13M697.84 400.78V409.26M699.18 402.05V415.16M700.67 403.76V411.61M701.71 403.15V413.74M703.46 403.36V414.16M704.27 403.97V412.86M706.81 404.1V416.5M707.22 405.62V415.31M708.63 405.7V417.31M709.58 408.73V419.71M711.43 408.23V417.41M713.36 408.52V418.25M714.02 413.68V421.29M715.11 412.52V420.76M717.42 412.83V425.79M717.5 413.77V423.02M719.58 413.76V425.4M721.12 416.03V423.8M722.28 416.83V427.76M722.3 418.38V427.91M723.31 420.09V430.59M724.69 422.73V431.8M726.38 422.27V429.73M727.01 423.55V432.73" stroke="#c8c8c8" stroke-width="1" fill="none"/><g fill="#7c7c7c"><circle cx="465.9" cy="420.8" r="1.5"/><circle cx="467.1" cy="417.7" r="1.5"/><circle cx="468.9" cy="431.6" r="1.5"/><circle cx="471.9" cy="428" r="1.5"/><circle cx="474.9" cy="432.8" r="1.5"/><circle cx="477.9" cy="436.4" r="1.5"/><circle cx="479.7" cy="441.3" r="1.5"/><circle cx="480.9" cy="437" r="1.5"/><circle cx="482" cy="439" r="1.5"/><circle cx="484.6" cy="441.9" r="1.5"/><circle cx="487" cy="442.5" r="1.5"/><circle cx="490.6" cy="443.1" r="1.5"/><circle cx="491.8" cy="439.5" r="1.5"/><circle cx="493" cy="444" r="1.5"/><circle cx="495.4" cy="443.7" r="1.5"/><circle cx="497.2" cy="436.4" r="1.5"/><circle cx="498.4" cy="433.4" r="1.5"/><circle cx="501.4" cy="436.4" r="1.5"/><circle cx="502.1" cy="426.2" r="1.5"/><circle cx="503.9" cy="437.7" r="1.5"/><circle cx="505.1" cy="434.6" r="1.5"/><circle cx="506.9" cy="425.6" r="1.5"/><circle cx="508.7" cy="431" r="1.5"/><circle cx="509.9" cy="425" r="1.5"/><circle cx="517.7" cy="410.5" r="1.5"/><circle cx="518.9" cy="397.8" r="1.5"/><circle cx="520.1" cy="402.7" r="1.5"/><circle cx="523.2" cy="393" r="1.5"/><circle cx="526.2" cy="396.6" r="1.5"/><circle cx="529.2" cy="403.9" r="1.5"/><circle cx="530.4" cy="401.5" r="1.5"/><circle cx="531.6" cy="397.2" r="1.5"/><circle cx="535.2" cy="399.7" r="1.5"/><circle cx="537" cy="394.2" r="1.5"/><circle cx="530.61" cy="394.02" r="1.5"/><circle cx="532.52" cy="396.47" r="1.5"/><circle cx="533.7" cy="394.22" r="1.5"/><circle cx="533.85" cy="397.4" r="1.5"/><circle cx="535.38" cy="391.94" r="1.5"/><circle cx="536.63" cy="394.18" r="1.5"/><circle cx="537.28" cy="392.88" r="1.5"/><circle cx="539.24" cy="392.33" r="1.5"/><circle cx="540.04" cy="394.37" r="1.5"/><circle cx="542.46" cy="396.09" r="1.5"/><circle cx="542.98" cy="395.66" r="1.5"/><circle cx="544.39" cy="396.6" r="1.5"/><circle cx="545.19" cy="398.1" r="1.5"/><circle cx="547.93" cy="396.11" r="1.5"/><circle cx="548.53" cy="397.02" r="1.5"/><circle cx="549.88" cy="394.11" r="1.5"/><circle cx="551.69" cy="396.42" r="1.5"/><circle cx="551.35" cy="396.72" r="1.5"/><circle cx="552.37" cy="402.87" r="1.5"/><circle cx="552.94" cy="398.97" r="1.5"/><circle cx="554.92" cy="400.8" r="1.5"/><circle cx="554.74" cy="404.78" r="1.5"/><circle cx="556.55" cy="405.39" r="1.5"/><circle cx="557.67" cy="403.6" r="1.5"/><circle cx="558.85" cy="409.04" r="1.5"/><circle cx="558.45" cy="406.03" r="1.5"/><circle cx="560.06" cy="409.83" r="1.5"/><circle cx="560.61" cy="408.35" r="1.5"/><circle cx="561.7" cy="409.62" r="1.5"/><circle cx="562.88" cy="415.86" r="1.5"/><circle cx="563.05" cy="415.01" r="1.5"/><circle cx="564.9" cy="413.32" r="1.5"/><circle cx="565.91" cy="419.9" r="1.5"/><circle cx="566.1" cy="417.45" r="1.5"/><circle cx="567.9" cy="417.79" r="1.5"/><circle cx="568.33" cy="419.78" r="1.5"/><circle cx="570.08" cy="414.64" r="1.5"/><circle cx="570.36" cy="413.7" r="1.5"/><circle cx="571.81" cy="417.3" r="1.5"/><circle cx="572.82" cy="415.5" r="1.5"/><circle cx="573.01" cy="413.58" r="1.5"/><circle cx="571.97" cy="409.82" r="1.5"/><circle cx="573.59" cy="411.28" r="1.5"/><circle cx="572.63" cy="406.24" r="1.5"/><circle cx="573.42" cy="404.38" r="1.5"/><circle cx="581.98" cy="409.85" r="1.5"/><circle cx="583.06" cy="408.09" r="1.5"/><circle cx="584.17" cy="410.1" r="1.5"/><circle cx="584.92" cy="411.47" r="1.5"/><circle cx="585.8" cy="410.11" r="1.5"/><circle cx="586.45" cy="410.03" r="1.5"/><circle cx="587.9" cy="411.45" r="1.5"/><circle cx="589.02" cy="409.68" r="1.5"/><circle cx="589.66" cy="415.23" r="1.5"/><circle cx="590.49" cy="413.85" r="1.5"/><circle cx="591.91" cy="412.67" r="1.5"/><circle cx="593.65" cy="413.32" r="1.5"/><circle cx="594.24" cy="413.08" r="1.5"/><circle cx="594.06" cy="417.95" r="1.5"/><circle cx="595.59" cy="413.68" r="1.5"/><circle cx="596.45" cy="416.53" r="1.5"/><circle cx="597.95" cy="415.14" r="1.5"/><circle cx="598.07" cy="420.82" r="1.5"/><circle cx="599.83" cy="416.58" r="1.5"/><circle cx="600.19" cy="418.21" r="1.5"/><circle cx="601.82" cy="420.03" r="1.5"/><circle cx="603.18" cy="421.49" r="1.5"/><circle cx="603.73" cy="421.22" r="1.5"/><circle cx="605.18" cy="421.58" r="1.5"/><circle cx="605.83" cy="421.96" r="1.5"/><circle cx="607.29" cy="422.97" r="1.5"/><circle cx="616.31" cy="420.68" r="1.5"/><circle cx="619" cy="423.55" r="1.5"/><circle cx="620.47" cy="425.94" r="1.5"/><circle cx="623.1" cy="426.18" r="1.5"/><circle cx="626.24" cy="426.17" r="1.5"/><circle cx="627.53" cy="423.04" r="1.5"/><circle cx="630.35" cy="419.46" r="1.5"/><circle cx="630.53" cy="420.33" r="1.5"/><circle cx="632.81" cy="420.24" r="1.5"/><circle cx="634.92" cy="419.66" r="1.5"/><circle cx="636.96" cy="421.24" r="1.5"/><circle cx="637.55" cy="421.82" r="1.5"/><circle cx="638.4" cy="418.11" r="1.5"/><circle cx="639.78" cy="415.95" r="1.5"/><circle cx="642.05" cy="415.86" r="1.5"/><circle cx="643.08" cy="411.42" r="1.5"/><circle cx="644.22" cy="410.96" r="1.5"/><circle cx="645.73" cy="409.74" r="1.5"/><circle cx="647.46" cy="409.58" r="1.5"/><circle cx="648.24" cy="405.16" r="1.5"/><circle cx="650.16" cy="406.17" r="1.5"/><circle cx="651.41" cy="402.26" r="1.5"/><circle cx="653.78" cy="398.8" r="1.5"/><circle cx="654.36" cy="400.74" r="1.5"/><circle cx="656.55" cy="396.57" r="1.5"/><circle cx="656.79" cy="396.46" r="1.5"/><circle cx="665.69" cy="397.5" r="1.5"/><circle cx="667.81" cy="397.33" r="1.5"/><circle cx="669.5" cy="399.74" r="1.5"/><circle cx="671.61" cy="401" r="1.5"/><circle cx="672.27" cy="398.46" r="1.5"/><circle cx="673.47" cy="400.85" r="1.5"/><circle cx="675.01" cy="396.51" r="1.5"/><circle cx="676.73" cy="397.78" r="1.5"/><circle cx="679.39" cy="397.33" r="1.5"/><circle cx="680.83" cy="395.11" r="1.5"/><circle cx="680.98" cy="400" r="1.5"/><circle cx="682.9" cy="400.91" r="1.5"/><circle cx="684.36" cy="399.28" r="1.5"/><circle cx="685.87" cy="398.06" r="1.5"/><circle cx="688.55" cy="399.72" r="1.5"/><circle cx="689.31" cy="398.17" r="1.5"/><circle cx="689.99" cy="397.23" r="1.5"/><circle cx="691.03" cy="401.82" r="1.5"/><circle cx="691.38" cy="402.92" r="1.5"/><circle cx="691.07" cy="403.77" r="1.5"/><circle cx="697.84" cy="405.02" r="1.5"/><circle cx="699.18" cy="408.6" r="1.5"/><circle cx="700.67" cy="407.68" r="1.5"/><circle cx="701.71" cy="408.45" r="1.5"/><circle cx="703.46" cy="408.76" r="1.5"/><circle cx="704.27" cy="408.41" r="1.5"/><circle cx="706.81" cy="410.3" r="1.5"/><circle cx="707.22" cy="410.47" r="1.5"/><circle cx="708.63" cy="411.5" r="1.5"/><circle cx="709.58" cy="414.22" r="1.5"/><circle cx="711.43" cy="412.82" r="1.5"/><circle cx="713.36" cy="413.38" r="1.5"/><circle cx="714.02" cy="417.48" r="1.5"/><circle cx="715.11" cy="416.64" r="1.5"/><circle cx="717.42" cy="419.31" r="1.5"/><circle cx="717.5" cy="418.4" r="1.5"/><circle cx="719.58" cy="419.58" r="1.5"/><circle cx="721.12" cy="419.91" r="1.5"/><circle cx="722.28" cy="422.3" r="1.5"/><circle cx="722.3" cy="423.14" r="1.5"/><circle cx="723.31" cy="425.34" r="1.5"/><circle cx="724.69" cy="427.27" r="1.5"/><circle cx="726.38" cy="426" r="1.5"/><circle cx="727.01" cy="428.14" r="1.5"/></g><polyline points="64,383 64.5,376 66.5,380 68,374 69.5,379" fill="none" stroke="#000" stroke-width="1.8" stroke-linecap="round" stroke-linejoin="round"/><g fill="#000"><circle cx="64.42" cy="373.02" r="0.85"/><circle cx="68.59" cy="375.52" r="0.85"/><circle cx="65.93" cy="385.54" r="0.85"/><circle cx="69.09" cy="385.12" r="0.85"/><circle cx="69.82" cy="373.11" r="0.85"/><circle cx="64.85" cy="371.47" r="0.85"/><circle cx="68.28" cy="381.62" r="0.85"/><circle cx="65.49" cy="377.6" r="0.85"/><circle cx="68.1" cy="382.19" r="0.85"/><circle cx="64.61" cy="384.55" r="0.85"/><circle cx="65.49" cy="381.06" r="0.85"/><circle cx="64.04" cy="372.84" r="0.85"/><circle cx="70.26" cy="382.74" r="0.85"/><circle cx="68.56" cy="371.65" r="0.85"/><circle cx="62.84" cy="373.59" r="0.85"/><circle cx="64.18" cy="375.85" r="0.85"/><circle cx="65.74" cy="371.63" r="0.85"/><circle cx="65.14" cy="381.21" r="0.85"/><circle cx="64.03" cy="384.43" r="0.85"/><circle cx="67.35" cy="382.47" r="0.85"/><circle cx="64.67" cy="377.96" r="0.85"/><circle cx="68.32" cy="376.58" r="0.85"/><circle cx="62.51" cy="384.35" r="0.85"/><circle cx="69.1" cy="375.58" r="0.85"/><circle cx="62.87" cy="384.67" r="0.85"/><circle cx="67.66" cy="371.76" r="0.85"/><circle cx="64.58" cy="372.78" r="0.85"/><circle cx="69.23" cy="374.36" r="0.85"/><circle cx="70.27" cy="382.99" r="0.85"/><circle cx="63.23" cy="382.11" r="0.85"/><circle cx="65.85" cy="382.96" r="0.85"/><circle cx="69.54" cy="375.5" r="0.85"/><circle cx="63.26" cy="386.14" r="0.85"/><circle cx="66.1" cy="385.88" r="0.85"/></g><polyline points="73.8,363.4 74.2,370 74.7,374.7" fill="none" stroke="#000" stroke-width="2.4" stroke-linecap="round" stroke-linejoin="round"/><polyline points="77,360.6 79,364 81.3,369.1" fill="none" stroke="#000" stroke-width="3.4" stroke-linecap="round" stroke-linejoin="round"/><polyline points="95.3,379.4 98,375 102.8,369.1" fill="none" stroke="#000" stroke-width="3.3" stroke-linecap="round" stroke-linejoin="round"/><polyline points="106.1,369.1 109,372.5 112.7,377" fill="none" stroke="#000" stroke-width="3.3" stroke-linecap="round" stroke-linejoin="round"/><polyline points="140.9,374.8 143.5,376.5 145.8,379.5 146.8,383.5" fill="none" stroke="#000" stroke-width="3.7" stroke-linecap="round" stroke-linejoin="round"/><polyline points="161.8,369.5 165,370.5 167.8,374.6" fill="none" stroke="#000" stroke-width="4.3" stroke-linecap="round" stroke-linejoin="round"/><polyline points="170.8,370.5 174,375 176.5,380" fill="none" stroke="#000" stroke-width="3.5" stroke-linecap="round" stroke-linejoin="round"/><polyline points="176.5,380 178.5,385 178.8,389" fill="none" stroke="#000" stroke-width="2.2" stroke-linecap="round" stroke-linejoin="round"/><g fill="#000"><circle cx="176.92" cy="387.08" r="0.9"/><circle cx="178.3" cy="385.42" r="0.9"/><circle cx="174.53" cy="376.81" r="0.9"/><circle cx="176.98" cy="382.43" r="0.9"/><circle cx="175.12" cy="389.92" r="0.9"/><circle cx="171.28" cy="387.43" r="0.9"/><circle cx="170.44" cy="386.54" r="0.9"/><circle cx="178.06" cy="379.92" r="0.9"/><circle cx="175.46" cy="390.54" r="0.9"/><circle cx="176.38" cy="384.16" r="0.9"/><circle cx="172.5" cy="376.89" r="0.9"/><circle cx="173.58" cy="382.17" r="0.9"/></g><polyline points="193.5,378.5 197,378 201.5,378" fill="none" stroke="#000" stroke-width="4.3" stroke-linecap="round" stroke-linejoin="round"/><polyline points="204,381 207.5,384.5 211,388" fill="none" stroke="#000" stroke-width="3.9" stroke-linecap="round" stroke-linejoin="round"/><g fill="#000"><circle cx="205.61" cy="386.11" r="0.9"/><circle cx="205.09" cy="390.07" r="0.9"/><circle cx="209.36" cy="385.38" r="0.9"/><circle cx="205.93" cy="388.15" r="0.9"/><circle cx="207.56" cy="392.36" r="0.9"/><circle cx="206.81" cy="385.99" r="0.9"/><circle cx="211.08" cy="384.42" r="0.9"/><circle cx="208.51" cy="386.34" r="0.9"/><circle cx="210.52" cy="388.48" r="0.9"/><circle cx="210.08" cy="384.69" r="0.9"/></g><polyline points="228.8,395.5 228.5,392 231.5,390 234.2,388.6" fill="none" stroke="#000" stroke-width="3.3" stroke-linecap="round" stroke-linejoin="round"/><polyline points="248,401 251.5,403 255,401 259.2,400.6" fill="none" stroke="#000" stroke-width="3.3" stroke-linecap="round" stroke-linejoin="round"/><polyline points="265.3,403 270.5,408.9 272.3,413 276.9,420" fill="none" stroke="#000" stroke-width="3.4" stroke-linecap="round" stroke-linejoin="round"/><polyline points="290.2,426.5 293.3,423.6 297.9,419.6" fill="none" stroke="#000" stroke-width="3.3" stroke-linecap="round" stroke-linejoin="round"/><polyline points="313.6,397.6 317.2,398.2 321.9,398.5 324.9,397 327,396 332.6,397" fill="none" stroke="#000" stroke-width="3.2" stroke-linecap="round" stroke-linejoin="round"/><polyline points="341.3,388 344.5,387.6 347.8,386.7" fill="none" stroke="#000" stroke-width="3.3" stroke-linecap="round" stroke-linejoin="round"/><polyline points="350.5,386.9 354.5,387.5 359.2,390.2" fill="none" stroke="#000" stroke-width="3.3" stroke-linecap="round" stroke-linejoin="round"/><polyline points="373.8,383.7 376.8,388.5 381.4,391.2" fill="none" stroke="#000" stroke-width="3.3" stroke-linecap="round" stroke-linejoin="round"/><polyline points="394.7,380.5 398,376.6 401.3,372.7 404.3,375.1" fill="none" stroke="#000" stroke-width="3.3" stroke-linecap="round" stroke-linejoin="round"/><polyline points="407.5,378 411.3,381.8" fill="none" stroke="#000" stroke-width="3.7" stroke-linecap="round" stroke-linejoin="round"/><polyline points="408,381.5 411,378.2" fill="none" stroke="#000" stroke-width="2.5" stroke-linecap="round" stroke-linejoin="round"/><polyline points="416,380.4 419,380.3 422.2,382" fill="none" stroke="#000" stroke-width="3.7" stroke-linecap="round" stroke-linejoin="round"/><polyline points="431,386 436,390 440.5,393.5" fill="none" stroke="#000" stroke-width="3.9" stroke-linecap="round" stroke-linejoin="round"/><polyline points="442.5,394.5 446,398 449.8,402.4" fill="none" stroke="#000" stroke-width="3.9" stroke-linecap="round" stroke-linejoin="round"/><polyline points="464.6,401.3 467,405.5 469.6,410.8" fill="none" stroke="#000" stroke-width="3.3" stroke-linecap="round" stroke-linejoin="round"/><polyline points="472.7,416 475,420 478,422.3 482.2,425" fill="none" stroke="#000" stroke-width="3.3" stroke-linecap="round" stroke-linejoin="round"/><polyline points="492,428.4 495,426 497.6,424" fill="none" stroke="#000" stroke-width="3.2" stroke-linecap="round" stroke-linejoin="round"/><polyline points="501.6,421.8 504,419 506,416 508.3,412 510.4,408.3" fill="none" stroke="#000" stroke-width="3.2" stroke-linecap="round" stroke-linejoin="round"/><polyline points="535.5,393.4 539,395.5 542,397" fill="none" stroke="#000" stroke-width="3.2" stroke-linecap="round" stroke-linejoin="round"/><polyline points="551.5,403.5 556,407.5 560,411.5" fill="none" stroke="#000" stroke-width="2.4" stroke-linecap="round" stroke-linejoin="round"/><g fill="#000"><circle cx="551.12" cy="402.95" r="1.05"/><circle cx="550.74" cy="404.09" r="1.05"/><circle cx="552.09" cy="400.63" r="1.05"/><circle cx="550.71" cy="402.21" r="1.05"/><circle cx="550.7" cy="400.73" r="1.05"/><circle cx="551.16" cy="401.69" r="1.05"/><circle cx="552.67" cy="403.29" r="1.05"/><circle cx="551.14" cy="402.8" r="1.05"/><circle cx="552.45" cy="403.21" r="1.05"/><circle cx="551.79" cy="401.78" r="1.05"/><circle cx="551.55" cy="407.13" r="1.05"/><circle cx="554.01" cy="402.24" r="1.05"/><circle cx="554.15" cy="407.46" r="1.05"/><circle cx="553.93" cy="402.78" r="1.05"/><circle cx="553.95" cy="404.8" r="1.05"/><circle cx="553.29" cy="405.6" r="1.05"/><circle cx="552.99" cy="407.91" r="1.05"/><circle cx="555.14" cy="406.47" r="1.05"/><circle cx="556.25" cy="406.81" r="1.05"/><circle cx="554.41" cy="404.76" r="1.05"/><circle cx="554.27" cy="403.78" r="1.05"/><circle cx="556.37" cy="408.56" r="1.05"/><circle cx="555.14" cy="405.14" r="1.05"/><circle cx="556.36" cy="409.07" r="1.05"/><circle cx="557.43" cy="405.52" r="1.05"/><circle cx="557.2" cy="409.46" r="1.05"/><circle cx="557.28" cy="406.88" r="1.05"/><circle cx="555.8" cy="409.91" r="1.05"/><circle cx="556.41" cy="407.59" r="1.05"/><circle cx="557.3" cy="407.84" r="1.05"/><circle cx="558.34" cy="407.35" r="1.05"/><circle cx="556.17" cy="409.42" r="1.05"/><circle cx="558.13" cy="411.07" r="1.05"/><circle cx="558.56" cy="411.79" r="1.05"/><circle cx="559.48" cy="409.73" r="1.05"/><circle cx="558.34" cy="408.08" r="1.05"/><circle cx="557.94" cy="410.69" r="1.05"/><circle cx="557.48" cy="411.53" r="1.05"/><circle cx="557.93" cy="410.4" r="1.05"/><circle cx="560.55" cy="408.66" r="1.05"/><circle cx="557.96" cy="410.85" r="1.05"/><circle cx="558.61" cy="412.68" r="1.05"/><circle cx="558.28" cy="413.55" r="1.05"/><circle cx="561.08" cy="413.44" r="1.05"/><circle cx="560.03" cy="410.82" r="1.05"/><circle cx="560.97" cy="412.32" r="1.05"/><circle cx="560.49" cy="411.53" r="1.05"/><circle cx="560.78" cy="413.56" r="1.05"/><circle cx="562.19" cy="415.09" r="1.05"/><circle cx="560.44" cy="411.88" r="1.05"/><circle cx="561.52" cy="413.58" r="1.05"/><circle cx="561.47" cy="411.72" r="1.05"/><circle cx="560.92" cy="412.63" r="1.05"/><circle cx="562.29" cy="416.46" r="1.05"/><circle cx="563.87" cy="416.06" r="1.05"/><circle cx="564.31" cy="416.8" r="1.05"/><circle cx="563.49" cy="416.16" r="1.05"/><circle cx="562.05" cy="415.6" r="1.05"/><circle cx="563.93" cy="413.67" r="1.05"/><circle cx="564.06" cy="417.54" r="1.05"/><circle cx="564.03" cy="416.03" r="1.05"/><circle cx="563.72" cy="414.53" r="1.05"/><circle cx="565.72" cy="412.96" r="1.05"/><circle cx="563.87" cy="416.8" r="1.05"/><circle cx="564.89" cy="413.67" r="1.05"/><circle cx="565.76" cy="415.48" r="1.05"/><circle cx="565.77" cy="415.92" r="1.05"/><circle cx="565.85" cy="416.95" r="1.05"/><circle cx="565.69" cy="414.63" r="1.05"/><circle cx="565.28" cy="419.17" r="1.05"/><circle cx="566.63" cy="415.01" r="1.05"/><circle cx="567.86" cy="415.75" r="1.05"/><circle cx="565.86" cy="417.22" r="1.05"/><circle cx="566.63" cy="416.91" r="1.05"/><circle cx="567.84" cy="415.35" r="1.05"/><circle cx="568.2" cy="414.64" r="1.05"/><circle cx="568.32" cy="417.22" r="1.05"/><circle cx="567.32" cy="416.13" r="1.05"/><circle cx="567.6" cy="416.23" r="1.05"/><circle cx="570.27" cy="416.77" r="1.05"/><circle cx="570.13" cy="417.84" r="1.05"/><circle cx="568.63" cy="419.07" r="1.05"/><circle cx="570.75" cy="414.02" r="1.05"/><circle cx="571.37" cy="415.56" r="1.05"/><circle cx="569.7" cy="418.66" r="1.05"/><circle cx="571.17" cy="417.54" r="1.05"/><circle cx="570.04" cy="417.28" r="1.05"/><circle cx="569.94" cy="413.98" r="1.05"/><circle cx="571.03" cy="412.46" r="1.05"/><circle cx="571.83" cy="413.3" r="1.05"/><circle cx="571.09" cy="415.79" r="1.05"/><circle cx="571.61" cy="416.52" r="1.05"/><circle cx="572.33" cy="416.15" r="1.05"/><circle cx="572.29" cy="416.13" r="1.05"/><circle cx="573.36" cy="411.65" r="1.05"/><circle cx="573.12" cy="412.34" r="1.05"/><circle cx="573.31" cy="413.97" r="1.05"/><circle cx="573.64" cy="410.56" r="1.05"/><circle cx="572.42" cy="413.73" r="1.05"/><circle cx="574.28" cy="413.36" r="1.05"/><circle cx="571.71" cy="412.42" r="1.05"/><circle cx="572.02" cy="411.84" r="1.05"/><circle cx="574.27" cy="409.12" r="1.05"/><circle cx="574.77" cy="411.99" r="1.05"/><circle cx="572.9" cy="409.01" r="1.05"/><circle cx="573.61" cy="412.35" r="1.05"/><circle cx="574.16" cy="408.01" r="1.05"/><circle cx="572.62" cy="407.71" r="1.05"/><circle cx="575.09" cy="407.85" r="1.05"/><circle cx="574.49" cy="408.16" r="1.05"/></g><g fill="#000"><circle cx="569.62" cy="417.43" r="0.95"/><circle cx="562.02" cy="421.88" r="0.95"/><circle cx="567.54" cy="420.21" r="0.95"/><circle cx="571.31" cy="422.54" r="0.95"/><circle cx="560.19" cy="417.08" r="0.95"/><circle cx="562.11" cy="418.52" r="0.95"/><circle cx="572.22" cy="421.2" r="0.95"/><circle cx="560.5" cy="415.64" r="0.95"/><circle cx="571.46" cy="420.12" r="0.95"/><circle cx="565.5" cy="418.28" r="0.95"/></g><polyline points="582,413 587,415.5 591.5,417.2" fill="none" stroke="#000" stroke-width="3.4" stroke-linecap="round" stroke-linejoin="round"/><g fill="#000"><circle cx="583.22" cy="420.14" r="0.95"/><circle cx="586.51" cy="420.48" r="0.95"/><circle cx="589.55" cy="410.91" r="0.95"/><circle cx="585.61" cy="412.6" r="0.95"/><circle cx="593.52" cy="417.07" r="0.95"/><circle cx="581.61" cy="412.04" r="0.95"/><circle cx="586.05" cy="415.61" r="0.95"/><circle cx="589.08" cy="414.65" r="0.95"/><circle cx="585.95" cy="410.07" r="0.95"/><circle cx="589.11" cy="414.01" r="0.95"/><circle cx="581.29" cy="415.51" r="0.95"/><circle cx="594.81" cy="410.54" r="0.95"/><circle cx="583.04" cy="418.05" r="0.95"/><circle cx="584.82" cy="413.28" r="0.95"/></g><polyline points="599,421 603,425.5 607,429.5" fill="none" stroke="#000" stroke-width="3" stroke-linecap="round" stroke-linejoin="round"/><g fill="#000"><circle cx="603.5" cy="421.93" r="1"/><circle cx="604.26" cy="425.92" r="1"/><circle cx="608.53" cy="432.88" r="1"/><circle cx="598.38" cy="426.41" r="1"/><circle cx="606.48" cy="431.09" r="1"/><circle cx="606.52" cy="427.5" r="1"/><circle cx="604.98" cy="423.44" r="1"/><circle cx="601.1" cy="429.93" r="1"/><circle cx="607.6" cy="432.08" r="1"/><circle cx="605.49" cy="422.56" r="1"/><circle cx="606.4" cy="429.09" r="1"/><circle cx="603.6" cy="427.53" r="1"/><circle cx="601.85" cy="426.26" r="1"/><circle cx="602.47" cy="418.91" r="1"/><circle cx="601.71" cy="422.85" r="1"/><circle cx="608.87" cy="425.22" r="1"/><circle cx="602.04" cy="421.65" r="1"/><circle cx="600.58" cy="423.24" r="1"/></g><g fill="#000"><circle cx="621.82" cy="435.92" r="1.05"/><circle cx="624.19" cy="431.4" r="1.05"/><circle cx="617.38" cy="437.48" r="1.05"/><circle cx="620.73" cy="438.59" r="1.05"/><circle cx="624.41" cy="437.22" r="1.05"/><circle cx="619.72" cy="441.92" r="1.05"/><circle cx="616.17" cy="432.89" r="1.05"/><circle cx="618.5" cy="442.03" r="1.05"/><circle cx="620.08" cy="434.24" r="1.05"/><circle cx="623.41" cy="441.03" r="1.05"/><circle cx="624.95" cy="435.01" r="1.05"/><circle cx="622.08" cy="430.1" r="1.05"/><circle cx="622.52" cy="433.83" r="1.05"/><circle cx="616.03" cy="436.16" r="1.05"/><circle cx="621.02" cy="439.51" r="1.05"/><circle cx="623.83" cy="435.88" r="1.05"/><circle cx="620.95" cy="442.24" r="1.05"/><circle cx="622.23" cy="440.48" r="1.05"/><circle cx="622.88" cy="441.46" r="1.05"/><circle cx="624.57" cy="430.42" r="1.05"/><circle cx="623.13" cy="442.03" r="1.05"/><circle cx="625.88" cy="433.94" r="1.05"/><circle cx="626.08" cy="438.93" r="1.05"/><circle cx="623.9" cy="432.02" r="1.05"/><circle cx="623.14" cy="438.09" r="1.05"/><circle cx="616.22" cy="433.64" r="1.05"/><circle cx="617.95" cy="429.33" r="1.05"/><circle cx="622.28" cy="439.96" r="1.05"/><circle cx="621.48" cy="428.79" r="1.05"/><circle cx="617.54" cy="439.19" r="1.05"/><circle cx="620.77" cy="437.07" r="1.05"/><circle cx="620.44" cy="436.3" r="1.05"/><circle cx="619.15" cy="432.02" r="1.05"/><circle cx="617.02" cy="435.62" r="1.05"/><circle cx="621.33" cy="440.98" r="1.05"/><circle cx="627.06" cy="436.07" r="1.05"/><circle cx="616.2" cy="432.2" r="1.05"/><circle cx="625.77" cy="437.62" r="1.05"/><circle cx="620.96" cy="430.76" r="1.05"/><circle cx="623.41" cy="437.2" r="1.05"/><circle cx="624.67" cy="441.01" r="1.05"/><circle cx="625.92" cy="439.36" r="1.05"/><circle cx="617.73" cy="438.19" r="1.05"/><circle cx="617.83" cy="432.18" r="1.05"/><circle cx="619.03" cy="430.09" r="1.05"/><circle cx="619.07" cy="441.57" r="1.05"/><circle cx="621.26" cy="442.31" r="1.05"/><circle cx="621.93" cy="428.2" r="1.05"/><circle cx="619.65" cy="442.11" r="1.05"/><circle cx="625.37" cy="434.62" r="1.05"/><circle cx="620.76" cy="441.24" r="1.05"/><circle cx="623.46" cy="434.32" r="1.05"/><circle cx="625.49" cy="435.72" r="1.05"/><circle cx="618.64" cy="429.42" r="1.05"/><circle cx="617.75" cy="441.6" r="1.05"/><circle cx="622.19" cy="442.47" r="1.05"/><circle cx="622.32" cy="436.13" r="1.05"/><circle cx="622.45" cy="436.9" r="1.05"/><circle cx="617.18" cy="435.33" r="1.05"/><circle cx="623.84" cy="442.63" r="1.05"/><circle cx="620.01" cy="437.77" r="1.05"/><circle cx="623.69" cy="441.72" r="1.05"/><circle cx="623.56" cy="433.84" r="1.05"/><circle cx="626.53" cy="436.71" r="1.05"/><circle cx="621.77" cy="443.52" r="1.05"/><circle cx="616.87" cy="435.44" r="1.05"/><circle cx="618.6" cy="441.49" r="1.05"/><circle cx="618.3" cy="436.56" r="1.05"/><circle cx="623.06" cy="433.87" r="1.05"/><circle cx="621.35" cy="433.31" r="1.05"/><circle cx="619.25" cy="431.28" r="1.05"/><circle cx="622.43" cy="433.89" r="1.05"/><circle cx="618.08" cy="433.34" r="1.05"/><circle cx="626.43" cy="431.52" r="1.05"/><circle cx="619.58" cy="432.62" r="1.05"/></g><polyline points="619.5,431 623,439" fill="none" stroke="#000" stroke-width="2.6" stroke-linecap="round" stroke-linejoin="round"/><g fill="#000"><circle cx="634.07" cy="436.68" r="1.05"/><circle cx="631.99" cy="434.64" r="1.05"/><circle cx="635.31" cy="438.74" r="1.05"/><circle cx="632.46" cy="430.67" r="1.05"/><circle cx="636.33" cy="433.29" r="1.05"/><circle cx="632.38" cy="432.33" r="1.05"/><circle cx="637.02" cy="428.88" r="1.05"/><circle cx="633.65" cy="438.92" r="1.05"/><circle cx="635.23" cy="430.35" r="1.05"/><circle cx="632.46" cy="437.29" r="1.05"/><circle cx="635.59" cy="431.77" r="1.05"/><circle cx="632.58" cy="428.89" r="1.05"/><circle cx="630.6" cy="434.82" r="1.05"/><circle cx="635.73" cy="431.43" r="1.05"/><circle cx="636.24" cy="430.83" r="1.05"/><circle cx="634.93" cy="427.56" r="1.05"/><circle cx="635.94" cy="438.82" r="1.05"/><circle cx="636.72" cy="433.29" r="1.05"/><circle cx="635.68" cy="433.73" r="1.05"/><circle cx="634.56" cy="433.3" r="1.05"/><circle cx="635.68" cy="432.09" r="1.05"/><circle cx="633.97" cy="431.41" r="1.05"/><circle cx="636.04" cy="438.01" r="1.05"/><circle cx="636.46" cy="435.4" r="1.05"/><circle cx="637.64" cy="430.75" r="1.05"/><circle cx="637.6" cy="429.12" r="1.05"/><circle cx="636.38" cy="434.04" r="1.05"/><circle cx="635.14" cy="428.27" r="1.05"/><circle cx="637.41" cy="434.47" r="1.05"/><circle cx="634.46" cy="437.57" r="1.05"/><circle cx="634.64" cy="433.95" r="1.05"/><circle cx="636.8" cy="433.19" r="1.05"/><circle cx="635.3" cy="431.86" r="1.05"/><circle cx="632.34" cy="433.59" r="1.05"/><circle cx="632.27" cy="434.58" r="1.05"/><circle cx="633.37" cy="431.14" r="1.05"/><circle cx="633.85" cy="428.88" r="1.05"/><circle cx="636.27" cy="435.87" r="1.05"/><circle cx="629.5" cy="433.54" r="1.05"/><circle cx="632.8" cy="435.81" r="1.05"/><circle cx="638.52" cy="432.18" r="1.05"/><circle cx="633.81" cy="430.08" r="1.05"/><circle cx="635.19" cy="436.35" r="1.05"/><circle cx="635.01" cy="433.96" r="1.05"/><circle cx="631.04" cy="433.18" r="1.05"/><circle cx="631.39" cy="432.06" r="1.05"/><circle cx="638.07" cy="433.75" r="1.05"/><circle cx="632.08" cy="429.53" r="1.05"/><circle cx="630.3" cy="431.79" r="1.05"/><circle cx="638.56" cy="432.74" r="1.05"/><circle cx="633.49" cy="429.44" r="1.05"/><circle cx="632.81" cy="437.17" r="1.05"/><circle cx="637.04" cy="432.73" r="1.05"/><circle cx="631.79" cy="436.1" r="1.05"/><circle cx="637.09" cy="438.4" r="1.05"/><circle cx="637.84" cy="433.56" r="1.05"/><circle cx="636.27" cy="431.96" r="1.05"/><circle cx="631.84" cy="430.88" r="1.05"/><circle cx="634.22" cy="436.25" r="1.05"/><circle cx="637.38" cy="437.32" r="1.05"/></g><polyline points="632.5,437 636,430" fill="none" stroke="#000" stroke-width="2.6" stroke-linecap="round" stroke-linejoin="round"/><g fill="#000"><circle cx="622.49" cy="444.36" r="0.9"/><circle cx="617.35" cy="442.86" r="0.9"/><circle cx="619.27" cy="442.52" r="0.9"/><circle cx="620.84" cy="440.21" r="0.9"/><circle cx="623.8" cy="438.01" r="0.9"/></g></g><circle cx="604.2" cy="374" r="4.2" fill="#000"/><text transform="translate(613.31 378.9) scale(0.9840 1)" font-size="14.2"><tspan>ALMA</tspan></text><circle cx="671.6" cy="374" r="4.2" fill="#7a7a7a"/><text transform="translate(681.1 378.9) scale(1.0025 1)" font-size="14.2"><tspan>SMA</tspan></text><path d="M284.23 52.7v3.6M284.23 306.85v-3.6M251.1 52.7v3.6M251.1 306.85v-3.6M217.97 52.7v3.6M217.97 306.85v-3.6M184.85 52.7v3.6M184.85 306.85v-3.6M151.72 52.7v3.6M151.72 306.85v-3.6M118.6 52.7v3.6M118.6 306.85v-3.6M85.47 52.7v3.6M85.47 306.85v-3.6M309.07 52.7v2M309.07 306.85v-2M300.79 52.7v2M300.79 306.85v-2M292.51 52.7v2M292.51 306.85v-2M275.94 52.7v2M275.94 306.85v-2M267.66 52.7v2M267.66 306.85v-2M259.38 52.7v2M259.38 306.85v-2M242.82 52.7v2M242.82 306.85v-2M234.54 52.7v2M234.54 306.85v-2M226.26 52.7v2M226.26 306.85v-2M209.69 52.7v2M209.69 306.85v-2M201.41 52.7v2M201.41 306.85v-2M193.13 52.7v2M193.13 306.85v-2M176.57 52.7v2M176.57 306.85v-2M168.29 52.7v2M168.29 306.85v-2M160.01 52.7v2M160.01 306.85v-2M143.44 52.7v2M143.44 306.85v-2M135.16 52.7v2M135.16 306.85v-2M126.88 52.7v2M126.88 306.85v-2M110.32 52.7v2M110.32 306.85v-2M102.04 52.7v2M102.04 306.85v-2M93.76 52.7v2M93.76 306.85v-2M77.19 52.7v2M77.19 306.85v-2M68.91 52.7v2M68.91 306.85v-2M60.63 52.7v2M60.63 306.85v-2M52.45 278.98h3.6M317.2 278.98h-3.6M52.45 245.85h3.6M317.2 245.85h-3.6M52.45 212.72h3.6M317.2 212.72h-3.6M52.45 179.6h3.6M317.2 179.6h-3.6M52.45 146.47h3.6M317.2 146.47h-3.6M52.45 113.35h3.6M317.2 113.35h-3.6M52.45 80.22h3.6M317.2 80.22h-3.6M52.45 303.82h2M317.2 303.82h-2M52.45 295.54h2M317.2 295.54h-2M52.45 287.26h2M317.2 287.26h-2M52.45 270.69h2M317.2 270.69h-2M52.45 262.41h2M317.2 262.41h-2M52.45 254.13h2M317.2 254.13h-2M52.45 237.57h2M317.2 237.57h-2M52.45 229.29h2M317.2 229.29h-2M52.45 221.01h2M317.2 221.01h-2M52.45 204.44h2M317.2 204.44h-2M52.45 196.16h2M317.2 196.16h-2M52.45 187.88h2M317.2 187.88h-2M52.45 171.32h2M317.2 171.32h-2M52.45 163.04h2M317.2 163.04h-2M52.45 154.76h2M317.2 154.76h-2M52.45 138.19h2M317.2 138.19h-2M52.45 129.91h2M317.2 129.91h-2M52.45 121.63h2M317.2 121.63h-2M52.45 105.07h2M317.2 105.07h-2M52.45 96.79h2M317.2 96.79h-2M52.45 88.51h2M317.2 88.51h-2M52.45 71.94h2M317.2 71.94h-2M52.45 63.66h2M317.2 63.66h-2M52.45 55.38h2M317.2 55.38h-2" stroke="#333" stroke-width="0.9" fill="none"/><rect x="52.45" y="52.7" width="264.75" height="254.15" fill="none" stroke="#5a5a5a" stroke-width="1.2"/><path d="M378.1 52.7v3.6M378.1 306.85v-3.6M458.7 52.7v3.6M458.7 306.85v-3.6M539.3 52.7v3.6M539.3 306.85v-3.6M619.9 52.7v3.6M619.9 306.85v-3.6M700.5 52.7v3.6M700.5 306.85v-3.6M398.25 52.7v2M398.25 306.85v-2M418.4 52.7v2M418.4 306.85v-2M438.55 52.7v2M438.55 306.85v-2M478.85 52.7v2M478.85 306.85v-2M499 52.7v2M499 306.85v-2M519.15 52.7v2M519.15 306.85v-2M559.45 52.7v2M559.45 306.85v-2M579.6 52.7v2M579.6 306.85v-2M599.75 52.7v2M599.75 306.85v-2M640.05 52.7v2M640.05 306.85v-2M660.2 52.7v2M660.2 306.85v-2M680.35 52.7v2M680.35 306.85v-2M720.65 52.7v2M720.65 306.85v-2M740.8 52.7v2M740.8 306.85v-2M370.4 287.24h3.6M740.3 287.24h-3.6M370.4 222.16h3.6M740.3 222.16h-3.6M370.4 157.08h3.6M740.3 157.08h-3.6M370.4 92h3.6M740.3 92h-3.6M370.4 306.83h2M740.3 306.83h-2M370.4 301.68h2M740.3 301.68h-2M370.4 297.32h2M740.3 297.32h-2M370.4 293.55h2M740.3 293.55h-2M370.4 290.22h2M740.3 290.22h-2M370.4 267.65h2M740.3 267.65h-2M370.4 256.19h2M740.3 256.19h-2M370.4 248.06h2M740.3 248.06h-2M370.4 241.75h2M740.3 241.75h-2M370.4 236.6h2M740.3 236.6h-2M370.4 232.24h2M740.3 232.24h-2M370.4 228.47h2M740.3 228.47h-2M370.4 225.14h2M740.3 225.14h-2M370.4 202.57h2M740.3 202.57h-2M370.4 191.11h2M740.3 191.11h-2M370.4 182.98h2M740.3 182.98h-2M370.4 176.67h2M740.3 176.67h-2M370.4 171.52h2M740.3 171.52h-2M370.4 167.16h2M740.3 167.16h-2M370.4 163.39h2M740.3 163.39h-2M370.4 160.06h2M740.3 160.06h-2M370.4 137.49h2M740.3 137.49h-2M370.4 126.03h2M740.3 126.03h-2M370.4 117.9h2M740.3 117.9h-2M370.4 111.59h2M740.3 111.59h-2M370.4 106.44h2M740.3 106.44h-2M370.4 102.08h2M740.3 102.08h-2M370.4 98.31h2M740.3 98.31h-2M370.4 94.98h2M740.3 94.98h-2M370.4 72.41h2M740.3 72.41h-2M370.4 60.95h2M740.3 60.95h-2M370.4 52.82h2M740.3 52.82h-2" stroke="#333" stroke-width="0.9" fill="none"/><rect x="370.4" y="52.7" width="369.9" height="254.15" fill="none" stroke="#5a5a5a" stroke-width="1.2"/><path d="M99.75 349.5v3.6M99.75 455.1v-3.6M159.12 349.5v3.6M159.12 455.1v-3.6M218.5 349.5v3.6M218.5 455.1v-3.6M277.88 349.5v3.6M277.88 455.1v-3.6M337.25 349.5v3.6M337.25 455.1v-3.6M396.62 349.5v3.6M396.62 455.1v-3.6M456 349.5v3.6M456 455.1v-3.6M515.38 349.5v3.6M515.38 455.1v-3.6M574.75 349.5v3.6M574.75 455.1v-3.6M634.12 349.5v3.6M634.12 455.1v-3.6M693.5 349.5v3.6M693.5 455.1v-3.6M52.25 349.5v2M52.25 455.1v-2M64.13 349.5v2M64.13 455.1v-2M76 349.5v2M76 455.1v-2M87.88 349.5v2M87.88 455.1v-2M111.63 349.5v2M111.63 455.1v-2M123.5 349.5v2M123.5 455.1v-2M135.38 349.5v2M135.38 455.1v-2M147.25 349.5v2M147.25 455.1v-2M171 349.5v2M171 455.1v-2M182.88 349.5v2M182.88 455.1v-2M194.75 349.5v2M194.75 455.1v-2M206.63 349.5v2M206.63 455.1v-2M230.38 349.5v2M230.38 455.1v-2M242.25 349.5v2M242.25 455.1v-2M254.13 349.5v2M254.13 455.1v-2M266 349.5v2M266 455.1v-2M289.75 349.5v2M289.75 455.1v-2M301.62 349.5v2M301.62 455.1v-2M313.5 349.5v2M313.5 455.1v-2M325.38 349.5v2M325.38 455.1v-2M349.13 349.5v2M349.13 455.1v-2M361 349.5v2M361 455.1v-2M372.88 349.5v2M372.88 455.1v-2M384.75 349.5v2M384.75 455.1v-2M408.5 349.5v2M408.5 455.1v-2M420.38 349.5v2M420.38 455.1v-2M432.25 349.5v2M432.25 455.1v-2M444.13 349.5v2M444.13 455.1v-2M467.88 349.5v2M467.88 455.1v-2M479.75 349.5v2M479.75 455.1v-2M491.63 349.5v2M491.63 455.1v-2M503.5 349.5v2M503.5 455.1v-2M527.25 349.5v2M527.25 455.1v-2M539.12 349.5v2M539.12 455.1v-2M551 349.5v2M551 455.1v-2M562.88 349.5v2M562.88 455.1v-2M586.62 349.5v2M586.62 455.1v-2M598.5 349.5v2M598.5 455.1v-2M610.38 349.5v2M610.38 455.1v-2M622.25 349.5v2M622.25 455.1v-2M646 349.5v2M646 455.1v-2M657.88 349.5v2M657.88 455.1v-2M669.75 349.5v2M669.75 455.1v-2M681.62 349.5v2M681.62 455.1v-2M705.38 349.5v2M705.38 455.1v-2M717.25 349.5v2M717.25 455.1v-2M729.13 349.5v2M729.13 455.1v-2M741 349.5v2M741 455.1v-2M52.45 437.42h3.6M740.5 437.42h-3.6M52.45 413.88h3.6M740.5 413.88h-3.6M52.45 390.34h3.6M740.5 390.34h-3.6M52.45 366.8h3.6M740.5 366.8h-3.6M52.45 455.08h2M740.5 455.08h-2M52.45 449.19h2M740.5 449.19h-2M52.45 443.31h2M740.5 443.31h-2M52.45 431.53h2M740.5 431.53h-2M52.45 425.65h2M740.5 425.65h-2M52.45 419.76h2M740.5 419.76h-2M52.45 408h2M740.5 408h-2M52.45 402.11h2M740.5 402.11h-2M52.45 396.23h2M740.5 396.23h-2M52.45 384.45h2M740.5 384.45h-2M52.45 378.57h2M740.5 378.57h-2M52.45 372.69h2M740.5 372.69h-2M52.45 360.91h2M740.5 360.91h-2M52.45 355.03h2M740.5 355.03h-2M52.45 349.15h2M740.5 349.15h-2" stroke="#333" stroke-width="0.9" fill="none"/><rect x="52.45" y="349.5" width="688.05" height="105.6" fill="none" stroke="#5a5a5a" stroke-width="1.2"/><text x="76.66" y="319.3" font-size="13.8">7.5</text><text x="109.84" y="319.3" font-size="13.8">5.0</text><text x="143.07" y="319.3" font-size="13.8">2.5</text><text x="176.22" y="319.3" font-size="13.8">0.0</text><rect x="205.57" y="315.35" width="8.4" height="0.9" fill="#333"/><text x="214.67" y="319.3" font-size="13.8">2.5</text><rect x="238.79" y="315.35" width="8.4" height="0.9" fill="#333"/><text x="247.69" y="319.3" font-size="13.8">5.0</text><rect x="271.97" y="315.35" width="8.4" height="0.9" fill="#333"/><text x="280.76" y="319.3" font-size="13.8">7.5</text><text x="33.29" y="85.32" font-size="13.8">7.5</text><text x="33.28" y="118.45" font-size="13.8">5.0</text><text x="33.29" y="151.57" font-size="13.8">2.5</text><text x="33.28" y="184.7" font-size="13.8">0.0</text><rect x="24.2" y="213.88" width="8.4" height="0.9" fill="#333"/><text x="33.29" y="217.82" font-size="13.8">2.5</text><rect x="24.38" y="247" width="8.4" height="0.9" fill="#333"/><text x="33.28" y="250.95" font-size="13.8">5.0</text><rect x="24.5" y="280.13" width="8.4" height="0.9" fill="#333"/><text x="33.29" y="284.08" font-size="13.8">7.5</text><text transform="translate(163.23 335.3) scale(1.0662 1)" font-size="15.5"><tspan font-style="italic">u</tspan><tspan> (Gλ)</tspan></text><text transform="translate(16.4 200.27) rotate(-90) scale(1.0362 1)" font-size="15.5"><tspan font-style="italic">v</tspan><tspan> (Gλ)</tspan></text><text x="378.1" y="319.3" font-size="13.8" text-anchor="middle">0</text><text x="458.7" y="319.3" font-size="13.8" text-anchor="middle">2</text><text x="539.3" y="319.3" font-size="13.8" text-anchor="middle">4</text><text x="619.9" y="319.3" font-size="13.8" text-anchor="middle">6</text><text x="700.5" y="319.3" font-size="13.8" text-anchor="middle">8</text><text x="362.2" y="97.6" font-size="13.8" text-anchor="end">10</text><text x="368.6" y="91.6" font-size="9.6" text-anchor="end">0</text><text x="355.9" y="162.88" font-size="13.8" text-anchor="end">10</text><rect x="356.0" y="154.18" width="5.9" height="0.8" fill="#333"/><text x="368.4" y="156.88" font-size="9.6" text-anchor="end">1</text><text x="355.9" y="227.96" font-size="13.8" text-anchor="end">10</text><rect x="356.0" y="219.26" width="5.9" height="0.8" fill="#333"/><text x="368.4" y="221.96" font-size="9.6" text-anchor="end">2</text><text x="355.9" y="293.04" font-size="13.8" text-anchor="end">10</text><rect x="356.0" y="284.34" width="5.9" height="0.8" fill="#333"/><text x="368.4" y="287.04" font-size="9.6" text-anchor="end">3</text><text transform="translate(513.11 336) scale(0.9830 1)" font-size="15.5"><tspan>Baseline (Gλ)</tspan></text><text transform="translate(336.6 234.11) rotate(-90) scale(0.9951 1)" font-size="15.9"><tspan>Flux Density (Jy)</tspan></text><text x="99.75" y="467.4" font-size="13.8" text-anchor="middle">5</text><text x="159.12" y="467.4" font-size="13.8" text-anchor="middle">6</text><text x="218.5" y="467.4" font-size="13.8" text-anchor="middle">7</text><text x="277.88" y="467.4" font-size="13.8" text-anchor="middle">8</text><text x="337.25" y="467.4" font-size="13.8" text-anchor="middle">9</text><text x="396.62" y="467.4" font-size="13.8" text-anchor="middle">10</text><text x="456" y="467.4" font-size="13.8" text-anchor="middle">11</text><text x="515.38" y="467.4" font-size="13.8" text-anchor="middle">12</text><text x="574.75" y="467.4" font-size="13.8" text-anchor="middle">13</text><text x="634.12" y="467.4" font-size="13.8" text-anchor="middle">14</text><text x="693.5" y="467.4" font-size="13.8" text-anchor="middle">15</text><text x="50.3" y="442.52" font-size="13.8" text-anchor="end">2.0</text><text x="50.3" y="418.98" font-size="13.8" text-anchor="end">2.2</text><text x="50.3" y="395.44" font-size="13.8" text-anchor="end">2.4</text><text x="50.3" y="371.9" font-size="13.8" text-anchor="end">2.6</text><text transform="translate(369.57 483.9) scale(0.9870 1)" font-size="15.5"><tspan>Time (h)</tspan></text><text transform="translate(27.7 443.42) rotate(-90) scale(0.9915 1)" font-size="12.9"><tspan>Flux Density (Jy)</tspan></text><rect x="52.4" y="4.6" width="688" height="42.8" rx="2.5" fill="#fff" stroke="#d8d8d8" stroke-width="1"/><circle cx="71.4" cy="15.9" r="3.7" fill="#000000"/><circle cx="71.4" cy="36.0" r="3.7" fill="#33cc33"/><text transform="translate(86.66 20) scale(0.9843 1)" font-size="13.8"><tspan>intrasite</tspan></text><text transform="translate(86.22 40.1) scale(0.9376 1)" font-size="13.8"><tspan>Chile-SMT</tspan></text><circle cx="162.6" cy="15.9" r="3.7" fill="#cc99f5"/><circle cx="162.6" cy="36.0" r="3.7" fill="#14679c"/><text transform="translate(177.73 20) scale(0.9141 1)" font-size="13.8"><tspan>Chile-Hawai’i</tspan></text><text transform="translate(177.72 40.1) scale(0.9407 1)" font-size="13.8"><tspan>Chile-LMT</tspan></text><circle cx="267.1" cy="15.9" r="3.7" fill="#3399f2"/><circle cx="267.1" cy="36.0" r="3.7" fill="#f20d0d"/><text transform="translate(282.31 20) scale(0.9550 1)" font-size="13.8"><tspan>Chile-PV</tspan></text><text transform="translate(282.31 40.1) scale(0.9621 1)" font-size="13.8"><tspan>Chile-SPT</tspan></text><circle cx="355.5" cy="15.9" r="3.7" fill="#cc9914"/><circle cx="355.5" cy="36.0" r="3.7" fill="#3333f2"/><text transform="translate(370.4 20) scale(0.9170 1)" font-size="13.8"><tspan>SMT-Hawai’i</tspan></text><text transform="translate(370.36 40.1) scale(0.9615 1)" font-size="13.8"><tspan>SMT-LMT</tspan></text><circle cx="459.4" cy="15.9" r="3.7" fill="#f5857a"/><circle cx="459.4" cy="36.0" r="3.7" fill="#cc0ccc"/><text transform="translate(473.74 20) scale(0.9893 1)" font-size="13.8"><tspan>SMT-SPT</tspan></text><text transform="translate(474.28 40.1) scale(0.9259 1)" font-size="13.8"><tspan>Hawai’i-LMT</tspan></text><circle cx="564" cy="15.9" r="3.7" fill="#0c6612"/><circle cx="564" cy="36.0" r="3.7" fill="#9e5e2e"/><text transform="translate(579.18 20) scale(0.9239 1)" font-size="13.8"><tspan>Hawai’i-SPT</tspan></text><text transform="translate(579.17 40.1) scale(0.9663 1)" font-size="13.8"><tspan>LMT-PV</tspan></text><circle cx="664.4" cy="15.9" r="3.7" fill="#dede12"/><circle cx="664.4" cy="36.0" r="3.7" fill="#8a3f14"/><text transform="translate(679.97 20) scale(0.9529 1)" font-size="13.8"><tspan>LMT-SPT</tspan></text><text transform="translate(679.85 40.1) scale(0.9980 1)" font-size="13.8"><tspan>PV-SPT</tspan></text></svg></body></html>
